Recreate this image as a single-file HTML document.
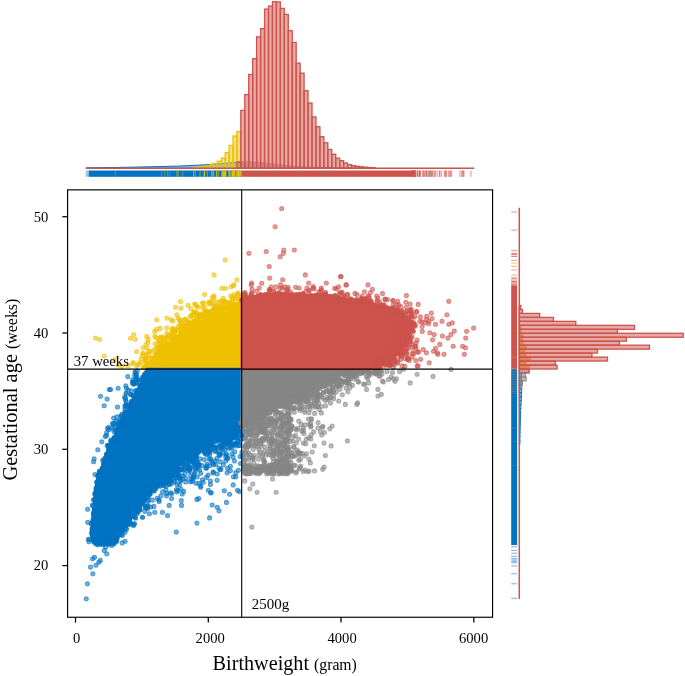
<!DOCTYPE html>
<html lang="en">
<head>
<meta charset="utf-8">
<title>Birthweight vs gestational age</title>
<style>
html,body{margin:0;padding:0;background:#fff;}
body{width:685px;height:676px;overflow:hidden;font-family:"Liberation Serif",serif;}
svg{display:block;}
.t text{font-family:"Liberation Serif",serif;fill:#000;}
svg{will-change:transform;}
.pts circle{r:2.05px;fill-opacity:.55;stroke-opacity:.6;stroke-width:1.05px;}
.pts .n circle{fill-opacity:.8;stroke-opacity:.8;}
</style>
</head>
<body>
<svg width="685" height="676" viewBox="0 0 685 676"><rect width="685" height="676" fill="#fff"/><g class="pts"><path d="M241.7 369.1 L241.7 304.8 L239.9 305.3 L230.5 306.6 L221.0 308.5 L213.0 311.2 L205.5 314.6 L197.5 318.9 L189.9 324.0 L186.0 327.6 L182.2 331.7 L178.2 336.3 L174.2 341.3 L170.0 345.5 L166.1 349.4 L162.0 353.5 L158.0 357.5 L153.8 361.0 L149.9 364.0 L147.9 366.4 L145.7 369.1Z" fill="#EFC000" stroke="#EFC000" stroke-width="2.5" stroke-linejoin="round"/><g fill="#EFC000" stroke="#EFC000"><g class="n"><circle cx="178.3" cy="339.0" r="2.05"/><circle cx="210.2" cy="314.0" r="2.05"/><circle cx="199.8" cy="321.4" r="2.05"/><circle cx="156.2" cy="357.7" r="2.05"/><circle cx="223.9" cy="310.1" r="2.05"/><circle cx="168.0" cy="350.2" r="2.05"/><circle cx="160.1" cy="358.3" r="2.05"/><circle cx="233.8" cy="306.2" r="2.05"/><circle cx="227.5" cy="308.8" r="2.05"/><circle cx="212.9" cy="310.6" r="2.05"/><circle cx="179.3" cy="330.1" r="2.05"/><circle cx="189.8" cy="323.1" r="2.05"/><circle cx="230.1" cy="309.4" r="2.05"/><circle cx="150.4" cy="366.7" r="2.05"/><circle cx="190.8" cy="323.7" r="2.05"/><circle cx="152.0" cy="363.5" r="2.05"/><circle cx="182.2" cy="336.1" r="2.05"/><circle cx="215.6" cy="314.0" r="2.05"/><circle cx="240.9" cy="306.2" r="2.05"/><circle cx="179.4" cy="335.7" r="2.05"/><circle cx="200.4" cy="321.8" r="2.05"/><circle cx="151.4" cy="357.7" r="2.05"/><circle cx="221.1" cy="311.6" r="2.05"/><circle cx="217.5" cy="309.7" r="2.05"/><circle cx="154.5" cy="357.9" r="2.05"/><circle cx="150.1" cy="366.7" r="2.05"/><circle cx="167.3" cy="349.4" r="2.05"/><circle cx="194.3" cy="321.4" r="2.05"/><circle cx="195.8" cy="316.5" r="2.05"/><circle cx="229.2" cy="305.5" r="2.05"/><circle cx="204.8" cy="316.5" r="2.05"/><circle cx="160.1" cy="359.4" r="2.05"/><circle cx="179.9" cy="338.9" r="2.05"/><circle cx="155.8" cy="362.0" r="2.05"/><circle cx="183.6" cy="333.6" r="2.05"/><circle cx="199.4" cy="315.8" r="2.05"/><circle cx="176.5" cy="341.6" r="2.05"/><circle cx="225.1" cy="309.1" r="2.05"/><circle cx="210.8" cy="315.3" r="2.05"/><circle cx="203.4" cy="314.8" r="2.05"/><circle cx="151.1" cy="364.2" r="2.05"/><circle cx="168.2" cy="347.5" r="2.05"/><circle cx="231.0" cy="309.6" r="2.05"/><circle cx="211.5" cy="311.2" r="2.05"/><circle cx="171.5" cy="347.7" r="2.05"/><circle cx="154.2" cy="362.6" r="2.05"/><circle cx="191.4" cy="324.9" r="2.05"/><circle cx="202.8" cy="315.5" r="2.05"/><circle cx="189.8" cy="324.0" r="2.05"/><circle cx="160.5" cy="353.9" r="2.05"/><circle cx="172.4" cy="347.5" r="2.05"/><circle cx="197.4" cy="320.3" r="2.05"/><circle cx="193.3" cy="324.9" r="2.05"/><circle cx="231.9" cy="307.0" r="2.05"/><circle cx="214.2" cy="309.1" r="2.05"/><circle cx="231.3" cy="305.4" r="2.05"/><circle cx="155.4" cy="363.3" r="2.05"/><circle cx="168.9" cy="345.5" r="2.05"/><circle cx="237.4" cy="306.3" r="2.05"/><circle cx="219.9" cy="309.2" r="2.05"/><circle cx="229.2" cy="307.7" r="2.05"/><circle cx="167.1" cy="349.5" r="2.05"/><circle cx="170.0" cy="345.9" r="2.05"/><circle cx="155.4" cy="360.9" r="2.05"/><circle cx="161.5" cy="356.7" r="2.05"/><circle cx="177.9" cy="338.3" r="2.05"/><circle cx="226.6" cy="308.4" r="2.05"/><circle cx="210.7" cy="315.1" r="2.05"/><circle cx="143.0" cy="353.2" r="2.05"/><circle cx="193.3" cy="324.2" r="2.05"/><circle cx="164.3" cy="354.2" r="2.05"/><circle cx="201.8" cy="320.0" r="2.05"/><circle cx="220.5" cy="307.8" r="2.05"/><circle cx="207.6" cy="312.9" r="2.05"/><circle cx="180.2" cy="335.7" r="2.05"/><circle cx="192.3" cy="325.0" r="2.05"/><circle cx="181.2" cy="331.9" r="2.05"/><circle cx="160.4" cy="356.6" r="2.05"/><circle cx="227.8" cy="309.0" r="2.05"/><circle cx="225.0" cy="307.9" r="2.05"/><circle cx="215.3" cy="313.9" r="2.05"/><circle cx="155.1" cy="362.2" r="2.05"/><circle cx="184.0" cy="331.5" r="2.05"/><circle cx="234.7" cy="308.8" r="2.05"/><circle cx="186.2" cy="328.0" r="2.05"/><circle cx="169.6" cy="348.8" r="2.05"/><circle cx="235.8" cy="304.4" r="2.05"/><circle cx="186.0" cy="331.9" r="2.05"/><circle cx="191.7" cy="323.7" r="2.05"/><circle cx="171.5" cy="345.4" r="2.05"/><circle cx="240.7" cy="305.4" r="2.05"/><circle cx="213.7" cy="313.0" r="2.05"/><circle cx="161.7" cy="354.1" r="2.05"/><circle cx="167.4" cy="348.8" r="2.05"/><circle cx="237.4" cy="305.9" r="2.05"/><circle cx="146.4" cy="363.4" r="2.05"/><circle cx="209.2" cy="312.0" r="2.05"/><circle cx="231.8" cy="306.1" r="2.05"/><circle cx="160.8" cy="355.7" r="2.05"/><circle cx="149.9" cy="364.6" r="2.05"/><circle cx="205.8" cy="311.7" r="2.05"/><circle cx="149.6" cy="367.3" r="2.05"/><circle cx="226.9" cy="311.0" r="2.05"/><circle cx="172.9" cy="346.4" r="2.05"/><circle cx="227.2" cy="310.3" r="2.05"/><circle cx="200.8" cy="316.8" r="2.05"/><circle cx="154.8" cy="360.3" r="2.05"/><circle cx="187.6" cy="329.6" r="2.05"/><circle cx="167.8" cy="350.9" r="2.05"/><circle cx="187.8" cy="329.3" r="2.05"/><circle cx="200.7" cy="318.8" r="2.05"/><circle cx="200.5" cy="318.2" r="2.05"/><circle cx="236.4" cy="304.3" r="2.05"/><circle cx="237.6" cy="306.8" r="2.05"/><circle cx="229.7" cy="302.8" r="2.05"/><circle cx="182.7" cy="332.4" r="2.05"/><circle cx="151.9" cy="360.0" r="2.05"/><circle cx="174.9" cy="342.2" r="2.05"/><circle cx="182.3" cy="330.0" r="2.05"/><circle cx="229.7" cy="306.7" r="2.05"/><circle cx="221.6" cy="311.0" r="2.05"/><circle cx="156.8" cy="361.0" r="2.05"/><circle cx="202.6" cy="318.5" r="2.05"/><circle cx="239.6" cy="304.8" r="2.05"/><circle cx="190.3" cy="326.4" r="2.05"/><circle cx="231.8" cy="307.6" r="2.05"/><circle cx="182.7" cy="328.0" r="2.05"/><circle cx="152.9" cy="363.3" r="2.05"/><circle cx="235.2" cy="307.9" r="2.05"/><circle cx="211.8" cy="312.6" r="2.05"/><circle cx="182.7" cy="332.5" r="2.05"/><circle cx="181.6" cy="330.4" r="2.05"/><circle cx="209.3" cy="313.4" r="2.05"/><circle cx="238.2" cy="305.7" r="2.05"/><circle cx="173.9" cy="342.0" r="2.05"/><circle cx="212.7" cy="313.6" r="2.05"/><circle cx="236.2" cy="307.9" r="2.05"/><circle cx="212.5" cy="314.5" r="2.05"/><circle cx="160.4" cy="356.1" r="2.05"/><circle cx="160.0" cy="355.0" r="2.05"/><circle cx="179.6" cy="337.7" r="2.05"/><circle cx="158.7" cy="352.3" r="2.05"/><circle cx="207.3" cy="316.6" r="2.05"/><circle cx="163.5" cy="347.3" r="2.05"/><circle cx="153.5" cy="365.7" r="2.05"/><circle cx="186.1" cy="324.7" r="2.05"/><circle cx="217.3" cy="311.9" r="2.05"/><circle cx="200.2" cy="317.7" r="2.05"/><circle cx="241.2" cy="305.8" r="2.05"/><circle cx="188.6" cy="326.9" r="2.05"/><circle cx="159.3" cy="349.8" r="2.05"/><circle cx="188.9" cy="326.5" r="2.05"/><circle cx="241.0" cy="307.1" r="2.05"/><circle cx="159.9" cy="354.9" r="2.05"/><circle cx="176.1" cy="342.0" r="2.05"/><circle cx="223.1" cy="308.4" r="2.05"/><circle cx="237.3" cy="306.7" r="2.05"/><circle cx="210.7" cy="315.8" r="2.05"/><circle cx="158.4" cy="357.7" r="2.05"/><circle cx="162.9" cy="346.0" r="2.05"/><circle cx="191.1" cy="323.6" r="2.05"/><circle cx="162.3" cy="349.9" r="2.05"/><circle cx="159.6" cy="359.2" r="2.05"/><circle cx="157.6" cy="355.4" r="2.05"/><circle cx="152.4" cy="363.4" r="2.05"/><circle cx="201.9" cy="318.4" r="2.05"/><circle cx="181.4" cy="332.4" r="2.05"/><circle cx="187.7" cy="322.9" r="2.05"/><circle cx="217.3" cy="310.7" r="2.05"/><circle cx="175.2" cy="331.1" r="2.05"/><circle cx="214.5" cy="311.6" r="2.05"/><circle cx="222.5" cy="310.5" r="2.05"/><circle cx="158.1" cy="357.6" r="2.05"/><circle cx="179.8" cy="338.1" r="2.05"/><circle cx="162.0" cy="358.3" r="2.05"/><circle cx="149.4" cy="364.2" r="2.05"/><circle cx="239.5" cy="307.8" r="2.05"/><circle cx="148.0" cy="364.7" r="2.05"/><circle cx="224.6" cy="306.1" r="2.05"/><circle cx="199.3" cy="318.7" r="2.05"/><circle cx="242.1" cy="307.2" r="2.05"/><circle cx="179.1" cy="337.2" r="2.05"/><circle cx="161.9" cy="355.5" r="2.05"/><circle cx="145.5" cy="359.1" r="2.05"/><circle cx="196.5" cy="322.7" r="2.05"/><circle cx="202.2" cy="318.1" r="2.05"/><circle cx="190.9" cy="323.1" r="2.05"/><circle cx="163.1" cy="349.1" r="2.05"/><circle cx="170.0" cy="347.9" r="2.05"/><circle cx="182.5" cy="326.7" r="2.05"/><circle cx="151.2" cy="362.8" r="2.05"/><circle cx="149.4" cy="366.4" r="2.05"/><circle cx="173.9" cy="341.6" r="2.05"/><circle cx="155.1" cy="361.7" r="2.05"/><circle cx="153.5" cy="363.3" r="2.05"/><circle cx="185.8" cy="325.1" r="2.05"/><circle cx="240.0" cy="302.7" r="2.05"/><circle cx="182.7" cy="334.7" r="2.05"/><circle cx="222.5" cy="311.4" r="2.05"/><circle cx="232.2" cy="307.8" r="2.05"/><circle cx="212.8" cy="314.7" r="2.05"/><circle cx="207.5" cy="314.4" r="2.05"/><circle cx="213.8" cy="309.4" r="2.05"/><circle cx="217.9" cy="310.6" r="2.05"/><circle cx="233.1" cy="308.3" r="2.05"/><circle cx="201.1" cy="319.4" r="2.05"/><circle cx="177.1" cy="341.7" r="2.05"/><circle cx="201.7" cy="316.2" r="2.05"/><circle cx="147.5" cy="366.0" r="2.05"/><circle cx="216.0" cy="311.7" r="2.05"/><circle cx="163.1" cy="354.7" r="2.05"/><circle cx="207.4" cy="315.9" r="2.05"/><circle cx="215.5" cy="310.9" r="2.05"/><circle cx="160.6" cy="352.2" r="2.05"/><circle cx="188.6" cy="326.2" r="2.05"/><circle cx="185.2" cy="328.1" r="2.05"/><circle cx="242.3" cy="303.1" r="2.05"/><circle cx="224.9" cy="308.7" r="2.05"/><circle cx="152.6" cy="365.0" r="2.05"/><circle cx="204.2" cy="318.0" r="2.05"/><circle cx="184.0" cy="331.4" r="2.05"/><circle cx="216.4" cy="310.5" r="2.05"/><circle cx="183.0" cy="328.4" r="2.05"/><circle cx="215.4" cy="308.1" r="2.05"/><circle cx="235.6" cy="307.4" r="2.05"/><circle cx="162.2" cy="353.9" r="2.05"/><circle cx="215.6" cy="312.0" r="2.05"/><circle cx="207.8" cy="315.9" r="2.05"/><circle cx="151.6" cy="365.7" r="2.05"/><circle cx="169.5" cy="351.5" r="2.05"/><circle cx="184.1" cy="326.2" r="2.05"/><circle cx="209.9" cy="315.5" r="2.05"/><circle cx="208.1" cy="314.0" r="2.05"/><circle cx="228.4" cy="308.4" r="2.05"/><circle cx="161.9" cy="350.0" r="2.05"/><circle cx="155.9" cy="358.3" r="2.05"/><circle cx="198.3" cy="319.7" r="2.05"/><circle cx="206.2" cy="315.2" r="2.05"/><circle cx="234.5" cy="305.6" r="2.05"/><circle cx="166.3" cy="350.4" r="2.05"/><circle cx="174.2" cy="342.1" r="2.05"/><circle cx="184.0" cy="328.4" r="2.05"/><circle cx="180.8" cy="334.4" r="2.05"/><circle cx="178.7" cy="336.3" r="2.05"/><circle cx="174.1" cy="341.5" r="2.05"/><circle cx="166.4" cy="350.3" r="2.05"/><circle cx="177.1" cy="338.0" r="2.05"/><circle cx="216.6" cy="311.0" r="2.05"/><circle cx="175.3" cy="339.2" r="2.05"/><circle cx="213.2" cy="313.1" r="2.05"/><circle cx="173.5" cy="335.9" r="2.05"/><circle cx="143.4" cy="367.4" r="2.05"/><circle cx="176.2" cy="341.8" r="2.05"/><circle cx="186.7" cy="329.5" r="2.05"/><circle cx="185.9" cy="329.1" r="2.05"/><circle cx="217.4" cy="310.8" r="2.05"/><circle cx="177.2" cy="340.8" r="2.05"/><circle cx="182.4" cy="331.8" r="2.05"/><circle cx="174.8" cy="331.8" r="2.05"/><circle cx="205.3" cy="317.7" r="2.05"/><circle cx="215.9" cy="306.7" r="2.05"/><circle cx="187.1" cy="330.5" r="2.05"/><circle cx="207.4" cy="315.9" r="2.05"/><circle cx="165.0" cy="352.4" r="2.05"/><circle cx="192.1" cy="324.0" r="2.05"/><circle cx="214.0" cy="311.9" r="2.05"/><circle cx="167.3" cy="342.7" r="2.05"/><circle cx="166.0" cy="343.6" r="2.05"/><circle cx="191.7" cy="322.9" r="2.05"/><circle cx="174.4" cy="339.9" r="2.05"/><circle cx="232.8" cy="309.2" r="2.05"/><circle cx="229.1" cy="309.1" r="2.05"/><circle cx="170.4" cy="348.6" r="2.05"/><circle cx="231.4" cy="308.7" r="2.05"/><circle cx="157.5" cy="354.2" r="2.05"/><circle cx="159.7" cy="358.9" r="2.05"/><circle cx="150.3" cy="362.6" r="2.05"/><circle cx="155.8" cy="354.5" r="2.05"/><circle cx="201.1" cy="318.8" r="2.05"/><circle cx="214.4" cy="309.8" r="2.05"/><circle cx="165.3" cy="353.9" r="2.05"/><circle cx="199.9" cy="314.3" r="2.05"/><circle cx="169.9" cy="347.6" r="2.05"/><circle cx="219.0" cy="310.6" r="2.05"/><circle cx="174.7" cy="343.3" r="2.05"/><circle cx="172.1" cy="344.3" r="2.05"/><circle cx="234.5" cy="306.2" r="2.05"/><circle cx="182.6" cy="334.0" r="2.05"/><circle cx="171.6" cy="346.7" r="2.05"/><circle cx="185.5" cy="327.6" r="2.05"/><circle cx="210.1" cy="312.6" r="2.05"/><circle cx="163.6" cy="354.1" r="2.05"/><circle cx="161.3" cy="355.0" r="2.05"/><circle cx="176.1" cy="341.3" r="2.05"/><circle cx="238.3" cy="307.0" r="2.05"/><circle cx="164.7" cy="353.7" r="2.05"/><circle cx="183.4" cy="331.2" r="2.05"/><circle cx="215.6" cy="311.6" r="2.05"/><circle cx="158.4" cy="354.7" r="2.05"/><circle cx="148.5" cy="365.1" r="2.05"/><circle cx="220.1" cy="308.4" r="2.05"/><circle cx="160.3" cy="354.3" r="2.05"/><circle cx="182.3" cy="334.2" r="2.05"/><circle cx="156.4" cy="355.6" r="2.05"/><circle cx="174.4" cy="338.1" r="2.05"/><circle cx="155.5" cy="355.8" r="2.05"/><circle cx="221.1" cy="308.4" r="2.05"/><circle cx="165.6" cy="349.0" r="2.05"/><circle cx="171.8" cy="345.6" r="2.05"/><circle cx="178.8" cy="336.6" r="2.05"/><circle cx="179.9" cy="338.0" r="2.05"/><circle cx="159.8" cy="357.8" r="2.05"/><circle cx="167.5" cy="348.1" r="2.05"/><circle cx="170.6" cy="348.0" r="2.05"/><circle cx="196.2" cy="321.9" r="2.05"/><circle cx="230.2" cy="303.6" r="2.05"/><circle cx="220.1" cy="311.2" r="2.05"/><circle cx="160.2" cy="347.1" r="2.05"/><circle cx="189.6" cy="327.4" r="2.05"/><circle cx="192.7" cy="324.7" r="2.05"/><circle cx="171.0" cy="340.7" r="2.05"/><circle cx="179.1" cy="339.2" r="2.05"/><circle cx="221.8" cy="310.6" r="2.05"/><circle cx="230.3" cy="309.1" r="2.05"/><circle cx="217.9" cy="312.4" r="2.05"/><circle cx="194.1" cy="320.7" r="2.05"/><circle cx="212.8" cy="312.2" r="2.05"/><circle cx="217.5" cy="311.4" r="2.05"/><circle cx="216.5" cy="313.0" r="2.05"/><circle cx="170.5" cy="347.3" r="2.05"/><circle cx="209.0" cy="313.6" r="2.05"/><circle cx="193.1" cy="325.2" r="2.05"/><circle cx="188.8" cy="326.9" r="2.05"/><circle cx="149.5" cy="367.6" r="2.05"/><circle cx="204.0" cy="316.8" r="2.05"/><circle cx="196.8" cy="320.4" r="2.05"/><circle cx="205.3" cy="313.1" r="2.05"/><circle cx="154.4" cy="359.0" r="2.05"/><circle cx="204.8" cy="317.7" r="2.05"/><circle cx="202.1" cy="315.3" r="2.05"/><circle cx="181.5" cy="335.0" r="2.05"/><circle cx="208.8" cy="316.1" r="2.05"/><circle cx="176.7" cy="336.8" r="2.05"/><circle cx="207.3" cy="314.1" r="2.05"/><circle cx="219.3" cy="310.1" r="2.05"/><circle cx="235.0" cy="308.0" r="2.05"/><circle cx="219.2" cy="311.5" r="2.05"/><circle cx="196.4" cy="321.0" r="2.05"/><circle cx="179.8" cy="335.3" r="2.05"/><circle cx="157.6" cy="358.6" r="2.05"/><circle cx="214.2" cy="313.4" r="2.05"/><circle cx="184.3" cy="331.1" r="2.05"/><circle cx="189.5" cy="326.2" r="2.05"/><circle cx="183.3" cy="332.1" r="2.05"/><circle cx="165.1" cy="352.0" r="2.05"/><circle cx="168.6" cy="345.9" r="2.05"/><circle cx="223.2" cy="310.6" r="2.05"/><circle cx="152.8" cy="365.9" r="2.05"/><circle cx="207.2" cy="311.4" r="2.05"/><circle cx="231.9" cy="302.1" r="2.05"/><circle cx="211.2" cy="312.9" r="2.05"/><circle cx="183.5" cy="328.5" r="2.05"/><circle cx="187.5" cy="326.8" r="2.05"/><circle cx="233.4" cy="306.4" r="2.05"/><circle cx="179.3" cy="337.6" r="2.05"/><circle cx="228.2" cy="309.3" r="2.05"/><circle cx="172.8" cy="337.9" r="2.05"/><circle cx="231.3" cy="308.0" r="2.05"/><circle cx="162.4" cy="349.8" r="2.05"/><circle cx="229.1" cy="309.4" r="2.05"/><circle cx="181.2" cy="336.7" r="2.05"/><circle cx="157.5" cy="358.9" r="2.05"/><circle cx="226.4" cy="309.8" r="2.05"/><circle cx="200.4" cy="318.2" r="2.05"/><circle cx="203.2" cy="315.8" r="2.05"/><circle cx="160.5" cy="349.3" r="2.05"/><circle cx="166.6" cy="349.0" r="2.05"/><circle cx="185.1" cy="327.5" r="2.05"/><circle cx="193.9" cy="323.5" r="2.05"/><circle cx="184.7" cy="331.6" r="2.05"/><circle cx="147.1" cy="367.9" r="2.05"/><circle cx="174.5" cy="340.4" r="2.05"/><circle cx="178.2" cy="339.2" r="2.05"/><circle cx="221.4" cy="310.2" r="2.05"/><circle cx="144.6" cy="367.7" r="2.05"/><circle cx="170.2" cy="350.0" r="2.05"/><circle cx="160.2" cy="358.5" r="2.05"/><circle cx="212.6" cy="314.2" r="2.05"/><circle cx="150.4" cy="364.6" r="2.05"/><circle cx="163.0" cy="354.3" r="2.05"/><circle cx="172.2" cy="345.4" r="2.05"/></g><circle cx="175.6" cy="307.2" r="2.05"/><circle cx="190.9" cy="315.7" r="2.05"/><circle cx="203.7" cy="312.0" r="2.05"/><circle cx="188.2" cy="305.4" r="2.05"/><circle cx="172.5" cy="330.8" r="2.05"/><circle cx="160.6" cy="340.4" r="2.05"/><circle cx="181.5" cy="322.8" r="2.05"/><circle cx="152.5" cy="351.3" r="2.05"/><circle cx="178.5" cy="326.2" r="2.05"/><circle cx="190.6" cy="317.1" r="2.05"/><circle cx="224.2" cy="300.7" r="2.05"/><circle cx="162.7" cy="338.6" r="2.05"/><circle cx="178.0" cy="318.0" r="2.05"/><circle cx="223.1" cy="298.4" r="2.05"/><circle cx="239.6" cy="298.9" r="2.05"/><circle cx="148.6" cy="352.0" r="2.05"/><circle cx="202.6" cy="307.5" r="2.05"/><circle cx="212.3" cy="297.5" r="2.05"/><circle cx="133.4" cy="362.5" r="2.05"/><circle cx="168.0" cy="336.9" r="2.05"/><circle cx="145.7" cy="360.0" r="2.05"/><circle cx="209.0" cy="303.8" r="2.05"/><circle cx="233.0" cy="298.9" r="2.05"/><circle cx="225.5" cy="301.8" r="2.05"/><circle cx="213.9" cy="295.7" r="2.05"/><circle cx="145.9" cy="354.9" r="2.05"/><circle cx="233.9" cy="294.9" r="2.05"/><circle cx="166.8" cy="333.3" r="2.05"/><circle cx="231.2" cy="286.7" r="2.05"/><circle cx="170.7" cy="338.1" r="2.05"/><circle cx="166.5" cy="337.6" r="2.05"/><circle cx="227.3" cy="302.4" r="2.05"/><circle cx="172.4" cy="329.5" r="2.05"/><circle cx="161.0" cy="343.6" r="2.05"/><circle cx="185.3" cy="319.1" r="2.05"/><circle cx="231.7" cy="297.8" r="2.05"/><circle cx="147.3" cy="348.0" r="2.05"/><circle cx="198.2" cy="307.0" r="2.05"/><circle cx="180.1" cy="325.2" r="2.05"/><circle cx="158.6" cy="347.7" r="2.05"/><circle cx="164.7" cy="349.0" r="2.05"/><circle cx="213.9" cy="297.5" r="2.05"/><circle cx="163.9" cy="342.3" r="2.05"/><circle cx="148.4" cy="355.2" r="2.05"/><circle cx="235.4" cy="304.2" r="2.05"/><circle cx="196.6" cy="312.2" r="2.05"/><circle cx="162.3" cy="336.7" r="2.05"/><circle cx="148.0" cy="342.4" r="2.05"/><circle cx="203.4" cy="303.1" r="2.05"/><circle cx="171.2" cy="319.7" r="2.05"/><circle cx="210.7" cy="301.7" r="2.05"/><circle cx="159.8" cy="349.4" r="2.05"/><circle cx="216.0" cy="305.8" r="2.05"/><circle cx="158.1" cy="343.9" r="2.05"/><circle cx="156.8" cy="351.7" r="2.05"/><circle cx="208.7" cy="302.2" r="2.05"/><circle cx="235.5" cy="299.1" r="2.05"/><circle cx="212.8" cy="303.3" r="2.05"/><circle cx="223.2" cy="302.0" r="2.05"/><circle cx="193.6" cy="312.9" r="2.05"/><circle cx="206.4" cy="312.6" r="2.05"/><circle cx="237.6" cy="294.1" r="2.05"/><circle cx="233.3" cy="285.7" r="2.05"/><circle cx="235.5" cy="296.7" r="2.05"/><circle cx="160.6" cy="346.8" r="2.05"/><circle cx="173.0" cy="320.9" r="2.05"/><circle cx="146.0" cy="344.5" r="2.05"/><circle cx="176.8" cy="314.7" r="2.05"/><circle cx="185.8" cy="319.9" r="2.05"/><circle cx="175.2" cy="328.8" r="2.05"/><circle cx="219.8" cy="306.2" r="2.05"/><circle cx="141.7" cy="362.5" r="2.05"/><circle cx="219.1" cy="302.5" r="2.05"/><circle cx="162.5" cy="345.6" r="2.05"/><circle cx="187.6" cy="321.6" r="2.05"/><circle cx="154.9" cy="343.7" r="2.05"/><circle cx="175.2" cy="329.9" r="2.05"/><circle cx="191.4" cy="315.4" r="2.05"/><circle cx="182.5" cy="320.4" r="2.05"/><circle cx="222.9" cy="301.4" r="2.05"/><circle cx="158.6" cy="340.7" r="2.05"/><circle cx="239.2" cy="299.8" r="2.05"/><circle cx="220.5" cy="300.8" r="2.05"/><circle cx="172.0" cy="333.2" r="2.05"/><circle cx="215.7" cy="301.9" r="2.05"/><circle cx="136.7" cy="351.6" r="2.05"/><circle cx="156.8" cy="319.7" r="2.05"/><circle cx="233.9" cy="284.7" r="2.05"/><circle cx="156.7" cy="329.4" r="2.05"/><circle cx="163.3" cy="339.6" r="2.05"/><circle cx="168.5" cy="334.6" r="2.05"/><circle cx="230.7" cy="296.0" r="2.05"/><circle cx="222.3" cy="304.2" r="2.05"/><circle cx="149.5" cy="351.4" r="2.05"/><circle cx="196.5" cy="314.0" r="2.05"/><circle cx="194.8" cy="312.1" r="2.05"/><circle cx="173.2" cy="338.5" r="2.05"/><circle cx="148.1" cy="339.4" r="2.05"/><circle cx="194.2" cy="312.0" r="2.05"/><circle cx="172.2" cy="328.2" r="2.05"/><circle cx="210.1" cy="302.9" r="2.05"/><circle cx="179.5" cy="320.1" r="2.05"/><circle cx="171.7" cy="334.9" r="2.05"/><circle cx="142.5" cy="355.7" r="2.05"/><circle cx="160.3" cy="328.4" r="2.05"/><circle cx="160.3" cy="337.3" r="2.05"/><circle cx="204.6" cy="307.4" r="2.05"/><circle cx="138.3" cy="364.7" r="2.05"/><circle cx="165.9" cy="338.4" r="2.05"/><circle cx="213.2" cy="306.8" r="2.05"/><circle cx="240.1" cy="297.3" r="2.05"/><circle cx="179.6" cy="321.1" r="2.05"/><circle cx="141.1" cy="358.7" r="2.05"/><circle cx="157.2" cy="347.3" r="2.05"/><circle cx="156.5" cy="337.9" r="2.05"/><circle cx="195.8" cy="304.5" r="2.05"/><circle cx="174.9" cy="331.5" r="2.05"/><circle cx="196.6" cy="306.3" r="2.05"/><circle cx="238.2" cy="292.7" r="2.05"/><circle cx="136.9" cy="365.9" r="2.05"/><circle cx="225.1" cy="260.0" r="2.05"/><circle cx="214.1" cy="274.9" r="2.05"/><circle cx="236.9" cy="279.9" r="2.05"/><circle cx="222.0" cy="288.3" r="2.05"/><circle cx="225.6" cy="288.3" r="2.05"/><circle cx="204.6" cy="294.6" r="2.05"/><circle cx="238.3" cy="295.2" r="2.05"/><circle cx="180.5" cy="301.5" r="2.05"/><circle cx="194.6" cy="304.1" r="2.05"/><circle cx="202.5" cy="303.0" r="2.05"/><circle cx="181.0" cy="308.3" r="2.05"/><circle cx="191.0" cy="308.8" r="2.05"/><circle cx="167.0" cy="318.0" r="2.05"/><circle cx="166.8" cy="328.0" r="2.05"/><circle cx="154.7" cy="331.4" r="2.05"/><circle cx="133.7" cy="334.6" r="2.05"/><circle cx="130.5" cy="338.3" r="2.05"/><circle cx="135.3" cy="339.3" r="2.05"/><circle cx="146.8" cy="336.4" r="2.05"/><circle cx="95.6" cy="338.0" r="2.05"/><circle cx="99.8" cy="339.6" r="2.05"/><circle cx="143.1" cy="347.7" r="2.05"/><circle cx="104.3" cy="356.1" r="2.05"/><circle cx="114.8" cy="359.5" r="2.05"/><circle cx="146.8" cy="358.2" r="2.05"/><circle cx="138.9" cy="363.0" r="2.05"/><circle cx="132.4" cy="363.5" r="2.05"/><circle cx="154.7" cy="349.0" r="2.05"/><circle cx="161.3" cy="345.1" r="2.05"/><circle cx="154.7" cy="336.4" r="2.05"/><circle cx="160.0" cy="337.7" r="2.05"/><circle cx="128.0" cy="366.0" r="2.05"/><circle cx="122.0" cy="366.5" r="2.05"/><circle cx="118.0" cy="365.0" r="2.05"/></g><path d="M146.8 369.1 L241.7 369.1 L241.7 427.8 L227.7 432.9 L219.9 439.2 L212.4 442.2 L204.3 447.0 L196.7 453.1 L189.3 457.5 L181.1 461.7 L173.2 470.4 L165.7 477.2 L158.0 484.1 L150.1 491.3 L144.1 499.4 L137.4 508.0 L133.3 514.8 L129.6 521.0 L122.3 527.6 L117.8 535.2 L116.1 541.1 L112.0 543.6 L100.0 543.8 L94.5 543.0 L92.4 541.8 L91.5 534.0 L93.3 523.5 L93.5 510.1 L94.9 496.8 L96.2 483.6 L99.4 471.7 L103.8 463.3 L106.2 455.0 L109.4 447.1 L113.4 439.1 L118.3 430.9 L122.4 422.8 L126.4 414.7 L130.6 406.5 L133.8 398.3 L137.8 390.3 L142.0 382.1Z" fill="#0073C2" stroke="#0073C2" stroke-width="2.5" stroke-linejoin="round"/><g fill="#0073C2" stroke="#0073C2"><g class="n"><circle cx="166.1" cy="474.7" r="2.05"/><circle cx="156.7" cy="482.2" r="2.05"/><circle cx="231.2" cy="434.8" r="2.05"/><circle cx="209.2" cy="442.1" r="2.05"/><circle cx="151.9" cy="487.5" r="2.05"/><circle cx="195.1" cy="453.7" r="2.05"/><circle cx="161.9" cy="479.4" r="2.05"/><circle cx="228.4" cy="430.4" r="2.05"/><circle cx="209.2" cy="447.6" r="2.05"/><circle cx="221.5" cy="438.2" r="2.05"/><circle cx="148.7" cy="492.0" r="2.05"/><circle cx="167.0" cy="471.6" r="2.05"/><circle cx="209.9" cy="443.8" r="2.05"/><circle cx="240.3" cy="429.4" r="2.05"/><circle cx="207.0" cy="445.9" r="2.05"/><circle cx="122.4" cy="529.8" r="2.05"/><circle cx="138.8" cy="503.7" r="2.05"/><circle cx="237.1" cy="427.4" r="2.05"/><circle cx="133.2" cy="515.3" r="2.05"/><circle cx="219.8" cy="437.0" r="2.05"/><circle cx="162.5" cy="483.9" r="2.05"/><circle cx="115.7" cy="535.5" r="2.05"/><circle cx="121.0" cy="527.8" r="2.05"/><circle cx="173.8" cy="466.5" r="2.05"/><circle cx="164.1" cy="480.5" r="2.05"/><circle cx="190.5" cy="457.2" r="2.05"/><circle cx="136.9" cy="504.3" r="2.05"/><circle cx="158.2" cy="481.0" r="2.05"/><circle cx="129.1" cy="519.5" r="2.05"/><circle cx="120.6" cy="529.2" r="2.05"/><circle cx="154.3" cy="482.8" r="2.05"/><circle cx="222.7" cy="435.9" r="2.05"/><circle cx="136.8" cy="507.6" r="2.05"/><circle cx="181.7" cy="463.8" r="2.05"/><circle cx="157.6" cy="482.2" r="2.05"/><circle cx="208.4" cy="446.7" r="2.05"/><circle cx="137.0" cy="506.0" r="2.05"/><circle cx="160.5" cy="482.7" r="2.05"/><circle cx="198.8" cy="450.1" r="2.05"/><circle cx="140.0" cy="505.0" r="2.05"/><circle cx="207.5" cy="442.3" r="2.05"/><circle cx="135.5" cy="517.9" r="2.05"/><circle cx="235.7" cy="428.4" r="2.05"/><circle cx="143.5" cy="495.9" r="2.05"/><circle cx="128.1" cy="521.4" r="2.05"/><circle cx="118.6" cy="531.4" r="2.05"/><circle cx="179.2" cy="470.7" r="2.05"/><circle cx="198.4" cy="449.4" r="2.05"/><circle cx="138.7" cy="501.8" r="2.05"/><circle cx="147.7" cy="492.1" r="2.05"/><circle cx="175.0" cy="467.1" r="2.05"/><circle cx="210.3" cy="442.9" r="2.05"/><circle cx="148.2" cy="491.3" r="2.05"/><circle cx="232.5" cy="433.9" r="2.05"/><circle cx="238.1" cy="426.1" r="2.05"/><circle cx="133.1" cy="514.8" r="2.05"/><circle cx="225.9" cy="435.7" r="2.05"/><circle cx="185.5" cy="456.6" r="2.05"/><circle cx="129.0" cy="518.5" r="2.05"/><circle cx="161.6" cy="478.6" r="2.05"/><circle cx="146.3" cy="494.4" r="2.05"/><circle cx="115.5" cy="537.6" r="2.05"/><circle cx="183.2" cy="460.1" r="2.05"/><circle cx="201.9" cy="446.2" r="2.05"/><circle cx="229.4" cy="429.2" r="2.05"/><circle cx="191.2" cy="461.2" r="2.05"/><circle cx="208.6" cy="441.6" r="2.05"/><circle cx="153.6" cy="484.7" r="2.05"/><circle cx="220.6" cy="439.3" r="2.05"/><circle cx="133.1" cy="512.8" r="2.05"/><circle cx="236.0" cy="432.0" r="2.05"/><circle cx="198.0" cy="464.1" r="2.05"/><circle cx="145.3" cy="497.1" r="2.05"/><circle cx="115.3" cy="538.3" r="2.05"/><circle cx="116.4" cy="534.4" r="2.05"/><circle cx="190.3" cy="454.8" r="2.05"/><circle cx="178.0" cy="464.1" r="2.05"/><circle cx="184.8" cy="457.4" r="2.05"/><circle cx="130.3" cy="514.8" r="2.05"/><circle cx="120.3" cy="527.6" r="2.05"/><circle cx="120.3" cy="530.6" r="2.05"/><circle cx="224.6" cy="434.5" r="2.05"/><circle cx="123.2" cy="525.9" r="2.05"/><circle cx="135.0" cy="508.0" r="2.05"/><circle cx="125.8" cy="525.9" r="2.05"/><circle cx="139.9" cy="505.1" r="2.05"/><circle cx="215.5" cy="438.7" r="2.05"/><circle cx="220.8" cy="437.5" r="2.05"/><circle cx="151.2" cy="489.6" r="2.05"/><circle cx="220.9" cy="436.1" r="2.05"/><circle cx="182.4" cy="462.5" r="2.05"/><circle cx="116.5" cy="541.3" r="2.05"/><circle cx="127.9" cy="519.5" r="2.05"/><circle cx="178.1" cy="461.5" r="2.05"/><circle cx="216.0" cy="439.5" r="2.05"/><circle cx="171.5" cy="476.1" r="2.05"/><circle cx="157.0" cy="482.3" r="2.05"/><circle cx="175.6" cy="466.6" r="2.05"/><circle cx="219.8" cy="437.2" r="2.05"/><circle cx="179.3" cy="460.3" r="2.05"/><circle cx="155.5" cy="488.7" r="2.05"/><circle cx="157.7" cy="483.2" r="2.05"/><circle cx="196.0" cy="453.4" r="2.05"/><circle cx="166.1" cy="480.4" r="2.05"/><circle cx="166.6" cy="472.3" r="2.05"/><circle cx="225.2" cy="433.5" r="2.05"/><circle cx="129.5" cy="518.5" r="2.05"/><circle cx="116.1" cy="532.3" r="2.05"/><circle cx="138.6" cy="504.1" r="2.05"/><circle cx="163.8" cy="485.5" r="2.05"/><circle cx="149.4" cy="488.7" r="2.05"/><circle cx="146.8" cy="493.9" r="2.05"/><circle cx="235.1" cy="428.1" r="2.05"/><circle cx="180.6" cy="462.1" r="2.05"/><circle cx="196.0" cy="455.7" r="2.05"/><circle cx="194.9" cy="458.7" r="2.05"/><circle cx="142.2" cy="496.3" r="2.05"/><circle cx="231.9" cy="429.4" r="2.05"/><circle cx="238.1" cy="428.1" r="2.05"/><circle cx="115.4" cy="541.1" r="2.05"/><circle cx="218.5" cy="439.4" r="2.05"/><circle cx="114.0" cy="538.9" r="2.05"/><circle cx="195.6" cy="454.2" r="2.05"/><circle cx="163.2" cy="478.4" r="2.05"/><circle cx="170.4" cy="480.3" r="2.05"/><circle cx="201.5" cy="447.8" r="2.05"/><circle cx="174.3" cy="467.4" r="2.05"/><circle cx="139.7" cy="510.0" r="2.05"/><circle cx="208.8" cy="449.8" r="2.05"/><circle cx="145.4" cy="496.5" r="2.05"/><circle cx="116.9" cy="537.5" r="2.05"/><circle cx="136.0" cy="508.7" r="2.05"/><circle cx="148.1" cy="492.3" r="2.05"/><circle cx="202.7" cy="448.2" r="2.05"/><circle cx="170.7" cy="470.6" r="2.05"/><circle cx="122.9" cy="531.0" r="2.05"/><circle cx="124.2" cy="527.3" r="2.05"/><circle cx="140.5" cy="502.7" r="2.05"/><circle cx="164.6" cy="478.1" r="2.05"/><circle cx="187.0" cy="456.0" r="2.05"/><circle cx="207.9" cy="448.2" r="2.05"/><circle cx="157.6" cy="485.3" r="2.05"/><circle cx="200.3" cy="448.5" r="2.05"/><circle cx="165.1" cy="483.1" r="2.05"/><circle cx="126.4" cy="524.0" r="2.05"/><circle cx="144.0" cy="495.2" r="2.05"/><circle cx="125.1" cy="523.2" r="2.05"/><circle cx="120.1" cy="532.6" r="2.05"/><circle cx="211.4" cy="441.4" r="2.05"/><circle cx="230.6" cy="443.2" r="2.05"/><circle cx="203.9" cy="443.5" r="2.05"/><circle cx="129.1" cy="523.2" r="2.05"/><circle cx="187.7" cy="456.2" r="2.05"/><circle cx="149.5" cy="488.7" r="2.05"/><circle cx="174.9" cy="474.8" r="2.05"/><circle cx="220.5" cy="438.8" r="2.05"/><circle cx="189.6" cy="456.0" r="2.05"/><circle cx="218.1" cy="439.3" r="2.05"/><circle cx="222.3" cy="438.8" r="2.05"/><circle cx="127.6" cy="520.4" r="2.05"/><circle cx="197.8" cy="452.5" r="2.05"/><circle cx="165.8" cy="482.3" r="2.05"/><circle cx="144.5" cy="495.2" r="2.05"/><circle cx="134.5" cy="509.6" r="2.05"/><circle cx="132.6" cy="511.3" r="2.05"/><circle cx="238.9" cy="426.4" r="2.05"/><circle cx="134.4" cy="523.8" r="2.05"/><circle cx="152.8" cy="487.5" r="2.05"/><circle cx="218.0" cy="438.1" r="2.05"/><circle cx="175.6" cy="470.1" r="2.05"/><circle cx="170.4" cy="471.4" r="2.05"/><circle cx="136.2" cy="505.1" r="2.05"/><circle cx="211.3" cy="441.2" r="2.05"/><circle cx="118.9" cy="530.2" r="2.05"/><circle cx="137.3" cy="513.3" r="2.05"/><circle cx="228.6" cy="432.3" r="2.05"/><circle cx="176.6" cy="472.7" r="2.05"/><circle cx="237.1" cy="427.8" r="2.05"/><circle cx="140.0" cy="500.6" r="2.05"/><circle cx="196.1" cy="452.9" r="2.05"/><circle cx="137.0" cy="505.5" r="2.05"/><circle cx="120.1" cy="527.5" r="2.05"/><circle cx="125.1" cy="523.2" r="2.05"/><circle cx="237.9" cy="428.3" r="2.05"/><circle cx="143.2" cy="500.7" r="2.05"/><circle cx="184.3" cy="469.6" r="2.05"/><circle cx="183.5" cy="458.7" r="2.05"/><circle cx="150.8" cy="485.7" r="2.05"/><circle cx="148.3" cy="497.2" r="2.05"/><circle cx="168.3" cy="478.5" r="2.05"/><circle cx="223.5" cy="441.8" r="2.05"/><circle cx="236.6" cy="429.2" r="2.05"/><circle cx="123.5" cy="524.1" r="2.05"/><circle cx="166.3" cy="477.8" r="2.05"/><circle cx="182.9" cy="457.3" r="2.05"/><circle cx="236.4" cy="428.6" r="2.05"/><circle cx="182.0" cy="469.3" r="2.05"/><circle cx="237.3" cy="431.8" r="2.05"/><circle cx="170.8" cy="469.3" r="2.05"/><circle cx="125.3" cy="522.6" r="2.05"/><circle cx="225.2" cy="436.4" r="2.05"/><circle cx="210.7" cy="448.2" r="2.05"/><circle cx="196.9" cy="448.8" r="2.05"/><circle cx="217.5" cy="438.4" r="2.05"/><circle cx="118.0" cy="530.0" r="2.05"/><circle cx="148.3" cy="494.0" r="2.05"/><circle cx="180.3" cy="461.7" r="2.05"/><circle cx="198.8" cy="449.6" r="2.05"/><circle cx="119.4" cy="530.0" r="2.05"/><circle cx="167.8" cy="479.9" r="2.05"/><circle cx="170.0" cy="481.0" r="2.05"/><circle cx="116.4" cy="538.6" r="2.05"/><circle cx="221.7" cy="447.1" r="2.05"/><circle cx="183.9" cy="457.7" r="2.05"/><circle cx="151.8" cy="487.6" r="2.05"/><circle cx="192.1" cy="453.1" r="2.05"/><circle cx="205.1" cy="444.6" r="2.05"/><circle cx="230.6" cy="434.1" r="2.05"/><circle cx="210.2" cy="445.0" r="2.05"/><circle cx="217.4" cy="436.7" r="2.05"/><circle cx="223.5" cy="432.6" r="2.05"/><circle cx="115.9" cy="537.8" r="2.05"/><circle cx="208.2" cy="442.0" r="2.05"/><circle cx="145.0" cy="494.9" r="2.05"/><circle cx="196.0" cy="450.9" r="2.05"/><circle cx="183.1" cy="458.7" r="2.05"/><circle cx="138.1" cy="504.9" r="2.05"/><circle cx="214.3" cy="446.7" r="2.05"/><circle cx="204.7" cy="445.3" r="2.05"/><circle cx="207.5" cy="447.7" r="2.05"/><circle cx="185.7" cy="456.9" r="2.05"/><circle cx="237.5" cy="432.3" r="2.05"/><circle cx="165.5" cy="479.4" r="2.05"/><circle cx="198.9" cy="451.6" r="2.05"/><circle cx="152.8" cy="485.7" r="2.05"/><circle cx="163.4" cy="478.8" r="2.05"/><circle cx="162.2" cy="475.5" r="2.05"/><circle cx="228.9" cy="439.3" r="2.05"/><circle cx="133.8" cy="509.8" r="2.05"/><circle cx="135.8" cy="509.3" r="2.05"/><circle cx="221.0" cy="439.0" r="2.05"/><circle cx="120.3" cy="528.2" r="2.05"/><circle cx="134.3" cy="516.5" r="2.05"/><circle cx="125.4" cy="524.4" r="2.05"/><circle cx="133.4" cy="515.4" r="2.05"/><circle cx="162.4" cy="479.8" r="2.05"/><circle cx="175.3" cy="467.8" r="2.05"/><circle cx="185.4" cy="457.5" r="2.05"/><circle cx="232.4" cy="433.4" r="2.05"/><circle cx="140.1" cy="503.2" r="2.05"/><circle cx="237.9" cy="430.5" r="2.05"/><circle cx="182.6" cy="459.5" r="2.05"/><circle cx="115.3" cy="535.1" r="2.05"/><circle cx="178.0" cy="475.8" r="2.05"/><circle cx="143.4" cy="504.0" r="2.05"/><circle cx="211.8" cy="445.8" r="2.05"/><circle cx="144.8" cy="499.1" r="2.05"/><circle cx="194.6" cy="453.6" r="2.05"/><circle cx="153.8" cy="485.0" r="2.05"/><circle cx="119.9" cy="527.6" r="2.05"/><circle cx="200.7" cy="449.2" r="2.05"/><circle cx="199.4" cy="449.2" r="2.05"/><circle cx="233.2" cy="433.2" r="2.05"/><circle cx="181.6" cy="462.0" r="2.05"/><circle cx="196.3" cy="458.2" r="2.05"/><circle cx="198.4" cy="451.6" r="2.05"/><circle cx="206.5" cy="442.6" r="2.05"/><circle cx="163.5" cy="477.5" r="2.05"/><circle cx="128.6" cy="523.5" r="2.05"/><circle cx="154.8" cy="486.9" r="2.05"/><circle cx="158.7" cy="480.8" r="2.05"/><circle cx="225.9" cy="438.9" r="2.05"/><circle cx="147.9" cy="506.0" r="2.05"/><circle cx="122.9" cy="525.4" r="2.05"/><circle cx="137.9" cy="511.4" r="2.05"/><circle cx="169.9" cy="471.6" r="2.05"/><circle cx="234.8" cy="432.5" r="2.05"/><circle cx="170.0" cy="469.1" r="2.05"/><circle cx="155.3" cy="483.3" r="2.05"/><circle cx="151.2" cy="489.0" r="2.05"/><circle cx="226.2" cy="438.0" r="2.05"/><circle cx="231.3" cy="433.6" r="2.05"/><circle cx="119.8" cy="534.8" r="2.05"/><circle cx="134.6" cy="511.5" r="2.05"/><circle cx="126.4" cy="529.0" r="2.05"/><circle cx="179.4" cy="462.7" r="2.05"/><circle cx="223.6" cy="436.0" r="2.05"/><circle cx="142.8" cy="497.4" r="2.05"/><circle cx="166.6" cy="474.8" r="2.05"/><circle cx="138.3" cy="504.9" r="2.05"/><circle cx="155.3" cy="484.5" r="2.05"/><circle cx="120.2" cy="528.6" r="2.05"/><circle cx="134.9" cy="509.6" r="2.05"/><circle cx="185.0" cy="459.7" r="2.05"/><circle cx="131.9" cy="514.2" r="2.05"/><circle cx="123.2" cy="524.6" r="2.05"/><circle cx="146.5" cy="493.6" r="2.05"/><circle cx="229.7" cy="440.2" r="2.05"/><circle cx="135.9" cy="510.9" r="2.05"/><circle cx="154.5" cy="486.7" r="2.05"/><circle cx="131.9" cy="513.8" r="2.05"/><circle cx="205.1" cy="448.7" r="2.05"/><circle cx="196.4" cy="455.4" r="2.05"/><circle cx="208.3" cy="446.2" r="2.05"/><circle cx="173.7" cy="466.5" r="2.05"/><circle cx="142.5" cy="517.2" r="2.05"/><circle cx="166.1" cy="476.6" r="2.05"/><circle cx="147.5" cy="495.1" r="2.05"/><circle cx="157.7" cy="481.9" r="2.05"/><circle cx="186.6" cy="462.8" r="2.05"/><circle cx="197.7" cy="451.4" r="2.05"/><circle cx="147.1" cy="491.7" r="2.05"/><circle cx="155.3" cy="485.7" r="2.05"/><circle cx="182.0" cy="457.0" r="2.05"/><circle cx="126.7" cy="521.1" r="2.05"/><circle cx="125.4" cy="521.4" r="2.05"/><circle cx="152.0" cy="488.5" r="2.05"/><circle cx="219.8" cy="437.8" r="2.05"/><circle cx="169.3" cy="484.3" r="2.05"/><circle cx="158.4" cy="481.3" r="2.05"/><circle cx="192.2" cy="457.3" r="2.05"/><circle cx="182.8" cy="465.3" r="2.05"/><circle cx="139.0" cy="504.2" r="2.05"/><circle cx="210.4" cy="439.3" r="2.05"/><circle cx="202.2" cy="446.5" r="2.05"/><circle cx="119.1" cy="529.9" r="2.05"/><circle cx="172.3" cy="473.1" r="2.05"/><circle cx="137.4" cy="505.9" r="2.05"/><circle cx="143.9" cy="499.6" r="2.05"/><circle cx="116.6" cy="532.8" r="2.05"/><circle cx="158.4" cy="482.5" r="2.05"/><circle cx="227.9" cy="433.9" r="2.05"/><circle cx="162.5" cy="479.6" r="2.05"/><circle cx="205.5" cy="447.5" r="2.05"/><circle cx="194.1" cy="451.9" r="2.05"/><circle cx="116.3" cy="536.1" r="2.05"/><circle cx="222.4" cy="437.9" r="2.05"/><circle cx="126.4" cy="521.0" r="2.05"/><circle cx="133.8" cy="511.8" r="2.05"/><circle cx="170.6" cy="472.9" r="2.05"/><circle cx="158.6" cy="484.5" r="2.05"/><circle cx="215.1" cy="448.0" r="2.05"/><circle cx="116.3" cy="539.8" r="2.05"/><circle cx="180.0" cy="458.7" r="2.05"/><circle cx="168.3" cy="472.4" r="2.05"/><circle cx="204.6" cy="452.2" r="2.05"/><circle cx="166.6" cy="475.7" r="2.05"/><circle cx="236.0" cy="433.8" r="2.05"/><circle cx="176.1" cy="465.9" r="2.05"/><circle cx="166.8" cy="480.4" r="2.05"/><circle cx="128.2" cy="524.5" r="2.05"/><circle cx="120.8" cy="529.9" r="2.05"/><circle cx="208.8" cy="445.0" r="2.05"/><circle cx="150.4" cy="490.9" r="2.05"/><circle cx="134.7" cy="511.9" r="2.05"/><circle cx="227.1" cy="429.4" r="2.05"/><circle cx="127.6" cy="520.9" r="2.05"/><circle cx="203.8" cy="447.9" r="2.05"/><circle cx="125.5" cy="523.2" r="2.05"/><circle cx="130.3" cy="522.4" r="2.05"/><circle cx="114.6" cy="537.1" r="2.05"/><circle cx="117.4" cy="535.7" r="2.05"/><circle cx="160.3" cy="486.1" r="2.05"/><circle cx="238.3" cy="426.8" r="2.05"/><circle cx="193.2" cy="454.2" r="2.05"/><circle cx="178.6" cy="460.4" r="2.05"/><circle cx="148.1" cy="501.2" r="2.05"/><circle cx="118.9" cy="530.4" r="2.05"/><circle cx="193.4" cy="459.2" r="2.05"/><circle cx="137.4" cy="506.1" r="2.05"/><circle cx="124.6" cy="522.5" r="2.05"/><circle cx="117.0" cy="538.6" r="2.05"/><circle cx="205.5" cy="443.6" r="2.05"/><circle cx="237.7" cy="428.5" r="2.05"/><circle cx="239.5" cy="431.7" r="2.05"/><circle cx="162.7" cy="477.0" r="2.05"/><circle cx="194.7" cy="462.8" r="2.05"/><circle cx="229.1" cy="429.7" r="2.05"/><circle cx="188.0" cy="466.5" r="2.05"/><circle cx="224.8" cy="433.2" r="2.05"/><circle cx="220.9" cy="446.3" r="2.05"/><circle cx="144.6" cy="496.2" r="2.05"/><circle cx="179.9" cy="469.7" r="2.05"/><circle cx="172.6" cy="470.8" r="2.05"/><circle cx="190.9" cy="456.6" r="2.05"/><circle cx="117.1" cy="532.6" r="2.05"/><circle cx="169.8" cy="471.0" r="2.05"/><circle cx="201.8" cy="446.0" r="2.05"/><circle cx="205.8" cy="447.5" r="2.05"/><circle cx="239.9" cy="430.8" r="2.05"/><circle cx="149.2" cy="494.0" r="2.05"/><circle cx="170.1" cy="471.5" r="2.05"/><circle cx="186.2" cy="456.9" r="2.05"/><circle cx="189.4" cy="459.4" r="2.05"/><circle cx="176.1" cy="471.2" r="2.05"/><circle cx="128.6" cy="522.0" r="2.05"/><circle cx="166.6" cy="475.6" r="2.05"/><circle cx="154.1" cy="491.0" r="2.05"/><circle cx="200.3" cy="447.1" r="2.05"/><circle cx="142.6" cy="500.2" r="2.05"/><circle cx="235.2" cy="429.2" r="2.05"/><circle cx="118.4" cy="533.6" r="2.05"/><circle cx="198.3" cy="449.9" r="2.05"/><circle cx="119.2" cy="528.9" r="2.05"/><circle cx="169.4" cy="476.4" r="2.05"/><circle cx="139.2" cy="504.8" r="2.05"/><circle cx="168.2" cy="472.2" r="2.05"/><circle cx="199.5" cy="449.7" r="2.05"/><circle cx="177.3" cy="466.4" r="2.05"/><circle cx="178.3" cy="463.4" r="2.05"/><circle cx="207.0" cy="442.1" r="2.05"/><circle cx="190.1" cy="461.0" r="2.05"/><circle cx="215.0" cy="439.8" r="2.05"/><circle cx="142.2" cy="502.4" r="2.05"/><circle cx="140.0" cy="508.9" r="2.05"/><circle cx="136.7" cy="505.2" r="2.05"/><circle cx="167.0" cy="475.4" r="2.05"/><circle cx="210.5" cy="442.8" r="2.05"/><circle cx="143.4" cy="500.4" r="2.05"/><circle cx="148.8" cy="488.9" r="2.05"/><circle cx="128.5" cy="517.6" r="2.05"/><circle cx="168.5" cy="477.4" r="2.05"/><circle cx="127.5" cy="522.4" r="2.05"/><circle cx="223.6" cy="433.9" r="2.05"/><circle cx="122.5" cy="525.6" r="2.05"/><circle cx="222.0" cy="437.2" r="2.05"/><circle cx="186.3" cy="458.1" r="2.05"/><circle cx="161.8" cy="480.9" r="2.05"/><circle cx="137.9" cy="505.3" r="2.05"/><circle cx="118.1" cy="533.3" r="2.05"/><circle cx="226.3" cy="432.0" r="2.05"/><circle cx="238.1" cy="428.7" r="2.05"/><circle cx="224.7" cy="442.6" r="2.05"/><circle cx="181.3" cy="460.8" r="2.05"/><circle cx="114.6" cy="538.0" r="2.05"/><circle cx="117.9" cy="532.7" r="2.05"/><circle cx="152.9" cy="490.1" r="2.05"/><circle cx="199.1" cy="448.2" r="2.05"/><circle cx="163.3" cy="477.2" r="2.05"/><circle cx="198.6" cy="446.9" r="2.05"/><circle cx="230.3" cy="431.3" r="2.05"/><circle cx="194.7" cy="455.4" r="2.05"/><circle cx="193.4" cy="453.8" r="2.05"/><circle cx="169.9" cy="472.0" r="2.05"/><circle cx="130.2" cy="516.6" r="2.05"/><circle cx="210.9" cy="443.9" r="2.05"/><circle cx="179.3" cy="469.4" r="2.05"/><circle cx="228.9" cy="438.8" r="2.05"/><circle cx="122.2" cy="535.2" r="2.05"/><circle cx="144.3" cy="493.0" r="2.05"/><circle cx="235.0" cy="427.5" r="2.05"/><circle cx="115.6" cy="539.1" r="2.05"/><circle cx="171.6" cy="472.1" r="2.05"/><circle cx="225.0" cy="439.9" r="2.05"/><circle cx="191.7" cy="457.5" r="2.05"/><circle cx="240.5" cy="427.5" r="2.05"/><circle cx="202.2" cy="447.1" r="2.05"/><circle cx="135.1" cy="507.7" r="2.05"/><circle cx="136.6" cy="507.1" r="2.05"/><circle cx="233.6" cy="428.6" r="2.05"/><circle cx="165.9" cy="474.6" r="2.05"/><circle cx="115.6" cy="533.5" r="2.05"/><circle cx="127.9" cy="518.8" r="2.05"/><circle cx="205.8" cy="445.2" r="2.05"/><circle cx="169.0" cy="472.5" r="2.05"/><circle cx="172.7" cy="467.9" r="2.05"/><circle cx="194.1" cy="452.2" r="2.05"/><circle cx="133.2" cy="514.8" r="2.05"/><circle cx="229.8" cy="430.6" r="2.05"/><circle cx="165.5" cy="483.1" r="2.05"/><circle cx="152.3" cy="486.6" r="2.05"/><circle cx="123.5" cy="523.2" r="2.05"/><circle cx="139.0" cy="509.1" r="2.05"/><circle cx="130.5" cy="514.6" r="2.05"/><circle cx="194.0" cy="453.9" r="2.05"/><circle cx="120.2" cy="530.2" r="2.05"/><circle cx="126.7" cy="521.5" r="2.05"/><circle cx="225.1" cy="439.8" r="2.05"/><circle cx="222.3" cy="445.0" r="2.05"/><circle cx="204.2" cy="450.6" r="2.05"/><circle cx="156.7" cy="486.7" r="2.05"/><circle cx="169.5" cy="478.1" r="2.05"/><circle cx="121.0" cy="526.7" r="2.05"/><circle cx="228.6" cy="434.7" r="2.05"/><circle cx="127.3" cy="521.2" r="2.05"/><circle cx="152.8" cy="487.6" r="2.05"/><circle cx="178.4" cy="469.4" r="2.05"/><circle cx="189.3" cy="456.9" r="2.05"/><circle cx="199.4" cy="451.1" r="2.05"/><circle cx="189.6" cy="458.3" r="2.05"/><circle cx="162.5" cy="482.6" r="2.05"/><circle cx="130.2" cy="517.4" r="2.05"/><circle cx="225.0" cy="432.9" r="2.05"/><circle cx="191.5" cy="453.0" r="2.05"/><circle cx="204.1" cy="443.6" r="2.05"/><circle cx="140.1" cy="502.7" r="2.05"/><circle cx="145.5" cy="507.7" r="2.05"/><circle cx="200.8" cy="449.0" r="2.05"/><circle cx="173.8" cy="470.6" r="2.05"/><circle cx="121.4" cy="525.0" r="2.05"/><circle cx="234.7" cy="437.6" r="2.05"/><circle cx="216.7" cy="439.0" r="2.05"/><circle cx="238.0" cy="427.0" r="2.05"/><circle cx="200.1" cy="449.7" r="2.05"/><circle cx="146.8" cy="491.2" r="2.05"/><circle cx="114.2" cy="539.2" r="2.05"/><circle cx="194.9" cy="452.1" r="2.05"/><circle cx="137.5" cy="503.4" r="2.05"/><circle cx="150.2" cy="494.0" r="2.05"/><circle cx="214.2" cy="439.6" r="2.05"/><circle cx="241.8" cy="434.7" r="2.05"/><circle cx="141.1" cy="503.5" r="2.05"/><circle cx="144.4" cy="495.9" r="2.05"/><circle cx="211.0" cy="440.7" r="2.05"/><circle cx="240.1" cy="426.2" r="2.05"/><circle cx="187.4" cy="458.6" r="2.05"/><circle cx="204.0" cy="446.0" r="2.05"/><circle cx="140.0" cy="501.1" r="2.05"/><circle cx="195.5" cy="451.9" r="2.05"/><circle cx="217.9" cy="436.5" r="2.05"/><circle cx="178.2" cy="464.1" r="2.05"/><circle cx="198.1" cy="452.1" r="2.05"/><circle cx="188.2" cy="456.3" r="2.05"/><circle cx="214.5" cy="438.0" r="2.05"/><circle cx="166.8" cy="481.2" r="2.05"/><circle cx="115.8" cy="538.6" r="2.05"/><circle cx="145.0" cy="497.2" r="2.05"/><circle cx="160.8" cy="483.4" r="2.05"/><circle cx="145.1" cy="495.8" r="2.05"/><circle cx="122.0" cy="526.7" r="2.05"/><circle cx="215.1" cy="441.5" r="2.05"/><circle cx="147.0" cy="489.6" r="2.05"/><circle cx="193.2" cy="452.3" r="2.05"/><circle cx="128.6" cy="519.8" r="2.05"/><circle cx="129.5" cy="517.3" r="2.05"/><circle cx="122.4" cy="525.0" r="2.05"/><circle cx="214.9" cy="440.0" r="2.05"/><circle cx="228.3" cy="444.0" r="2.05"/><circle cx="121.0" cy="528.8" r="2.05"/><circle cx="130.6" cy="517.1" r="2.05"/><circle cx="199.1" cy="450.0" r="2.05"/><circle cx="149.8" cy="489.7" r="2.05"/><circle cx="175.4" cy="467.0" r="2.05"/><circle cx="144.7" cy="498.9" r="2.05"/><circle cx="154.3" cy="484.1" r="2.05"/><circle cx="224.8" cy="438.2" r="2.05"/><circle cx="123.7" cy="524.6" r="2.05"/><circle cx="164.5" cy="476.5" r="2.05"/><circle cx="154.4" cy="488.1" r="2.05"/><circle cx="123.3" cy="525.5" r="2.05"/><circle cx="121.2" cy="528.1" r="2.05"/><circle cx="133.5" cy="513.6" r="2.05"/><circle cx="147.8" cy="494.8" r="2.05"/><circle cx="206.0" cy="445.6" r="2.05"/><circle cx="215.7" cy="447.5" r="2.05"/><circle cx="218.9" cy="440.2" r="2.05"/><circle cx="209.4" cy="445.4" r="2.05"/><circle cx="224.4" cy="440.0" r="2.05"/><circle cx="121.1" cy="527.5" r="2.05"/><circle cx="212.1" cy="444.3" r="2.05"/><circle cx="97.0" cy="500.7" r="2.05"/><circle cx="102.0" cy="470.9" r="2.05"/><circle cx="95.2" cy="514.9" r="2.05"/><circle cx="95.5" cy="518.2" r="2.05"/><circle cx="131.1" cy="413.7" r="2.05"/><circle cx="118.0" cy="429.2" r="2.05"/><circle cx="106.4" cy="463.0" r="2.05"/><circle cx="137.5" cy="391.3" r="2.05"/><circle cx="94.8" cy="493.9" r="2.05"/><circle cx="131.0" cy="405.1" r="2.05"/><circle cx="137.5" cy="380.0" r="2.05"/><circle cx="96.0" cy="488.7" r="2.05"/><circle cx="130.6" cy="394.5" r="2.05"/><circle cx="109.2" cy="455.2" r="2.05"/><circle cx="120.2" cy="420.6" r="2.05"/><circle cx="99.1" cy="491.0" r="2.05"/><circle cx="95.6" cy="497.7" r="2.05"/><circle cx="95.8" cy="524.4" r="2.05"/><circle cx="133.7" cy="383.6" r="2.05"/><circle cx="101.0" cy="473.2" r="2.05"/><circle cx="97.7" cy="475.7" r="2.05"/><circle cx="126.7" cy="405.1" r="2.05"/><circle cx="95.6" cy="500.2" r="2.05"/><circle cx="135.8" cy="379.6" r="2.05"/><circle cx="92.2" cy="522.3" r="2.05"/><circle cx="95.6" cy="522.2" r="2.05"/><circle cx="136.0" cy="395.0" r="2.05"/><circle cx="131.8" cy="401.1" r="2.05"/><circle cx="137.2" cy="394.8" r="2.05"/><circle cx="97.1" cy="500.5" r="2.05"/><circle cx="99.6" cy="477.8" r="2.05"/><circle cx="94.4" cy="534.3" r="2.05"/><circle cx="109.1" cy="455.8" r="2.05"/><circle cx="126.1" cy="393.3" r="2.05"/><circle cx="120.4" cy="431.4" r="2.05"/><circle cx="97.6" cy="482.5" r="2.05"/><circle cx="146.4" cy="374.5" r="2.05"/><circle cx="106.9" cy="460.2" r="2.05"/><circle cx="95.0" cy="516.8" r="2.05"/><circle cx="125.8" cy="421.5" r="2.05"/><circle cx="93.4" cy="534.3" r="2.05"/><circle cx="96.7" cy="500.9" r="2.05"/><circle cx="125.1" cy="412.5" r="2.05"/><circle cx="134.7" cy="397.2" r="2.05"/><circle cx="136.1" cy="383.2" r="2.05"/><circle cx="96.4" cy="504.4" r="2.05"/><circle cx="127.5" cy="414.4" r="2.05"/><circle cx="135.1" cy="372.4" r="2.05"/><circle cx="126.2" cy="421.8" r="2.05"/><circle cx="126.9" cy="412.0" r="2.05"/><circle cx="101.4" cy="475.5" r="2.05"/><circle cx="95.3" cy="516.1" r="2.05"/><circle cx="96.9" cy="499.8" r="2.05"/><circle cx="96.8" cy="482.1" r="2.05"/><circle cx="96.4" cy="494.8" r="2.05"/><circle cx="102.9" cy="460.3" r="2.05"/><circle cx="132.6" cy="404.3" r="2.05"/><circle cx="118.1" cy="434.6" r="2.05"/><circle cx="143.1" cy="377.7" r="2.05"/><circle cx="125.7" cy="424.8" r="2.05"/><circle cx="96.8" cy="491.8" r="2.05"/><circle cx="144.0" cy="383.4" r="2.05"/><circle cx="94.6" cy="518.9" r="2.05"/><circle cx="131.7" cy="402.7" r="2.05"/><circle cx="147.9" cy="372.0" r="2.05"/><circle cx="114.6" cy="441.7" r="2.05"/><circle cx="93.0" cy="535.9" r="2.05"/><circle cx="136.7" cy="396.8" r="2.05"/><circle cx="140.0" cy="390.2" r="2.05"/><circle cx="118.1" cy="432.9" r="2.05"/><circle cx="97.0" cy="497.1" r="2.05"/><circle cx="95.2" cy="513.0" r="2.05"/><circle cx="93.9" cy="512.8" r="2.05"/><circle cx="100.3" cy="474.7" r="2.05"/><circle cx="122.1" cy="420.9" r="2.05"/><circle cx="132.8" cy="395.6" r="2.05"/><circle cx="106.0" cy="462.4" r="2.05"/><circle cx="109.3" cy="450.2" r="2.05"/><circle cx="120.0" cy="428.2" r="2.05"/><circle cx="95.8" cy="527.4" r="2.05"/><circle cx="94.5" cy="529.3" r="2.05"/><circle cx="94.0" cy="528.9" r="2.05"/><circle cx="108.8" cy="451.8" r="2.05"/><circle cx="123.7" cy="426.6" r="2.05"/><circle cx="107.0" cy="458.0" r="2.05"/><circle cx="105.0" cy="458.0" r="2.05"/><circle cx="127.6" cy="413.9" r="2.05"/><circle cx="92.5" cy="505.4" r="2.05"/><circle cx="125.2" cy="415.9" r="2.05"/><circle cx="107.6" cy="456.7" r="2.05"/><circle cx="96.7" cy="487.4" r="2.05"/><circle cx="98.5" cy="484.5" r="2.05"/><circle cx="97.5" cy="487.6" r="2.05"/><circle cx="116.6" cy="434.1" r="2.05"/><circle cx="124.8" cy="413.5" r="2.05"/><circle cx="133.1" cy="406.8" r="2.05"/><circle cx="132.8" cy="404.4" r="2.05"/><circle cx="96.8" cy="490.9" r="2.05"/><circle cx="93.9" cy="530.4" r="2.05"/><circle cx="141.1" cy="389.5" r="2.05"/><circle cx="95.5" cy="523.2" r="2.05"/><circle cx="93.1" cy="519.3" r="2.05"/><circle cx="135.7" cy="399.3" r="2.05"/><circle cx="139.0" cy="390.0" r="2.05"/><circle cx="97.1" cy="506.0" r="2.05"/><circle cx="94.4" cy="538.5" r="2.05"/><circle cx="139.2" cy="389.5" r="2.05"/><circle cx="96.4" cy="506.0" r="2.05"/><circle cx="126.6" cy="416.1" r="2.05"/><circle cx="119.0" cy="429.4" r="2.05"/><circle cx="123.1" cy="428.1" r="2.05"/><circle cx="136.5" cy="376.8" r="2.05"/><circle cx="92.3" cy="528.4" r="2.05"/><circle cx="120.8" cy="416.0" r="2.05"/><circle cx="138.6" cy="394.7" r="2.05"/><circle cx="141.8" cy="382.1" r="2.05"/><circle cx="93.6" cy="499.8" r="2.05"/><circle cx="135.9" cy="390.6" r="2.05"/><circle cx="128.4" cy="413.6" r="2.05"/><circle cx="94.0" cy="526.0" r="2.05"/><circle cx="114.5" cy="440.7" r="2.05"/><circle cx="95.8" cy="527.5" r="2.05"/><circle cx="143.2" cy="378.4" r="2.05"/><circle cx="91.7" cy="532.2" r="2.05"/><circle cx="133.5" cy="402.7" r="2.05"/><circle cx="139.7" cy="385.3" r="2.05"/><circle cx="100.0" cy="478.5" r="2.05"/><circle cx="95.2" cy="531.1" r="2.05"/><circle cx="93.7" cy="534.6" r="2.05"/><circle cx="120.6" cy="431.2" r="2.05"/><circle cx="121.4" cy="430.7" r="2.05"/><circle cx="97.3" cy="500.7" r="2.05"/><circle cx="88.6" cy="539.4" r="2.05"/><circle cx="143.9" cy="382.4" r="2.05"/><circle cx="127.3" cy="419.2" r="2.05"/><circle cx="98.7" cy="487.3" r="2.05"/><circle cx="143.5" cy="378.7" r="2.05"/><circle cx="105.4" cy="462.0" r="2.05"/><circle cx="94.7" cy="522.1" r="2.05"/><circle cx="94.3" cy="524.5" r="2.05"/><circle cx="105.5" cy="459.2" r="2.05"/><circle cx="112.4" cy="441.5" r="2.05"/><circle cx="101.8" cy="471.5" r="2.05"/><circle cx="141.2" cy="388.5" r="2.05"/><circle cx="106.4" cy="454.2" r="2.05"/><circle cx="98.7" cy="485.3" r="2.05"/><circle cx="122.7" cy="417.9" r="2.05"/><circle cx="106.5" cy="459.0" r="2.05"/><circle cx="121.5" cy="426.8" r="2.05"/><circle cx="94.2" cy="512.5" r="2.05"/><circle cx="96.1" cy="506.2" r="2.05"/><circle cx="135.2" cy="394.8" r="2.05"/><circle cx="95.0" cy="510.9" r="2.05"/><circle cx="109.8" cy="450.3" r="2.05"/><circle cx="94.8" cy="527.8" r="2.05"/><circle cx="108.7" cy="448.9" r="2.05"/><circle cx="97.2" cy="482.3" r="2.05"/><circle cx="94.4" cy="516.6" r="2.05"/><circle cx="95.3" cy="517.6" r="2.05"/><circle cx="136.7" cy="400.2" r="2.05"/><circle cx="94.0" cy="536.2" r="2.05"/><circle cx="142.0" cy="385.4" r="2.05"/><circle cx="133.2" cy="404.1" r="2.05"/><circle cx="108.3" cy="445.4" r="2.05"/><circle cx="95.5" cy="511.5" r="2.05"/><circle cx="133.2" cy="381.8" r="2.05"/><circle cx="139.3" cy="390.7" r="2.05"/><circle cx="145.3" cy="377.6" r="2.05"/><circle cx="93.2" cy="531.9" r="2.05"/><circle cx="93.3" cy="529.9" r="2.05"/><circle cx="103.4" cy="466.9" r="2.05"/><circle cx="145.8" cy="373.4" r="2.05"/><circle cx="95.8" cy="513.8" r="2.05"/><circle cx="142.6" cy="385.6" r="2.05"/><circle cx="137.0" cy="394.1" r="2.05"/><circle cx="125.0" cy="408.7" r="2.05"/><circle cx="117.1" cy="433.9" r="2.05"/><circle cx="113.4" cy="441.9" r="2.05"/><circle cx="147.7" cy="376.0" r="2.05"/><circle cx="93.4" cy="533.3" r="2.05"/><circle cx="110.5" cy="449.5" r="2.05"/><circle cx="138.3" cy="391.7" r="2.05"/><circle cx="123.7" cy="426.0" r="2.05"/><circle cx="97.4" cy="504.2" r="2.05"/><circle cx="135.6" cy="397.5" r="2.05"/><circle cx="94.6" cy="533.3" r="2.05"/><circle cx="92.6" cy="534.4" r="2.05"/><circle cx="93.9" cy="526.6" r="2.05"/><circle cx="99.8" cy="471.5" r="2.05"/><circle cx="127.2" cy="416.8" r="2.05"/><circle cx="128.9" cy="412.1" r="2.05"/><circle cx="119.0" cy="425.7" r="2.05"/><circle cx="98.9" cy="474.1" r="2.05"/><circle cx="94.8" cy="508.4" r="2.05"/><circle cx="132.1" cy="405.7" r="2.05"/><circle cx="94.2" cy="523.4" r="2.05"/><circle cx="112.3" cy="446.5" r="2.05"/><circle cx="100.5" cy="477.3" r="2.05"/><circle cx="112.5" cy="443.6" r="2.05"/><circle cx="100.9" cy="473.4" r="2.05"/><circle cx="116.5" cy="439.7" r="2.05"/><circle cx="94.2" cy="534.2" r="2.05"/><circle cx="95.4" cy="493.5" r="2.05"/><circle cx="140.9" cy="379.5" r="2.05"/><circle cx="134.7" cy="400.6" r="2.05"/><circle cx="106.0" cy="461.1" r="2.05"/><circle cx="107.3" cy="445.6" r="2.05"/><circle cx="98.7" cy="486.6" r="2.05"/><circle cx="103.8" cy="463.8" r="2.05"/><circle cx="95.3" cy="508.4" r="2.05"/><circle cx="95.2" cy="519.7" r="2.05"/><circle cx="97.9" cy="491.1" r="2.05"/><circle cx="97.8" cy="492.1" r="2.05"/><circle cx="118.7" cy="434.6" r="2.05"/><circle cx="94.6" cy="521.7" r="2.05"/><circle cx="112.4" cy="446.9" r="2.05"/><circle cx="115.2" cy="438.5" r="2.05"/><circle cx="98.1" cy="486.3" r="2.05"/><circle cx="141.6" cy="385.5" r="2.05"/><circle cx="95.1" cy="517.0" r="2.05"/><circle cx="95.1" cy="520.7" r="2.05"/><circle cx="95.3" cy="542.0" r="2.05"/><circle cx="121.3" cy="423.6" r="2.05"/><circle cx="136.8" cy="394.3" r="2.05"/><circle cx="100.5" cy="475.8" r="2.05"/><circle cx="127.0" cy="422.0" r="2.05"/><circle cx="141.6" cy="387.0" r="2.05"/><circle cx="95.6" cy="525.8" r="2.05"/><circle cx="93.9" cy="539.7" r="2.05"/><circle cx="93.4" cy="513.9" r="2.05"/><circle cx="91.3" cy="524.1" r="2.05"/><circle cx="107.6" cy="457.0" r="2.05"/><circle cx="94.4" cy="521.3" r="2.05"/><circle cx="95.3" cy="513.8" r="2.05"/><circle cx="129.7" cy="411.6" r="2.05"/><circle cx="113.6" cy="441.5" r="2.05"/><circle cx="95.8" cy="492.0" r="2.05"/><circle cx="102.3" cy="468.2" r="2.05"/><circle cx="98.3" cy="492.7" r="2.05"/><circle cx="133.6" cy="404.3" r="2.05"/><circle cx="123.5" cy="422.3" r="2.05"/><circle cx="94.7" cy="516.2" r="2.05"/><circle cx="127.4" cy="415.4" r="2.05"/><circle cx="129.6" cy="409.8" r="2.05"/><circle cx="109.4" cy="455.9" r="2.05"/><circle cx="109.3" cy="454.8" r="2.05"/><circle cx="98.9" cy="483.5" r="2.05"/><circle cx="109.5" cy="454.0" r="2.05"/><circle cx="93.0" cy="538.1" r="2.05"/><circle cx="97.9" cy="489.9" r="2.05"/><circle cx="135.4" cy="402.0" r="2.05"/><circle cx="99.3" cy="478.2" r="2.05"/><circle cx="107.7" cy="458.8" r="2.05"/><circle cx="95.9" cy="517.7" r="2.05"/><circle cx="95.6" cy="507.2" r="2.05"/><circle cx="95.0" cy="504.8" r="2.05"/><circle cx="104.5" cy="462.6" r="2.05"/><circle cx="112.5" cy="444.1" r="2.05"/><circle cx="109.1" cy="448.2" r="2.05"/><circle cx="108.0" cy="456.5" r="2.05"/><circle cx="148.8" cy="374.2" r="2.05"/><circle cx="128.6" cy="413.5" r="2.05"/><circle cx="103.9" cy="465.3" r="2.05"/><circle cx="123.8" cy="424.5" r="2.05"/><circle cx="92.8" cy="529.4" r="2.05"/><circle cx="95.4" cy="500.2" r="2.05"/><circle cx="137.3" cy="392.8" r="2.05"/><circle cx="97.0" cy="505.9" r="2.05"/><circle cx="138.5" cy="390.9" r="2.05"/><circle cx="92.2" cy="534.6" r="2.05"/><circle cx="132.6" cy="403.5" r="2.05"/><circle cx="130.5" cy="407.7" r="2.05"/><circle cx="95.3" cy="529.8" r="2.05"/><circle cx="105.9" cy="465.2" r="2.05"/><circle cx="129.6" cy="408.8" r="2.05"/><circle cx="95.5" cy="517.5" r="2.05"/><circle cx="92.2" cy="529.1" r="2.05"/><circle cx="124.6" cy="417.4" r="2.05"/><circle cx="135.2" cy="399.4" r="2.05"/><circle cx="97.3" cy="492.1" r="2.05"/><circle cx="115.3" cy="440.6" r="2.05"/><circle cx="118.6" cy="432.2" r="2.05"/><circle cx="142.8" cy="377.0" r="2.05"/><circle cx="96.2" cy="507.3" r="2.05"/><circle cx="93.6" cy="520.7" r="2.05"/><circle cx="128.4" cy="412.0" r="2.05"/><circle cx="113.9" cy="438.7" r="2.05"/><circle cx="109.6" cy="445.9" r="2.05"/><circle cx="93.5" cy="528.8" r="2.05"/><circle cx="98.2" cy="482.5" r="2.05"/><circle cx="106.1" cy="465.3" r="2.05"/><circle cx="126.5" cy="415.0" r="2.05"/><circle cx="106.6" cy="460.4" r="2.05"/><circle cx="100.0" cy="479.1" r="2.05"/><circle cx="119.4" cy="430.3" r="2.05"/><circle cx="136.1" cy="394.2" r="2.05"/><circle cx="131.9" cy="411.1" r="2.05"/><circle cx="98.0" cy="491.6" r="2.05"/><circle cx="94.9" cy="508.9" r="2.05"/><circle cx="116.8" cy="430.7" r="2.05"/><circle cx="92.9" cy="535.0" r="2.05"/><circle cx="126.8" cy="420.7" r="2.05"/><circle cx="141.0" cy="386.1" r="2.05"/><circle cx="103.8" cy="464.1" r="2.05"/><circle cx="100.8" cy="471.5" r="2.05"/><circle cx="130.9" cy="403.8" r="2.05"/><circle cx="99.4" cy="471.6" r="2.05"/><circle cx="110.0" cy="452.6" r="2.05"/><circle cx="138.7" cy="389.6" r="2.05"/><circle cx="118.3" cy="424.2" r="2.05"/><circle cx="143.5" cy="382.0" r="2.05"/><circle cx="136.3" cy="374.6" r="2.05"/><circle cx="96.5" cy="501.7" r="2.05"/><circle cx="96.3" cy="501.0" r="2.05"/><circle cx="97.4" cy="496.7" r="2.05"/><circle cx="95.0" cy="518.0" r="2.05"/><circle cx="92.1" cy="534.3" r="2.05"/><circle cx="95.1" cy="520.7" r="2.05"/><circle cx="117.8" cy="435.7" r="2.05"/><circle cx="96.3" cy="514.9" r="2.05"/><circle cx="133.0" cy="404.9" r="2.05"/><circle cx="108.3" cy="458.9" r="2.05"/><circle cx="92.6" cy="535.5" r="2.05"/><circle cx="111.1" cy="442.2" r="2.05"/><circle cx="92.9" cy="535.0" r="2.05"/><circle cx="97.5" cy="486.2" r="2.05"/><circle cx="95.1" cy="501.7" r="2.05"/><circle cx="132.0" cy="404.6" r="2.05"/><circle cx="98.3" cy="478.1" r="2.05"/><circle cx="98.5" cy="496.3" r="2.05"/><circle cx="95.0" cy="525.3" r="2.05"/><circle cx="129.9" cy="411.3" r="2.05"/><circle cx="101.1" cy="476.3" r="2.05"/><circle cx="144.0" cy="381.6" r="2.05"/><circle cx="94.4" cy="533.9" r="2.05"/><circle cx="94.9" cy="529.1" r="2.05"/><circle cx="129.3" cy="412.0" r="2.05"/><circle cx="126.8" cy="418.0" r="2.05"/><circle cx="94.2" cy="511.0" r="2.05"/><circle cx="123.9" cy="421.8" r="2.05"/><circle cx="100.0" cy="476.5" r="2.05"/><circle cx="107.3" cy="453.9" r="2.05"/><circle cx="138.7" cy="395.4" r="2.05"/><circle cx="137.5" cy="396.1" r="2.05"/><circle cx="112.5" cy="445.9" r="2.05"/><circle cx="95.9" cy="519.7" r="2.05"/><circle cx="144.6" cy="374.4" r="2.05"/><circle cx="117.3" cy="438.1" r="2.05"/><circle cx="114.1" cy="437.6" r="2.05"/><circle cx="138.5" cy="394.5" r="2.05"/><circle cx="110.8" cy="440.4" r="2.05"/><circle cx="109.3" cy="453.1" r="2.05"/><circle cx="93.7" cy="539.8" r="2.05"/><circle cx="109.6" cy="448.9" r="2.05"/><circle cx="93.8" cy="516.4" r="2.05"/><circle cx="95.9" cy="506.7" r="2.05"/><circle cx="134.3" cy="402.0" r="2.05"/><circle cx="95.3" cy="511.4" r="2.05"/><circle cx="104.1" cy="464.6" r="2.05"/></g><circle cx="218.9" cy="454.7" r="2.05"/><circle cx="206.4" cy="467.9" r="2.05"/><circle cx="227.9" cy="443.5" r="2.05"/><circle cx="225.8" cy="439.5" r="2.05"/><circle cx="233.4" cy="476.8" r="2.05"/><circle cx="211.6" cy="450.1" r="2.05"/><circle cx="243.0" cy="438.9" r="2.05"/><circle cx="200.8" cy="473.3" r="2.05"/><circle cx="232.9" cy="437.9" r="2.05"/><circle cx="132.1" cy="524.7" r="2.05"/><circle cx="191.5" cy="467.2" r="2.05"/><circle cx="208.1" cy="475.1" r="2.05"/><circle cx="221.2" cy="448.7" r="2.05"/><circle cx="198.1" cy="462.3" r="2.05"/><circle cx="196.6" cy="463.5" r="2.05"/><circle cx="232.0" cy="453.8" r="2.05"/><circle cx="241.8" cy="436.1" r="2.05"/><circle cx="234.8" cy="451.8" r="2.05"/><circle cx="226.2" cy="453.5" r="2.05"/><circle cx="209.6" cy="517.9" r="2.05"/><circle cx="171.0" cy="484.0" r="2.05"/><circle cx="232.1" cy="437.1" r="2.05"/><circle cx="180.6" cy="480.9" r="2.05"/><circle cx="209.1" cy="450.8" r="2.05"/><circle cx="237.7" cy="441.5" r="2.05"/><circle cx="194.3" cy="473.6" r="2.05"/><circle cx="152.4" cy="500.1" r="2.05"/><circle cx="232.2" cy="444.3" r="2.05"/><circle cx="196.1" cy="466.8" r="2.05"/><circle cx="231.3" cy="438.3" r="2.05"/><circle cx="200.7" cy="485.8" r="2.05"/><circle cx="220.7" cy="445.2" r="2.05"/><circle cx="185.7" cy="481.9" r="2.05"/><circle cx="223.5" cy="445.2" r="2.05"/><circle cx="234.9" cy="435.3" r="2.05"/><circle cx="242.3" cy="435.4" r="2.05"/><circle cx="219.9" cy="455.6" r="2.05"/><circle cx="240.1" cy="456.6" r="2.05"/><circle cx="211.5" cy="449.5" r="2.05"/><circle cx="219.0" cy="468.1" r="2.05"/><circle cx="220.4" cy="453.9" r="2.05"/><circle cx="183.6" cy="491.4" r="2.05"/><circle cx="185.8" cy="464.2" r="2.05"/><circle cx="179.4" cy="477.7" r="2.05"/><circle cx="199.3" cy="464.6" r="2.05"/><circle cx="242.5" cy="456.5" r="2.05"/><circle cx="192.3" cy="481.5" r="2.05"/><circle cx="211.3" cy="492.7" r="2.05"/><circle cx="194.0" cy="465.2" r="2.05"/><circle cx="188.5" cy="469.2" r="2.05"/><circle cx="171.7" cy="493.6" r="2.05"/><circle cx="236.2" cy="445.9" r="2.05"/><circle cx="235.8" cy="476.8" r="2.05"/><circle cx="231.3" cy="446.5" r="2.05"/><circle cx="204.2" cy="459.5" r="2.05"/><circle cx="205.9" cy="468.2" r="2.05"/><circle cx="182.4" cy="478.7" r="2.05"/><circle cx="180.7" cy="480.3" r="2.05"/><circle cx="228.8" cy="441.5" r="2.05"/><circle cx="147.2" cy="507.3" r="2.05"/><circle cx="197.3" cy="476.8" r="2.05"/><circle cx="219.6" cy="447.0" r="2.05"/><circle cx="224.9" cy="449.5" r="2.05"/><circle cx="229.8" cy="438.9" r="2.05"/><circle cx="180.8" cy="489.0" r="2.05"/><circle cx="180.0" cy="477.5" r="2.05"/><circle cx="196.0" cy="483.3" r="2.05"/><circle cx="216.8" cy="458.6" r="2.05"/><circle cx="195.1" cy="471.4" r="2.05"/><circle cx="179.7" cy="484.7" r="2.05"/><circle cx="220.3" cy="461.7" r="2.05"/><circle cx="215.7" cy="451.7" r="2.05"/><circle cx="190.4" cy="481.7" r="2.05"/><circle cx="215.2" cy="461.1" r="2.05"/><circle cx="237.0" cy="436.9" r="2.05"/><circle cx="217.3" cy="507.4" r="2.05"/><circle cx="176.4" cy="489.5" r="2.05"/><circle cx="182.5" cy="475.9" r="2.05"/><circle cx="235.5" cy="444.1" r="2.05"/><circle cx="150.8" cy="507.0" r="2.05"/><circle cx="196.9" cy="499.4" r="2.05"/><circle cx="133.6" cy="525.5" r="2.05"/><circle cx="122.1" cy="542.9" r="2.05"/><circle cx="212.6" cy="462.8" r="2.05"/><circle cx="200.7" cy="487.2" r="2.05"/><circle cx="225.6" cy="443.9" r="2.05"/><circle cx="174.9" cy="481.3" r="2.05"/><circle cx="225.7" cy="456.9" r="2.05"/><circle cx="239.8" cy="445.5" r="2.05"/><circle cx="223.3" cy="448.2" r="2.05"/><circle cx="188.0" cy="465.1" r="2.05"/><circle cx="166.8" cy="493.4" r="2.05"/><circle cx="149.4" cy="513.7" r="2.05"/><circle cx="234.2" cy="444.5" r="2.05"/><circle cx="231.6" cy="448.3" r="2.05"/><circle cx="209.5" cy="452.4" r="2.05"/><circle cx="209.7" cy="465.8" r="2.05"/><circle cx="234.4" cy="444.2" r="2.05"/><circle cx="229.5" cy="439.6" r="2.05"/><circle cx="193.3" cy="478.6" r="2.05"/><circle cx="229.1" cy="448.3" r="2.05"/><circle cx="240.5" cy="463.5" r="2.05"/><circle cx="177.1" cy="478.0" r="2.05"/><circle cx="202.4" cy="479.7" r="2.05"/><circle cx="157.2" cy="498.3" r="2.05"/><circle cx="239.4" cy="491.5" r="2.05"/><circle cx="210.5" cy="458.6" r="2.05"/><circle cx="210.4" cy="481.0" r="2.05"/><circle cx="199.2" cy="483.4" r="2.05"/><circle cx="206.6" cy="454.4" r="2.05"/><circle cx="215.0" cy="450.6" r="2.05"/><circle cx="240.6" cy="439.2" r="2.05"/><circle cx="220.9" cy="469.2" r="2.05"/><circle cx="178.5" cy="476.0" r="2.05"/><circle cx="147.4" cy="508.7" r="2.05"/><circle cx="177.2" cy="484.7" r="2.05"/><circle cx="195.5" cy="468.8" r="2.05"/><circle cx="162.6" cy="491.7" r="2.05"/><circle cx="166.2" cy="486.2" r="2.05"/><circle cx="193.7" cy="475.5" r="2.05"/><circle cx="198.8" cy="465.2" r="2.05"/><circle cx="193.4" cy="462.4" r="2.05"/><circle cx="193.5" cy="477.5" r="2.05"/><circle cx="144.8" cy="511.3" r="2.05"/><circle cx="236.9" cy="435.8" r="2.05"/><circle cx="189.8" cy="470.4" r="2.05"/><circle cx="175.8" cy="477.8" r="2.05"/><circle cx="222.9" cy="453.0" r="2.05"/><circle cx="233.1" cy="457.0" r="2.05"/><circle cx="238.7" cy="445.4" r="2.05"/><circle cx="172.9" cy="476.8" r="2.05"/><circle cx="217.2" cy="474.0" r="2.05"/><circle cx="171.3" cy="478.4" r="2.05"/><circle cx="219.1" cy="444.3" r="2.05"/><circle cx="206.9" cy="466.1" r="2.05"/><circle cx="188.9" cy="471.2" r="2.05"/><circle cx="204.9" cy="453.4" r="2.05"/><circle cx="190.2" cy="459.6" r="2.05"/><circle cx="238.0" cy="440.6" r="2.05"/><circle cx="125.1" cy="541.3" r="2.05"/><circle cx="196.3" cy="461.6" r="2.05"/><circle cx="191.3" cy="479.3" r="2.05"/><circle cx="196.6" cy="465.2" r="2.05"/><circle cx="226.8" cy="455.5" r="2.05"/><circle cx="198.8" cy="498.6" r="2.05"/><circle cx="237.5" cy="490.3" r="2.05"/><circle cx="237.9" cy="437.4" r="2.05"/><circle cx="125.0" cy="532.3" r="2.05"/><circle cx="228.0" cy="458.0" r="2.05"/><circle cx="178.7" cy="474.5" r="2.05"/><circle cx="145.8" cy="506.3" r="2.05"/><circle cx="153.9" cy="506.4" r="2.05"/><circle cx="207.4" cy="454.0" r="2.05"/><circle cx="227.6" cy="468.2" r="2.05"/><circle cx="165.9" cy="489.8" r="2.05"/><circle cx="227.1" cy="472.8" r="2.05"/><circle cx="239.0" cy="442.8" r="2.05"/><circle cx="198.2" cy="465.0" r="2.05"/><circle cx="210.4" cy="484.5" r="2.05"/><circle cx="184.9" cy="468.1" r="2.05"/><circle cx="213.6" cy="464.8" r="2.05"/><circle cx="230.8" cy="440.0" r="2.05"/><circle cx="189.6" cy="469.1" r="2.05"/><circle cx="190.2" cy="468.1" r="2.05"/><circle cx="225.7" cy="460.9" r="2.05"/><circle cx="211.5" cy="461.0" r="2.05"/><circle cx="227.4" cy="447.0" r="2.05"/><circle cx="233.2" cy="484.9" r="2.05"/><circle cx="213.3" cy="471.8" r="2.05"/><circle cx="188.5" cy="465.6" r="2.05"/><circle cx="227.2" cy="458.8" r="2.05"/><circle cx="234.0" cy="444.8" r="2.05"/><circle cx="200.0" cy="458.7" r="2.05"/><circle cx="241.9" cy="452.3" r="2.05"/><circle cx="159.0" cy="499.9" r="2.05"/><circle cx="184.7" cy="473.8" r="2.05"/><circle cx="220.2" cy="469.7" r="2.05"/><circle cx="199.6" cy="470.0" r="2.05"/><circle cx="159.1" cy="501.4" r="2.05"/><circle cx="196.9" cy="523.1" r="2.05"/><circle cx="186.1" cy="478.2" r="2.05"/><circle cx="190.7" cy="475.6" r="2.05"/><circle cx="209.9" cy="453.9" r="2.05"/><circle cx="171.6" cy="498.5" r="2.05"/><circle cx="174.2" cy="482.1" r="2.05"/><circle cx="209.2" cy="458.9" r="2.05"/><circle cx="198.0" cy="468.3" r="2.05"/><circle cx="234.9" cy="443.1" r="2.05"/><circle cx="202.1" cy="465.5" r="2.05"/><circle cx="212.2" cy="505.0" r="2.05"/><circle cx="218.6" cy="451.4" r="2.05"/><circle cx="125.5" cy="397.9" r="2.05"/><circle cx="131.3" cy="390.8" r="2.05"/><circle cx="93.6" cy="461.7" r="2.05"/><circle cx="115.4" cy="430.4" r="2.05"/><circle cx="126.3" cy="401.8" r="2.05"/><circle cx="125.9" cy="405.8" r="2.05"/><circle cx="116.0" cy="420.9" r="2.05"/><circle cx="133.8" cy="384.2" r="2.05"/><circle cx="124.9" cy="405.7" r="2.05"/><circle cx="134.7" cy="375.6" r="2.05"/><circle cx="108.5" cy="427.3" r="2.05"/><circle cx="116.9" cy="416.8" r="2.05"/><circle cx="132.3" cy="382.9" r="2.05"/><circle cx="87.7" cy="522.3" r="2.05"/><circle cx="128.3" cy="390.1" r="2.05"/><circle cx="117.7" cy="425.6" r="2.05"/><circle cx="106.7" cy="432.6" r="2.05"/><circle cx="126.4" cy="388.2" r="2.05"/><circle cx="124.6" cy="397.3" r="2.05"/><circle cx="127.8" cy="376.6" r="2.05"/><circle cx="109.3" cy="429.4" r="2.05"/><circle cx="118.2" cy="422.2" r="2.05"/><circle cx="95.0" cy="474.5" r="2.05"/><circle cx="120.8" cy="425.2" r="2.05"/><circle cx="114.0" cy="431.8" r="2.05"/><circle cx="114.1" cy="423.3" r="2.05"/><circle cx="126.0" cy="404.7" r="2.05"/><circle cx="122.1" cy="414.1" r="2.05"/><circle cx="136.6" cy="382.0" r="2.05"/><circle cx="125.8" cy="385.7" r="2.05"/><circle cx="112.5" cy="423.5" r="2.05"/><circle cx="125.6" cy="400.0" r="2.05"/><circle cx="106.6" cy="435.4" r="2.05"/><circle cx="114.1" cy="427.1" r="2.05"/><circle cx="137.3" cy="370.9" r="2.05"/><circle cx="112.3" cy="428.1" r="2.05"/><circle cx="101.8" cy="441.7" r="2.05"/><circle cx="89.0" cy="541.7" r="2.05"/><circle cx="117.5" cy="407.0" r="2.05"/><circle cx="107.6" cy="428.6" r="2.05"/><circle cx="113.6" cy="418.1" r="2.05"/><circle cx="132.6" cy="379.8" r="2.05"/><circle cx="87.6" cy="509.2" r="2.05"/><circle cx="107.1" cy="543.2" r="2.05"/><circle cx="97.7" cy="544.8" r="2.05"/><circle cx="94.5" cy="542.4" r="2.05"/><circle cx="95.8" cy="542.6" r="2.05"/><circle cx="104.1" cy="543.0" r="2.05"/><circle cx="114.7" cy="540.3" r="2.05"/><circle cx="107.4" cy="543.1" r="2.05"/><circle cx="114.3" cy="543.8" r="2.05"/><circle cx="113.3" cy="543.5" r="2.05"/><circle cx="100.1" cy="541.2" r="2.05"/><circle cx="109.8" cy="543.3" r="2.05"/><circle cx="115.6" cy="541.1" r="2.05"/><circle cx="110.8" cy="542.8" r="2.05"/><circle cx="102.3" cy="543.3" r="2.05"/><circle cx="111.2" cy="543.2" r="2.05"/><circle cx="102.0" cy="542.5" r="2.05"/><circle cx="97.1" cy="541.7" r="2.05"/><circle cx="100.1" cy="543.9" r="2.05"/><circle cx="101.9" cy="544.2" r="2.05"/><circle cx="113.0" cy="541.6" r="2.05"/><circle cx="98.3" cy="543.2" r="2.05"/><circle cx="93.8" cy="540.9" r="2.05"/><circle cx="101.0" cy="542.8" r="2.05"/><circle cx="110.0" cy="543.6" r="2.05"/><circle cx="108.2" cy="543.8" r="2.05"/><circle cx="108.4" cy="544.2" r="2.05"/><circle cx="115.2" cy="540.9" r="2.05"/><circle cx="115.1" cy="540.1" r="2.05"/><circle cx="100.5" cy="542.4" r="2.05"/><circle cx="111.7" cy="545.5" r="2.05"/><circle cx="102.0" cy="543.1" r="2.05"/><circle cx="96.2" cy="543.9" r="2.05"/><circle cx="105.4" cy="543.3" r="2.05"/><circle cx="106.0" cy="542.5" r="2.05"/><circle cx="99.8" cy="543.7" r="2.05"/><circle cx="103.8" cy="544.6" r="2.05"/><circle cx="113.8" cy="541.8" r="2.05"/><circle cx="97.5" cy="542.4" r="2.05"/><circle cx="110.1" cy="542.8" r="2.05"/><circle cx="106.2" cy="542.1" r="2.05"/><circle cx="109.4" cy="542.6" r="2.05"/><circle cx="108.3" cy="541.7" r="2.05"/><circle cx="97.9" cy="542.8" r="2.05"/><circle cx="107.0" cy="542.3" r="2.05"/><circle cx="106.7" cy="541.5" r="2.05"/><circle cx="86.3" cy="598.7" r="2.05"/><circle cx="87.4" cy="583.8" r="2.05"/><circle cx="92.8" cy="573.7" r="2.05"/><circle cx="90.5" cy="567.1" r="2.05"/><circle cx="95.9" cy="565.2" r="2.05"/><circle cx="98.8" cy="562.3" r="2.05"/><circle cx="100.3" cy="560.4" r="2.05"/><circle cx="92.6" cy="558.8" r="2.05"/><circle cx="94.5" cy="557.3" r="2.05"/><circle cx="106.8" cy="553.8" r="2.05"/><circle cx="104.2" cy="550.6" r="2.05"/><circle cx="105.7" cy="547.3" r="2.05"/><circle cx="176.3" cy="532.1" r="2.05"/><circle cx="154.7" cy="512.3" r="2.05"/><circle cx="162.4" cy="512.3" r="2.05"/><circle cx="167.6" cy="515.6" r="2.05"/><circle cx="169.2" cy="505.4" r="2.05"/><circle cx="181.5" cy="505.4" r="2.05"/><circle cx="181.3" cy="500.6" r="2.05"/><circle cx="182.2" cy="494.0" r="2.05"/><circle cx="160.9" cy="495.8" r="2.05"/><circle cx="166.5" cy="495.8" r="2.05"/><circle cx="170.5" cy="492.7" r="2.05"/><circle cx="176.8" cy="491.9" r="2.05"/><circle cx="178.0" cy="490.4" r="2.05"/><circle cx="100.5" cy="396.2" r="2.05"/><circle cx="107.1" cy="399.1" r="2.05"/><circle cx="104.2" cy="405.7" r="2.05"/><circle cx="109.3" cy="389.5" r="2.05"/><circle cx="110.6" cy="389.5" r="2.05"/><circle cx="118.1" cy="388.2" r="2.05"/><circle cx="113.3" cy="424.1" r="2.05"/><circle cx="105.3" cy="436.4" r="2.05"/><circle cx="97.8" cy="449.7" r="2.05"/><circle cx="94.1" cy="458.7" r="2.05"/><circle cx="219.0" cy="510.7" r="2.05"/><circle cx="226.5" cy="502.4" r="2.05"/><circle cx="229.6" cy="494.2" r="2.05"/><circle cx="224.3" cy="490.7" r="2.05"/><circle cx="208.3" cy="490.2" r="2.05"/><circle cx="210.5" cy="492.8" r="2.05"/><circle cx="217.1" cy="480.3" r="2.05"/><circle cx="203.3" cy="482.2" r="2.05"/><circle cx="206.5" cy="477.4" r="2.05"/><circle cx="213.1" cy="472.9" r="2.05"/><circle cx="230.4" cy="470.7" r="2.05"/><circle cx="235.8" cy="472.9" r="2.05"/><circle cx="238.4" cy="470.2" r="2.05"/><circle cx="223.3" cy="464.9" r="2.05"/><circle cx="230.4" cy="466.2" r="2.05"/><circle cx="215.8" cy="464.3" r="2.05"/><circle cx="207.0" cy="464.0" r="2.05"/><circle cx="234.4" cy="460.9" r="2.05"/></g><path d="M241.7 369.1 L349.1 369.1 L340.5 373.9 L332.2 378.9 L323.4 384.2 L314.5 389.5 L306.1 395.5 L297.9 398.7 L289.2 401.3 L279.9 405.0 L271.1 410.2 L262.7 413.7 L253.8 417.1 L244.9 421.6 L241.7 424.2Z" fill="#868686" stroke="#868686" stroke-width="2.5" stroke-linejoin="round"/><g fill="#868686" stroke="#868686"><g class="n"><circle cx="249.6" cy="417.3" r="2.05"/><circle cx="252.5" cy="421.6" r="2.05"/><circle cx="325.9" cy="382.5" r="2.05"/><circle cx="246.5" cy="423.1" r="2.05"/><circle cx="284.6" cy="406.1" r="2.05"/><circle cx="292.5" cy="401.6" r="2.05"/><circle cx="295.4" cy="399.0" r="2.05"/><circle cx="258.8" cy="424.9" r="2.05"/><circle cx="296.6" cy="399.6" r="2.05"/><circle cx="290.6" cy="408.0" r="2.05"/><circle cx="330.3" cy="377.8" r="2.05"/><circle cx="321.7" cy="386.2" r="2.05"/><circle cx="287.5" cy="407.4" r="2.05"/><circle cx="330.0" cy="379.3" r="2.05"/><circle cx="254.0" cy="416.3" r="2.05"/><circle cx="253.6" cy="418.2" r="2.05"/><circle cx="261.0" cy="416.2" r="2.05"/><circle cx="336.1" cy="379.8" r="2.05"/><circle cx="309.4" cy="390.0" r="2.05"/><circle cx="252.6" cy="421.2" r="2.05"/><circle cx="336.3" cy="372.6" r="2.05"/><circle cx="296.9" cy="398.8" r="2.05"/><circle cx="258.3" cy="426.7" r="2.05"/><circle cx="271.9" cy="408.0" r="2.05"/><circle cx="299.1" cy="396.7" r="2.05"/><circle cx="314.2" cy="387.0" r="2.05"/><circle cx="269.7" cy="411.3" r="2.05"/><circle cx="275.2" cy="404.5" r="2.05"/><circle cx="315.8" cy="388.1" r="2.05"/><circle cx="260.1" cy="426.4" r="2.05"/><circle cx="295.5" cy="397.7" r="2.05"/><circle cx="302.7" cy="397.1" r="2.05"/><circle cx="273.4" cy="410.0" r="2.05"/><circle cx="312.9" cy="385.3" r="2.05"/><circle cx="333.5" cy="376.9" r="2.05"/><circle cx="270.0" cy="410.3" r="2.05"/><circle cx="242.7" cy="427.3" r="2.05"/><circle cx="321.7" cy="382.4" r="2.05"/><circle cx="347.5" cy="371.0" r="2.05"/><circle cx="253.4" cy="416.1" r="2.05"/><circle cx="264.6" cy="414.3" r="2.05"/><circle cx="244.7" cy="425.3" r="2.05"/><circle cx="318.1" cy="386.9" r="2.05"/><circle cx="298.4" cy="401.0" r="2.05"/><circle cx="259.2" cy="413.4" r="2.05"/><circle cx="342.1" cy="370.3" r="2.05"/><circle cx="338.2" cy="374.1" r="2.05"/><circle cx="336.2" cy="374.8" r="2.05"/><circle cx="250.9" cy="420.8" r="2.05"/><circle cx="259.8" cy="412.1" r="2.05"/><circle cx="272.6" cy="408.2" r="2.05"/><circle cx="308.5" cy="392.4" r="2.05"/><circle cx="257.3" cy="434.3" r="2.05"/><circle cx="262.5" cy="412.1" r="2.05"/><circle cx="245.6" cy="420.0" r="2.05"/><circle cx="306.7" cy="393.4" r="2.05"/><circle cx="327.1" cy="379.4" r="2.05"/><circle cx="286.2" cy="402.1" r="2.05"/><circle cx="326.4" cy="379.9" r="2.05"/><circle cx="267.3" cy="411.3" r="2.05"/><circle cx="291.6" cy="398.6" r="2.05"/><circle cx="304.0" cy="394.5" r="2.05"/><circle cx="285.3" cy="400.4" r="2.05"/><circle cx="314.5" cy="388.5" r="2.05"/><circle cx="240.8" cy="422.8" r="2.05"/><circle cx="335.3" cy="376.7" r="2.05"/><circle cx="340.2" cy="372.7" r="2.05"/><circle cx="261.7" cy="415.4" r="2.05"/><circle cx="288.7" cy="401.1" r="2.05"/><circle cx="334.6" cy="378.1" r="2.05"/><circle cx="272.0" cy="407.3" r="2.05"/><circle cx="261.4" cy="413.5" r="2.05"/><circle cx="295.9" cy="399.2" r="2.05"/><circle cx="255.2" cy="419.7" r="2.05"/><circle cx="256.5" cy="419.5" r="2.05"/><circle cx="336.2" cy="381.5" r="2.05"/><circle cx="310.0" cy="391.4" r="2.05"/><circle cx="269.4" cy="408.3" r="2.05"/><circle cx="276.1" cy="409.2" r="2.05"/><circle cx="269.9" cy="413.0" r="2.05"/><circle cx="313.1" cy="387.6" r="2.05"/><circle cx="267.8" cy="411.4" r="2.05"/><circle cx="324.4" cy="386.0" r="2.05"/><circle cx="246.4" cy="418.7" r="2.05"/><circle cx="306.3" cy="392.8" r="2.05"/><circle cx="281.4" cy="401.4" r="2.05"/><circle cx="340.8" cy="370.3" r="2.05"/><circle cx="249.8" cy="417.2" r="2.05"/><circle cx="301.1" cy="397.1" r="2.05"/><circle cx="257.2" cy="413.4" r="2.05"/><circle cx="285.1" cy="406.6" r="2.05"/><circle cx="313.1" cy="388.7" r="2.05"/><circle cx="323.5" cy="392.2" r="2.05"/><circle cx="248.4" cy="421.6" r="2.05"/><circle cx="344.7" cy="374.0" r="2.05"/><circle cx="309.9" cy="393.0" r="2.05"/><circle cx="338.7" cy="373.0" r="2.05"/><circle cx="330.9" cy="379.9" r="2.05"/><circle cx="302.8" cy="394.4" r="2.05"/><circle cx="283.6" cy="401.4" r="2.05"/><circle cx="317.4" cy="385.3" r="2.05"/><circle cx="324.7" cy="384.9" r="2.05"/><circle cx="309.2" cy="393.0" r="2.05"/><circle cx="291.0" cy="403.5" r="2.05"/><circle cx="327.5" cy="378.7" r="2.05"/><circle cx="332.6" cy="378.1" r="2.05"/><circle cx="323.6" cy="382.7" r="2.05"/><circle cx="313.1" cy="391.5" r="2.05"/><circle cx="311.1" cy="391.1" r="2.05"/><circle cx="274.1" cy="406.0" r="2.05"/><circle cx="333.8" cy="378.5" r="2.05"/><circle cx="322.0" cy="382.6" r="2.05"/><circle cx="308.6" cy="393.6" r="2.05"/><circle cx="318.8" cy="383.1" r="2.05"/><circle cx="317.1" cy="391.6" r="2.05"/><circle cx="333.6" cy="375.2" r="2.05"/><circle cx="306.7" cy="397.2" r="2.05"/><circle cx="263.9" cy="415.6" r="2.05"/><circle cx="249.0" cy="421.9" r="2.05"/><circle cx="304.1" cy="395.0" r="2.05"/><circle cx="245.1" cy="421.2" r="2.05"/><circle cx="262.3" cy="410.7" r="2.05"/><circle cx="274.2" cy="407.0" r="2.05"/><circle cx="256.5" cy="421.5" r="2.05"/><circle cx="307.7" cy="392.2" r="2.05"/><circle cx="272.8" cy="408.6" r="2.05"/><circle cx="341.5" cy="373.0" r="2.05"/><circle cx="280.2" cy="405.2" r="2.05"/><circle cx="331.4" cy="378.5" r="2.05"/><circle cx="275.5" cy="406.0" r="2.05"/><circle cx="252.7" cy="416.7" r="2.05"/><circle cx="339.5" cy="374.0" r="2.05"/><circle cx="296.6" cy="395.9" r="2.05"/><circle cx="303.4" cy="399.2" r="2.05"/><circle cx="274.5" cy="404.1" r="2.05"/><circle cx="284.3" cy="405.6" r="2.05"/><circle cx="315.3" cy="386.4" r="2.05"/><circle cx="297.3" cy="398.6" r="2.05"/><circle cx="344.2" cy="375.2" r="2.05"/><circle cx="301.1" cy="402.5" r="2.05"/><circle cx="332.9" cy="379.8" r="2.05"/><circle cx="306.0" cy="400.4" r="2.05"/><circle cx="325.6" cy="382.2" r="2.05"/><circle cx="322.8" cy="382.2" r="2.05"/><circle cx="261.9" cy="416.2" r="2.05"/><circle cx="310.3" cy="390.4" r="2.05"/><circle cx="267.2" cy="413.9" r="2.05"/><circle cx="323.2" cy="386.3" r="2.05"/><circle cx="297.4" cy="399.3" r="2.05"/><circle cx="272.7" cy="407.5" r="2.05"/><circle cx="344.7" cy="375.1" r="2.05"/><circle cx="264.5" cy="412.9" r="2.05"/><circle cx="272.8" cy="408.1" r="2.05"/><circle cx="294.8" cy="399.6" r="2.05"/><circle cx="261.7" cy="412.7" r="2.05"/><circle cx="307.0" cy="399.8" r="2.05"/><circle cx="312.7" cy="391.1" r="2.05"/><circle cx="332.2" cy="377.6" r="2.05"/><circle cx="276.7" cy="412.0" r="2.05"/><circle cx="318.5" cy="384.5" r="2.05"/><circle cx="287.5" cy="399.0" r="2.05"/><circle cx="322.6" cy="382.6" r="2.05"/><circle cx="247.2" cy="423.4" r="2.05"/><circle cx="246.6" cy="419.2" r="2.05"/><circle cx="347.2" cy="370.9" r="2.05"/><circle cx="310.6" cy="397.0" r="2.05"/><circle cx="268.6" cy="409.5" r="2.05"/><circle cx="262.8" cy="411.9" r="2.05"/><circle cx="266.9" cy="412.4" r="2.05"/><circle cx="312.5" cy="388.0" r="2.05"/><circle cx="287.8" cy="400.0" r="2.05"/><circle cx="242.6" cy="421.8" r="2.05"/><circle cx="258.3" cy="412.2" r="2.05"/><circle cx="317.1" cy="385.3" r="2.05"/><circle cx="326.3" cy="385.9" r="2.05"/><circle cx="246.2" cy="419.9" r="2.05"/><circle cx="310.3" cy="388.8" r="2.05"/><circle cx="318.6" cy="384.6" r="2.05"/><circle cx="272.1" cy="408.1" r="2.05"/><circle cx="245.1" cy="425.4" r="2.05"/><circle cx="254.5" cy="416.4" r="2.05"/><circle cx="292.7" cy="398.0" r="2.05"/><circle cx="304.2" cy="394.8" r="2.05"/><circle cx="296.8" cy="396.6" r="2.05"/><circle cx="255.6" cy="416.1" r="2.05"/><circle cx="316.6" cy="387.0" r="2.05"/><circle cx="320.0" cy="384.9" r="2.05"/><circle cx="341.0" cy="371.9" r="2.05"/><circle cx="311.9" cy="389.5" r="2.05"/><circle cx="320.1" cy="388.3" r="2.05"/><circle cx="335.8" cy="374.9" r="2.05"/><circle cx="326.2" cy="379.1" r="2.05"/><circle cx="292.1" cy="399.3" r="2.05"/><circle cx="257.1" cy="412.7" r="2.05"/><circle cx="318.6" cy="387.1" r="2.05"/><circle cx="306.2" cy="392.7" r="2.05"/><circle cx="315.7" cy="387.4" r="2.05"/><circle cx="279.3" cy="405.0" r="2.05"/><circle cx="316.5" cy="391.7" r="2.05"/><circle cx="321.6" cy="385.0" r="2.05"/><circle cx="300.1" cy="397.6" r="2.05"/><circle cx="325.9" cy="379.9" r="2.05"/><circle cx="293.3" cy="400.9" r="2.05"/><circle cx="245.9" cy="420.8" r="2.05"/><circle cx="331.2" cy="382.5" r="2.05"/><circle cx="320.0" cy="386.6" r="2.05"/><circle cx="312.9" cy="389.2" r="2.05"/><circle cx="339.6" cy="373.6" r="2.05"/><circle cx="261.3" cy="414.8" r="2.05"/><circle cx="255.6" cy="415.3" r="2.05"/><circle cx="323.4" cy="385.3" r="2.05"/><circle cx="288.7" cy="399.2" r="2.05"/><circle cx="287.0" cy="403.3" r="2.05"/><circle cx="256.8" cy="418.3" r="2.05"/><circle cx="268.8" cy="408.8" r="2.05"/><circle cx="268.8" cy="412.2" r="2.05"/><circle cx="279.2" cy="402.9" r="2.05"/><circle cx="262.4" cy="412.0" r="2.05"/><circle cx="300.6" cy="400.2" r="2.05"/><circle cx="245.2" cy="423.6" r="2.05"/><circle cx="311.8" cy="389.9" r="2.05"/><circle cx="338.5" cy="373.7" r="2.05"/><circle cx="343.8" cy="370.8" r="2.05"/><circle cx="311.9" cy="391.7" r="2.05"/><circle cx="336.5" cy="374.1" r="2.05"/><circle cx="259.8" cy="412.3" r="2.05"/><circle cx="285.8" cy="401.8" r="2.05"/><circle cx="256.1" cy="413.3" r="2.05"/><circle cx="322.7" cy="383.7" r="2.05"/><circle cx="288.2" cy="401.9" r="2.05"/><circle cx="265.3" cy="412.6" r="2.05"/><circle cx="253.9" cy="424.2" r="2.05"/><circle cx="287.3" cy="405.8" r="2.05"/><circle cx="272.4" cy="407.0" r="2.05"/><circle cx="337.6" cy="374.4" r="2.05"/><circle cx="313.1" cy="393.1" r="2.05"/><circle cx="246.9" cy="418.6" r="2.05"/><circle cx="314.4" cy="387.7" r="2.05"/><circle cx="255.0" cy="417.1" r="2.05"/><circle cx="243.6" cy="421.1" r="2.05"/><circle cx="295.6" cy="398.3" r="2.05"/><circle cx="336.1" cy="374.5" r="2.05"/><circle cx="246.8" cy="421.2" r="2.05"/><circle cx="242.4" cy="420.3" r="2.05"/><circle cx="297.6" cy="398.4" r="2.05"/><circle cx="306.1" cy="393.0" r="2.05"/><circle cx="315.7" cy="388.9" r="2.05"/><circle cx="323.3" cy="384.1" r="2.05"/><circle cx="294.8" cy="400.5" r="2.05"/><circle cx="252.1" cy="414.1" r="2.05"/><circle cx="284.3" cy="404.3" r="2.05"/><circle cx="286.4" cy="400.5" r="2.05"/><circle cx="335.4" cy="376.0" r="2.05"/><circle cx="312.5" cy="386.4" r="2.05"/><circle cx="333.9" cy="374.8" r="2.05"/><circle cx="317.1" cy="387.1" r="2.05"/><circle cx="325.0" cy="380.7" r="2.05"/><circle cx="288.9" cy="400.7" r="2.05"/><circle cx="272.6" cy="406.4" r="2.05"/><circle cx="305.9" cy="395.0" r="2.05"/><circle cx="299.1" cy="399.4" r="2.05"/><circle cx="334.5" cy="380.0" r="2.05"/><circle cx="307.3" cy="392.1" r="2.05"/><circle cx="330.5" cy="384.7" r="2.05"/><circle cx="348.1" cy="372.3" r="2.05"/><circle cx="259.1" cy="413.2" r="2.05"/><circle cx="270.4" cy="408.7" r="2.05"/><circle cx="298.1" cy="396.9" r="2.05"/><circle cx="251.7" cy="423.2" r="2.05"/><circle cx="242.7" cy="420.0" r="2.05"/><circle cx="274.1" cy="408.4" r="2.05"/><circle cx="341.1" cy="380.9" r="2.05"/><circle cx="306.5" cy="395.1" r="2.05"/><circle cx="290.3" cy="398.1" r="2.05"/><circle cx="274.1" cy="408.0" r="2.05"/><circle cx="306.6" cy="394.4" r="2.05"/><circle cx="331.0" cy="391.0" r="2.05"/><circle cx="279.3" cy="402.8" r="2.05"/><circle cx="332.8" cy="376.8" r="2.05"/><circle cx="262.4" cy="416.6" r="2.05"/><circle cx="280.7" cy="406.3" r="2.05"/><circle cx="336.0" cy="378.1" r="2.05"/><circle cx="323.0" cy="385.3" r="2.05"/><circle cx="307.7" cy="390.5" r="2.05"/><circle cx="311.8" cy="389.5" r="2.05"/><circle cx="296.6" cy="397.7" r="2.05"/><circle cx="266.9" cy="411.4" r="2.05"/><circle cx="249.2" cy="431.7" r="2.05"/><circle cx="303.4" cy="394.9" r="2.05"/><circle cx="315.8" cy="387.6" r="2.05"/><circle cx="255.0" cy="419.6" r="2.05"/><circle cx="330.5" cy="378.4" r="2.05"/><circle cx="257.6" cy="416.8" r="2.05"/><circle cx="349.2" cy="379.8" r="2.05"/><circle cx="308.7" cy="391.7" r="2.05"/><circle cx="281.6" cy="402.0" r="2.05"/><circle cx="336.9" cy="377.1" r="2.05"/><circle cx="337.8" cy="376.5" r="2.05"/><circle cx="335.7" cy="381.9" r="2.05"/><circle cx="270.8" cy="409.8" r="2.05"/><circle cx="275.6" cy="405.6" r="2.05"/><circle cx="269.1" cy="412.5" r="2.05"/><circle cx="309.4" cy="390.8" r="2.05"/><circle cx="249.9" cy="423.9" r="2.05"/><circle cx="259.3" cy="420.4" r="2.05"/><circle cx="316.2" cy="386.4" r="2.05"/><circle cx="296.4" cy="399.2" r="2.05"/><circle cx="274.2" cy="406.7" r="2.05"/><circle cx="245.3" cy="420.3" r="2.05"/><circle cx="315.0" cy="386.1" r="2.05"/><circle cx="306.5" cy="394.5" r="2.05"/><circle cx="338.6" cy="372.6" r="2.05"/><circle cx="290.6" cy="402.8" r="2.05"/><circle cx="319.5" cy="384.1" r="2.05"/><circle cx="328.7" cy="377.2" r="2.05"/><circle cx="327.3" cy="380.2" r="2.05"/><circle cx="322.0" cy="382.9" r="2.05"/><circle cx="295.9" cy="397.3" r="2.05"/><circle cx="274.8" cy="406.7" r="2.05"/><circle cx="326.8" cy="380.0" r="2.05"/><circle cx="296.7" cy="401.7" r="2.05"/><circle cx="295.5" cy="397.2" r="2.05"/><circle cx="319.3" cy="382.8" r="2.05"/><circle cx="331.0" cy="376.9" r="2.05"/><circle cx="269.8" cy="411.5" r="2.05"/><circle cx="255.3" cy="416.1" r="2.05"/><circle cx="270.3" cy="410.2" r="2.05"/><circle cx="245.0" cy="431.2" r="2.05"/><circle cx="280.9" cy="404.6" r="2.05"/><circle cx="301.8" cy="398.3" r="2.05"/><circle cx="299.1" cy="397.5" r="2.05"/><circle cx="289.9" cy="400.5" r="2.05"/><circle cx="267.2" cy="408.2" r="2.05"/><circle cx="322.4" cy="384.3" r="2.05"/><circle cx="307.2" cy="393.9" r="2.05"/><circle cx="280.6" cy="402.2" r="2.05"/><circle cx="340.0" cy="372.9" r="2.05"/><circle cx="313.2" cy="393.5" r="2.05"/><circle cx="319.1" cy="386.5" r="2.05"/><circle cx="264.4" cy="411.0" r="2.05"/><circle cx="316.4" cy="385.9" r="2.05"/><circle cx="316.8" cy="386.1" r="2.05"/><circle cx="295.9" cy="399.9" r="2.05"/><circle cx="298.3" cy="396.7" r="2.05"/><circle cx="307.5" cy="399.9" r="2.05"/><circle cx="264.9" cy="416.3" r="2.05"/><circle cx="279.6" cy="404.8" r="2.05"/><circle cx="318.6" cy="383.1" r="2.05"/><circle cx="305.2" cy="395.0" r="2.05"/><circle cx="289.7" cy="401.4" r="2.05"/><circle cx="249.3" cy="419.1" r="2.05"/><circle cx="274.5" cy="407.1" r="2.05"/><circle cx="244.8" cy="421.1" r="2.05"/><circle cx="315.6" cy="385.3" r="2.05"/><circle cx="299.2" cy="399.7" r="2.05"/><circle cx="281.6" cy="414.8" r="2.05"/><circle cx="265.1" cy="410.7" r="2.05"/><circle cx="245.4" cy="421.8" r="2.05"/><circle cx="328.2" cy="380.2" r="2.05"/><circle cx="329.4" cy="381.0" r="2.05"/><circle cx="304.1" cy="395.1" r="2.05"/><circle cx="255.3" cy="419.0" r="2.05"/><circle cx="343.9" cy="371.0" r="2.05"/><circle cx="332.1" cy="379.5" r="2.05"/><circle cx="286.1" cy="402.4" r="2.05"/><circle cx="332.1" cy="378.8" r="2.05"/><circle cx="276.1" cy="404.1" r="2.05"/><circle cx="307.1" cy="393.5" r="2.05"/><circle cx="316.8" cy="386.5" r="2.05"/><circle cx="319.0" cy="394.6" r="2.05"/><circle cx="317.5" cy="396.4" r="2.05"/><circle cx="336.5" cy="376.3" r="2.05"/><circle cx="271.9" cy="410.1" r="2.05"/><circle cx="322.1" cy="383.7" r="2.05"/><circle cx="266.7" cy="410.0" r="2.05"/><circle cx="313.5" cy="387.9" r="2.05"/><circle cx="317.8" cy="387.8" r="2.05"/><circle cx="252.7" cy="419.5" r="2.05"/><circle cx="315.3" cy="396.0" r="2.05"/><circle cx="315.5" cy="389.2" r="2.05"/><circle cx="337.3" cy="374.0" r="2.05"/><circle cx="304.3" cy="396.7" r="2.05"/><circle cx="309.2" cy="395.8" r="2.05"/><circle cx="301.8" cy="394.5" r="2.05"/><circle cx="262.1" cy="414.1" r="2.05"/><circle cx="276.5" cy="405.4" r="2.05"/><circle cx="255.7" cy="416.9" r="2.05"/><circle cx="311.3" cy="388.9" r="2.05"/><circle cx="242.7" cy="422.7" r="2.05"/><circle cx="319.6" cy="383.3" r="2.05"/><circle cx="265.5" cy="409.6" r="2.05"/><circle cx="246.7" cy="418.0" r="2.05"/><circle cx="259.8" cy="422.3" r="2.05"/><circle cx="250.4" cy="434.5" r="2.05"/><circle cx="330.3" cy="377.0" r="2.05"/><circle cx="340.0" cy="374.3" r="2.05"/><circle cx="268.6" cy="410.9" r="2.05"/><circle cx="297.9" cy="400.3" r="2.05"/><circle cx="262.0" cy="417.3" r="2.05"/><circle cx="270.9" cy="409.5" r="2.05"/><circle cx="311.9" cy="389.6" r="2.05"/><circle cx="290.1" cy="407.5" r="2.05"/><circle cx="246.8" cy="417.9" r="2.05"/><circle cx="279.4" cy="412.7" r="2.05"/><circle cx="290.2" cy="401.6" r="2.05"/><circle cx="300.0" cy="396.1" r="2.05"/><circle cx="255.1" cy="418.0" r="2.05"/><circle cx="324.2" cy="381.3" r="2.05"/><circle cx="279.2" cy="406.1" r="2.05"/><circle cx="294.5" cy="408.4" r="2.05"/><circle cx="332.4" cy="387.3" r="2.05"/><circle cx="292.2" cy="399.9" r="2.05"/><circle cx="335.6" cy="375.2" r="2.05"/><circle cx="328.1" cy="378.0" r="2.05"/><circle cx="316.7" cy="386.2" r="2.05"/><circle cx="290.8" cy="398.1" r="2.05"/><circle cx="299.4" cy="397.9" r="2.05"/><circle cx="297.3" cy="396.6" r="2.05"/><circle cx="295.3" cy="401.9" r="2.05"/><circle cx="270.7" cy="410.2" r="2.05"/><circle cx="289.2" cy="401.2" r="2.05"/><circle cx="311.1" cy="390.0" r="2.05"/><circle cx="326.9" cy="379.3" r="2.05"/><circle cx="317.5" cy="397.2" r="2.05"/><circle cx="341.4" cy="371.1" r="2.05"/><circle cx="295.2" cy="399.6" r="2.05"/><circle cx="330.8" cy="377.2" r="2.05"/><circle cx="301.4" cy="396.4" r="2.05"/><circle cx="298.5" cy="396.9" r="2.05"/><circle cx="317.1" cy="394.2" r="2.05"/><circle cx="257.2" cy="419.3" r="2.05"/><circle cx="341.0" cy="370.3" r="2.05"/><circle cx="273.2" cy="406.2" r="2.05"/><circle cx="262.7" cy="417.5" r="2.05"/><circle cx="332.0" cy="377.7" r="2.05"/><circle cx="270.2" cy="409.7" r="2.05"/><circle cx="275.3" cy="413.0" r="2.05"/><circle cx="250.8" cy="417.3" r="2.05"/><circle cx="300.0" cy="394.0" r="2.05"/><circle cx="310.6" cy="392.3" r="2.05"/><circle cx="283.7" cy="403.7" r="2.05"/><circle cx="270.3" cy="408.6" r="2.05"/><circle cx="322.6" cy="380.9" r="2.05"/><circle cx="317.4" cy="386.4" r="2.05"/><circle cx="332.0" cy="378.3" r="2.05"/><circle cx="256.0" cy="417.4" r="2.05"/><circle cx="336.7" cy="381.9" r="2.05"/><circle cx="335.7" cy="373.9" r="2.05"/><circle cx="296.6" cy="399.6" r="2.05"/><circle cx="337.4" cy="375.3" r="2.05"/></g><circle cx="337.9" cy="386.2" r="2.05"/><circle cx="340.3" cy="379.5" r="2.05"/><circle cx="262.6" cy="423.2" r="2.05"/><circle cx="276.1" cy="421.9" r="2.05"/><circle cx="243.8" cy="431.1" r="2.05"/><circle cx="321.1" cy="406.5" r="2.05"/><circle cx="261.1" cy="420.5" r="2.05"/><circle cx="330.9" cy="397.7" r="2.05"/><circle cx="282.3" cy="422.8" r="2.05"/><circle cx="341.1" cy="383.6" r="2.05"/><circle cx="287.8" cy="413.7" r="2.05"/><circle cx="323.4" cy="393.0" r="2.05"/><circle cx="329.2" cy="391.6" r="2.05"/><circle cx="274.7" cy="421.3" r="2.05"/><circle cx="299.2" cy="408.6" r="2.05"/><circle cx="284.4" cy="409.1" r="2.05"/><circle cx="348.4" cy="381.1" r="2.05"/><circle cx="346.1" cy="388.0" r="2.05"/><circle cx="260.2" cy="441.4" r="2.05"/><circle cx="278.0" cy="416.5" r="2.05"/><circle cx="283.6" cy="417.5" r="2.05"/><circle cx="304.4" cy="409.9" r="2.05"/><circle cx="277.3" cy="420.2" r="2.05"/><circle cx="263.8" cy="422.4" r="2.05"/><circle cx="284.2" cy="414.9" r="2.05"/><circle cx="252.2" cy="427.3" r="2.05"/><circle cx="333.4" cy="390.3" r="2.05"/><circle cx="302.1" cy="407.5" r="2.05"/><circle cx="271.3" cy="454.9" r="2.05"/><circle cx="253.6" cy="423.7" r="2.05"/><circle cx="333.3" cy="385.5" r="2.05"/><circle cx="315.0" cy="407.1" r="2.05"/><circle cx="327.6" cy="399.4" r="2.05"/><circle cx="290.6" cy="419.2" r="2.05"/><circle cx="310.1" cy="409.2" r="2.05"/><circle cx="314.2" cy="400.6" r="2.05"/><circle cx="265.3" cy="428.3" r="2.05"/><circle cx="318.9" cy="395.1" r="2.05"/><circle cx="305.8" cy="401.8" r="2.05"/><circle cx="347.9" cy="379.5" r="2.05"/><circle cx="339.5" cy="385.7" r="2.05"/><circle cx="289.0" cy="414.0" r="2.05"/><circle cx="251.3" cy="429.0" r="2.05"/><circle cx="333.5" cy="392.0" r="2.05"/><circle cx="329.7" cy="393.2" r="2.05"/><circle cx="327.1" cy="397.1" r="2.05"/><circle cx="308.9" cy="412.7" r="2.05"/><circle cx="347.9" cy="391.7" r="2.05"/><circle cx="322.8" cy="398.2" r="2.05"/><circle cx="286.3" cy="416.1" r="2.05"/><circle cx="300.1" cy="410.4" r="2.05"/><circle cx="307.7" cy="407.0" r="2.05"/><circle cx="348.3" cy="379.5" r="2.05"/><circle cx="336.2" cy="387.3" r="2.05"/><circle cx="279.8" cy="418.3" r="2.05"/><circle cx="256.0" cy="427.3" r="2.05"/><circle cx="255.4" cy="430.8" r="2.05"/><circle cx="333.6" cy="398.7" r="2.05"/><circle cx="287.6" cy="411.1" r="2.05"/><circle cx="350.4" cy="376.4" r="2.05"/><circle cx="315.0" cy="397.6" r="2.05"/><circle cx="329.3" cy="398.0" r="2.05"/><circle cx="333.5" cy="395.6" r="2.05"/><circle cx="318.7" cy="403.0" r="2.05"/><circle cx="271.8" cy="447.1" r="2.05"/><circle cx="255.9" cy="441.2" r="2.05"/><circle cx="355.5" cy="375.1" r="2.05"/><circle cx="338.7" cy="401.1" r="2.05"/><circle cx="321.3" cy="396.6" r="2.05"/><circle cx="326.1" cy="391.1" r="2.05"/><circle cx="277.6" cy="434.9" r="2.05"/><circle cx="299.5" cy="408.2" r="2.05"/><circle cx="289.3" cy="411.9" r="2.05"/><circle cx="313.2" cy="405.7" r="2.05"/><circle cx="327.3" cy="390.8" r="2.05"/><circle cx="306.0" cy="401.4" r="2.05"/><circle cx="347.5" cy="382.8" r="2.05"/><circle cx="251.3" cy="431.3" r="2.05"/><circle cx="330.7" cy="393.1" r="2.05"/><circle cx="347.8" cy="383.2" r="2.05"/><circle cx="261.8" cy="432.0" r="2.05"/><circle cx="248.4" cy="429.8" r="2.05"/><circle cx="340.8" cy="380.7" r="2.05"/><circle cx="311.1" cy="418.7" r="2.05"/><circle cx="269.4" cy="419.8" r="2.05"/><circle cx="277.8" cy="424.4" r="2.05"/><circle cx="261.8" cy="422.1" r="2.05"/><circle cx="338.4" cy="384.2" r="2.05"/><circle cx="288.9" cy="424.0" r="2.05"/><circle cx="254.1" cy="422.0" r="2.05"/><circle cx="348.3" cy="379.3" r="2.05"/><circle cx="261.4" cy="432.0" r="2.05"/><circle cx="317.8" cy="406.3" r="2.05"/><circle cx="266.7" cy="423.4" r="2.05"/><circle cx="263.6" cy="432.6" r="2.05"/><circle cx="300.1" cy="405.6" r="2.05"/><circle cx="296.7" cy="430.1" r="2.05"/><circle cx="325.3" cy="400.4" r="2.05"/><circle cx="310.3" cy="404.1" r="2.05"/><circle cx="344.5" cy="381.2" r="2.05"/><circle cx="300.7" cy="408.0" r="2.05"/><circle cx="294.3" cy="412.2" r="2.05"/><circle cx="309.7" cy="406.2" r="2.05"/><circle cx="284.7" cy="416.5" r="2.05"/><circle cx="267.2" cy="423.2" r="2.05"/><circle cx="248.7" cy="424.1" r="2.05"/><circle cx="304.4" cy="456.0" r="2.05"/><circle cx="308.3" cy="400.9" r="2.05"/><circle cx="290.2" cy="429.4" r="2.05"/><circle cx="314.6" cy="413.4" r="2.05"/><circle cx="260.3" cy="427.8" r="2.05"/><circle cx="349.8" cy="378.8" r="2.05"/><circle cx="292.9" cy="408.9" r="2.05"/><circle cx="350.0" cy="387.4" r="2.05"/><circle cx="270.0" cy="431.0" r="2.05"/><circle cx="358.6" cy="382.1" r="2.05"/><circle cx="246.8" cy="435.1" r="2.05"/><circle cx="314.4" cy="401.5" r="2.05"/><circle cx="353.8" cy="376.2" r="2.05"/><circle cx="244.8" cy="431.8" r="2.05"/><circle cx="358.1" cy="381.5" r="2.05"/><circle cx="339.9" cy="380.6" r="2.05"/><circle cx="314.8" cy="403.8" r="2.05"/><circle cx="262.0" cy="426.9" r="2.05"/><circle cx="341.6" cy="384.9" r="2.05"/><circle cx="351.3" cy="374.3" r="2.05"/><circle cx="344.6" cy="381.8" r="2.05"/><circle cx="294.3" cy="407.4" r="2.05"/><circle cx="270.9" cy="441.7" r="2.05"/><circle cx="349.5" cy="372.9" r="2.05"/><circle cx="329.0" cy="390.0" r="2.05"/><circle cx="325.5" cy="405.9" r="2.05"/><circle cx="317.0" cy="401.2" r="2.05"/><circle cx="330.5" cy="403.1" r="2.05"/><circle cx="270.2" cy="425.2" r="2.05"/><circle cx="288.0" cy="414.0" r="2.05"/><circle cx="340.0" cy="389.3" r="2.05"/><circle cx="310.0" cy="404.2" r="2.05"/><circle cx="248.7" cy="427.4" r="2.05"/><circle cx="316.4" cy="406.3" r="2.05"/><circle cx="305.1" cy="405.1" r="2.05"/><circle cx="317.7" cy="400.1" r="2.05"/><circle cx="273.8" cy="429.1" r="2.05"/><circle cx="342.3" cy="394.7" r="2.05"/><circle cx="352.5" cy="385.3" r="2.05"/><circle cx="317.1" cy="398.1" r="2.05"/><circle cx="344.3" cy="380.8" r="2.05"/><circle cx="304.7" cy="412.3" r="2.05"/><circle cx="310.4" cy="398.6" r="2.05"/><circle cx="336.2" cy="392.1" r="2.05"/><circle cx="337.7" cy="385.9" r="2.05"/><circle cx="335.7" cy="381.5" r="2.05"/><circle cx="336.9" cy="384.5" r="2.05"/><circle cx="263.9" cy="427.9" r="2.05"/><circle cx="281.1" cy="412.7" r="2.05"/><circle cx="255.9" cy="435.8" r="2.05"/><circle cx="274.5" cy="417.2" r="2.05"/><circle cx="298.7" cy="403.7" r="2.05"/><circle cx="285.1" cy="426.5" r="2.05"/><circle cx="249.6" cy="427.8" r="2.05"/><circle cx="319.3" cy="409.4" r="2.05"/><circle cx="345.0" cy="381.8" r="2.05"/><circle cx="349.3" cy="383.2" r="2.05"/><circle cx="267.5" cy="419.0" r="2.05"/><circle cx="265.9" cy="435.4" r="2.05"/><circle cx="321.0" cy="396.4" r="2.05"/><circle cx="327.9" cy="383.4" r="2.05"/><circle cx="337.2" cy="384.1" r="2.05"/><circle cx="321.4" cy="412.9" r="2.05"/><circle cx="376.0" cy="372.4" r="2.05"/><circle cx="349.7" cy="373.3" r="2.05"/><circle cx="351.3" cy="372.2" r="2.05"/><circle cx="363.3" cy="372.6" r="2.05"/><circle cx="367.7" cy="378.7" r="2.05"/><circle cx="393.3" cy="378.8" r="2.05"/><circle cx="352.5" cy="376.0" r="2.05"/><circle cx="375.4" cy="373.3" r="2.05"/><circle cx="348.9" cy="372.5" r="2.05"/><circle cx="369.6" cy="370.9" r="2.05"/><circle cx="347.6" cy="371.2" r="2.05"/><circle cx="354.9" cy="372.1" r="2.05"/><circle cx="352.8" cy="370.6" r="2.05"/><circle cx="354.1" cy="379.0" r="2.05"/><circle cx="379.9" cy="375.8" r="2.05"/><circle cx="352.8" cy="370.7" r="2.05"/><circle cx="396.5" cy="378.7" r="2.05"/><circle cx="362.6" cy="373.0" r="2.05"/><circle cx="353.2" cy="375.1" r="2.05"/><circle cx="359.5" cy="371.3" r="2.05"/><circle cx="351.7" cy="370.7" r="2.05"/><circle cx="354.8" cy="373.0" r="2.05"/><circle cx="370.1" cy="374.9" r="2.05"/><circle cx="348.2" cy="373.3" r="2.05"/><circle cx="355.4" cy="376.0" r="2.05"/><circle cx="350.4" cy="375.3" r="2.05"/><circle cx="359.8" cy="372.9" r="2.05"/><circle cx="363.6" cy="384.1" r="2.05"/><circle cx="377.4" cy="373.0" r="2.05"/><circle cx="350.0" cy="374.5" r="2.05"/><circle cx="355.2" cy="372.2" r="2.05"/><circle cx="391.0" cy="377.1" r="2.05"/><circle cx="373.3" cy="372.4" r="2.05"/><circle cx="363.2" cy="372.3" r="2.05"/><circle cx="358.0" cy="372.6" r="2.05"/><circle cx="358.8" cy="371.9" r="2.05"/><circle cx="374.2" cy="373.1" r="2.05"/><circle cx="382.5" cy="381.0" r="2.05"/><circle cx="360.6" cy="373.7" r="2.05"/><circle cx="366.4" cy="376.7" r="2.05"/><circle cx="381.3" cy="370.8" r="2.05"/><circle cx="363.9" cy="370.9" r="2.05"/><circle cx="356.8" cy="373.0" r="2.05"/><circle cx="353.3" cy="376.8" r="2.05"/><circle cx="367.8" cy="376.0" r="2.05"/><circle cx="346.8" cy="375.7" r="2.05"/><circle cx="369.5" cy="373.4" r="2.05"/><circle cx="348.1" cy="375.1" r="2.05"/><circle cx="367.8" cy="371.4" r="2.05"/><circle cx="347.8" cy="376.3" r="2.05"/><circle cx="350.4" cy="371.4" r="2.05"/><circle cx="383.4" cy="382.0" r="2.05"/><circle cx="368.7" cy="372.4" r="2.05"/><circle cx="347.4" cy="374.0" r="2.05"/><circle cx="376.3" cy="372.2" r="2.05"/><circle cx="347.5" cy="372.3" r="2.05"/><circle cx="347.3" cy="371.1" r="2.05"/><circle cx="350.8" cy="373.9" r="2.05"/><circle cx="357.2" cy="374.6" r="2.05"/><circle cx="376.2" cy="374.2" r="2.05"/><circle cx="350.6" cy="372.4" r="2.05"/><circle cx="379.3" cy="370.7" r="2.05"/><circle cx="363.5" cy="370.9" r="2.05"/><circle cx="374.8" cy="370.7" r="2.05"/><circle cx="367.7" cy="371.2" r="2.05"/><circle cx="348.6" cy="373.4" r="2.05"/><circle cx="365.2" cy="372.0" r="2.05"/><circle cx="348.4" cy="371.9" r="2.05"/><circle cx="360.6" cy="371.5" r="2.05"/><circle cx="350.0" cy="372.0" r="2.05"/><circle cx="356.8" cy="377.5" r="2.05"/><circle cx="380.8" cy="371.0" r="2.05"/><circle cx="360.0" cy="371.9" r="2.05"/><circle cx="387.0" cy="371.4" r="2.05"/><circle cx="347.6" cy="371.8" r="2.05"/><circle cx="379.8" cy="371.1" r="2.05"/><circle cx="346.8" cy="383.1" r="2.05"/><circle cx="382.0" cy="374.1" r="2.05"/><circle cx="274.6" cy="467.5" r="2.05"/><circle cx="287.9" cy="438.7" r="2.05"/><circle cx="269.7" cy="448.8" r="2.05"/><circle cx="269.9" cy="464.8" r="2.05"/><circle cx="277.7" cy="433.0" r="2.05"/><circle cx="269.8" cy="420.2" r="2.05"/><circle cx="254.6" cy="469.5" r="2.05"/><circle cx="259.0" cy="449.6" r="2.05"/><circle cx="267.7" cy="469.5" r="2.05"/><circle cx="289.2" cy="434.3" r="2.05"/><circle cx="248.5" cy="459.9" r="2.05"/><circle cx="273.9" cy="429.0" r="2.05"/><circle cx="257.3" cy="469.9" r="2.05"/><circle cx="318.1" cy="422.6" r="2.05"/><circle cx="284.8" cy="467.6" r="2.05"/><circle cx="266.1" cy="427.3" r="2.05"/><circle cx="249.7" cy="422.4" r="2.05"/><circle cx="295.8" cy="472.9" r="2.05"/><circle cx="255.7" cy="443.2" r="2.05"/><circle cx="250.4" cy="440.9" r="2.05"/><circle cx="282.9" cy="445.3" r="2.05"/><circle cx="261.1" cy="471.3" r="2.05"/><circle cx="288.6" cy="449.9" r="2.05"/><circle cx="267.6" cy="420.9" r="2.05"/><circle cx="277.0" cy="461.9" r="2.05"/><circle cx="258.5" cy="439.8" r="2.05"/><circle cx="287.1" cy="441.6" r="2.05"/><circle cx="280.4" cy="419.0" r="2.05"/><circle cx="272.4" cy="438.3" r="2.05"/><circle cx="273.3" cy="422.5" r="2.05"/><circle cx="286.3" cy="448.3" r="2.05"/><circle cx="267.8" cy="467.2" r="2.05"/><circle cx="283.5" cy="459.6" r="2.05"/><circle cx="262.5" cy="438.6" r="2.05"/><circle cx="289.1" cy="462.5" r="2.05"/><circle cx="260.3" cy="467.4" r="2.05"/><circle cx="292.1" cy="426.2" r="2.05"/><circle cx="243.8" cy="458.4" r="2.05"/><circle cx="279.7" cy="452.2" r="2.05"/><circle cx="271.0" cy="418.6" r="2.05"/><circle cx="262.9" cy="419.7" r="2.05"/><circle cx="244.6" cy="460.6" r="2.05"/><circle cx="282.5" cy="424.8" r="2.05"/><circle cx="303.2" cy="427.8" r="2.05"/><circle cx="255.4" cy="445.8" r="2.05"/><circle cx="277.4" cy="449.2" r="2.05"/><circle cx="248.8" cy="442.2" r="2.05"/><circle cx="306.5" cy="453.7" r="2.05"/><circle cx="280.3" cy="467.2" r="2.05"/><circle cx="272.8" cy="469.8" r="2.05"/><circle cx="281.1" cy="419.0" r="2.05"/><circle cx="255.7" cy="424.8" r="2.05"/><circle cx="266.2" cy="469.4" r="2.05"/><circle cx="293.1" cy="456.0" r="2.05"/><circle cx="270.1" cy="436.1" r="2.05"/><circle cx="279.2" cy="464.1" r="2.05"/><circle cx="246.9" cy="473.3" r="2.05"/><circle cx="287.4" cy="463.3" r="2.05"/><circle cx="298.5" cy="453.0" r="2.05"/><circle cx="285.4" cy="466.6" r="2.05"/><circle cx="311.3" cy="434.8" r="2.05"/><circle cx="253.9" cy="457.8" r="2.05"/><circle cx="281.0" cy="453.1" r="2.05"/><circle cx="278.8" cy="442.0" r="2.05"/><circle cx="274.2" cy="450.3" r="2.05"/><circle cx="275.7" cy="465.5" r="2.05"/><circle cx="289.8" cy="419.0" r="2.05"/><circle cx="291.6" cy="425.8" r="2.05"/><circle cx="271.8" cy="438.9" r="2.05"/><circle cx="282.6" cy="459.5" r="2.05"/><circle cx="283.3" cy="430.4" r="2.05"/><circle cx="313.7" cy="431.9" r="2.05"/><circle cx="248.4" cy="433.4" r="2.05"/><circle cx="284.6" cy="460.4" r="2.05"/><circle cx="305.7" cy="443.7" r="2.05"/><circle cx="255.9" cy="426.9" r="2.05"/><circle cx="261.7" cy="429.0" r="2.05"/><circle cx="287.4" cy="433.5" r="2.05"/><circle cx="270.1" cy="446.5" r="2.05"/><circle cx="271.2" cy="439.6" r="2.05"/><circle cx="260.4" cy="421.3" r="2.05"/><circle cx="265.2" cy="469.3" r="2.05"/><circle cx="266.8" cy="436.9" r="2.05"/><circle cx="299.6" cy="453.3" r="2.05"/><circle cx="246.8" cy="454.5" r="2.05"/><circle cx="253.3" cy="429.8" r="2.05"/><circle cx="285.5" cy="456.6" r="2.05"/><circle cx="298.8" cy="460.2" r="2.05"/><circle cx="268.8" cy="455.0" r="2.05"/><circle cx="252.6" cy="459.1" r="2.05"/><circle cx="276.6" cy="446.4" r="2.05"/><circle cx="306.2" cy="439.3" r="2.05"/><circle cx="281.7" cy="472.0" r="2.05"/><circle cx="310.4" cy="462.9" r="2.05"/><circle cx="285.1" cy="440.0" r="2.05"/><circle cx="262.4" cy="438.2" r="2.05"/><circle cx="283.3" cy="443.9" r="2.05"/><circle cx="307.8" cy="471.6" r="2.05"/><circle cx="324.0" cy="443.1" r="2.05"/><circle cx="284.5" cy="437.2" r="2.05"/><circle cx="263.8" cy="470.5" r="2.05"/><circle cx="284.9" cy="461.8" r="2.05"/><circle cx="273.4" cy="450.2" r="2.05"/><circle cx="248.6" cy="452.7" r="2.05"/><circle cx="273.1" cy="441.1" r="2.05"/><circle cx="251.4" cy="473.3" r="2.05"/><circle cx="284.5" cy="442.5" r="2.05"/><circle cx="275.5" cy="453.1" r="2.05"/><circle cx="251.5" cy="438.8" r="2.05"/><circle cx="285.8" cy="458.4" r="2.05"/><circle cx="308.4" cy="419.1" r="2.05"/><circle cx="282.2" cy="422.7" r="2.05"/><circle cx="259.2" cy="473.7" r="2.05"/><circle cx="287.8" cy="456.0" r="2.05"/><circle cx="290.6" cy="441.4" r="2.05"/><circle cx="287.1" cy="426.7" r="2.05"/><circle cx="322.8" cy="426.4" r="2.05"/><circle cx="283.0" cy="420.1" r="2.05"/><circle cx="280.3" cy="455.1" r="2.05"/><circle cx="308.9" cy="459.1" r="2.05"/><circle cx="263.1" cy="453.7" r="2.05"/><circle cx="245.4" cy="452.6" r="2.05"/><circle cx="261.6" cy="443.0" r="2.05"/><circle cx="273.7" cy="464.5" r="2.05"/><circle cx="282.3" cy="445.3" r="2.05"/><circle cx="245.4" cy="465.6" r="2.05"/><circle cx="246.4" cy="450.2" r="2.05"/><circle cx="247.3" cy="446.0" r="2.05"/><circle cx="282.1" cy="451.9" r="2.05"/><circle cx="252.1" cy="457.5" r="2.05"/><circle cx="283.9" cy="460.0" r="2.05"/><circle cx="261.9" cy="469.2" r="2.05"/><circle cx="277.6" cy="445.8" r="2.05"/><circle cx="251.3" cy="466.4" r="2.05"/><circle cx="289.6" cy="418.2" r="2.05"/><circle cx="303.2" cy="443.0" r="2.05"/><circle cx="262.7" cy="469.8" r="2.05"/><circle cx="286.1" cy="422.0" r="2.05"/><circle cx="258.6" cy="455.0" r="2.05"/><circle cx="267.7" cy="432.7" r="2.05"/><circle cx="263.7" cy="458.6" r="2.05"/><circle cx="288.3" cy="421.4" r="2.05"/><circle cx="298.7" cy="421.1" r="2.05"/><circle cx="293.8" cy="446.4" r="2.05"/><circle cx="249.0" cy="466.7" r="2.05"/><circle cx="275.1" cy="421.1" r="2.05"/><circle cx="247.1" cy="444.7" r="2.05"/><circle cx="282.5" cy="455.6" r="2.05"/><circle cx="279.0" cy="451.3" r="2.05"/><circle cx="285.6" cy="423.5" r="2.05"/><circle cx="284.0" cy="465.3" r="2.05"/><circle cx="258.5" cy="459.1" r="2.05"/><circle cx="271.0" cy="473.8" r="2.05"/><circle cx="309.0" cy="471.0" r="2.05"/><circle cx="263.0" cy="440.5" r="2.05"/><circle cx="266.4" cy="454.3" r="2.05"/><circle cx="259.9" cy="420.0" r="2.05"/><circle cx="260.7" cy="446.2" r="2.05"/><circle cx="260.8" cy="440.8" r="2.05"/><circle cx="299.7" cy="468.6" r="2.05"/><circle cx="286.4" cy="446.7" r="2.05"/><circle cx="298.0" cy="428.3" r="2.05"/><circle cx="260.0" cy="452.4" r="2.05"/><circle cx="283.8" cy="439.8" r="2.05"/><circle cx="264.8" cy="438.5" r="2.05"/><circle cx="303.9" cy="433.4" r="2.05"/><circle cx="256.0" cy="439.1" r="2.05"/><circle cx="286.6" cy="431.2" r="2.05"/><circle cx="251.5" cy="418.8" r="2.05"/><circle cx="261.1" cy="467.1" r="2.05"/><circle cx="295.3" cy="456.0" r="2.05"/><circle cx="286.2" cy="468.9" r="2.05"/><circle cx="290.8" cy="430.3" r="2.05"/><circle cx="291.2" cy="419.6" r="2.05"/><circle cx="282.4" cy="450.8" r="2.05"/><circle cx="283.7" cy="464.8" r="2.05"/><circle cx="283.7" cy="445.0" r="2.05"/><circle cx="250.0" cy="444.8" r="2.05"/><circle cx="250.2" cy="454.8" r="2.05"/><circle cx="273.9" cy="468.7" r="2.05"/><circle cx="249.9" cy="471.3" r="2.05"/><circle cx="251.9" cy="443.7" r="2.05"/><circle cx="280.9" cy="461.0" r="2.05"/><circle cx="289.0" cy="447.2" r="2.05"/><circle cx="280.5" cy="460.2" r="2.05"/><circle cx="314.3" cy="445.7" r="2.05"/><circle cx="292.8" cy="452.5" r="2.05"/><circle cx="286.7" cy="440.6" r="2.05"/><circle cx="261.2" cy="422.6" r="2.05"/><circle cx="259.5" cy="469.4" r="2.05"/><circle cx="248.5" cy="446.8" r="2.05"/><circle cx="288.3" cy="437.7" r="2.05"/><circle cx="272.0" cy="432.5" r="2.05"/><circle cx="243.7" cy="420.6" r="2.05"/><circle cx="286.3" cy="440.1" r="2.05"/><circle cx="265.1" cy="425.7" r="2.05"/><circle cx="255.9" cy="421.6" r="2.05"/><circle cx="277.1" cy="440.5" r="2.05"/><circle cx="296.3" cy="442.7" r="2.05"/><circle cx="300.4" cy="459.6" r="2.05"/><circle cx="293.6" cy="436.5" r="2.05"/><circle cx="270.1" cy="440.6" r="2.05"/><circle cx="265.0" cy="431.1" r="2.05"/><circle cx="288.4" cy="454.0" r="2.05"/><circle cx="270.8" cy="451.9" r="2.05"/><circle cx="303.4" cy="471.5" r="2.05"/><circle cx="291.5" cy="470.4" r="2.05"/><circle cx="257.7" cy="446.7" r="2.05"/><circle cx="272.3" cy="443.7" r="2.05"/><circle cx="311.6" cy="419.2" r="2.05"/><circle cx="304.9" cy="424.9" r="2.05"/><circle cx="246.1" cy="437.8" r="2.05"/><circle cx="266.1" cy="419.8" r="2.05"/><circle cx="273.3" cy="453.8" r="2.05"/><circle cx="300.0" cy="467.8" r="2.05"/><circle cx="320.4" cy="431.8" r="2.05"/><circle cx="270.6" cy="465.5" r="2.05"/><circle cx="279.8" cy="456.9" r="2.05"/><circle cx="294.2" cy="455.8" r="2.05"/><circle cx="274.9" cy="466.4" r="2.05"/><circle cx="288.7" cy="469.0" r="2.05"/><circle cx="286.5" cy="457.8" r="2.05"/><circle cx="280.9" cy="433.8" r="2.05"/><circle cx="273.9" cy="424.3" r="2.05"/><circle cx="248.8" cy="419.5" r="2.05"/><circle cx="256.6" cy="426.9" r="2.05"/><circle cx="310.8" cy="427.0" r="2.05"/><circle cx="279.2" cy="429.1" r="2.05"/><circle cx="325.4" cy="455.5" r="2.05"/><circle cx="310.9" cy="426.1" r="2.05"/><circle cx="278.2" cy="448.0" r="2.05"/><circle cx="285.2" cy="452.9" r="2.05"/><circle cx="277.9" cy="445.2" r="2.05"/><circle cx="276.4" cy="469.5" r="2.05"/><circle cx="251.2" cy="445.7" r="2.05"/><circle cx="261.1" cy="420.2" r="2.05"/><circle cx="250.2" cy="464.6" r="2.05"/><circle cx="245.3" cy="438.0" r="2.05"/><circle cx="297.3" cy="450.1" r="2.05"/><circle cx="274.4" cy="464.2" r="2.05"/><circle cx="286.4" cy="439.3" r="2.05"/><circle cx="287.4" cy="422.9" r="2.05"/><circle cx="296.7" cy="471.5" r="2.05"/><circle cx="258.4" cy="430.8" r="2.05"/><circle cx="288.0" cy="427.3" r="2.05"/><circle cx="282.3" cy="428.1" r="2.05"/><circle cx="276.8" cy="454.1" r="2.05"/><circle cx="245.5" cy="431.5" r="2.05"/><circle cx="263.1" cy="429.1" r="2.05"/><circle cx="252.6" cy="435.0" r="2.05"/><circle cx="245.5" cy="471.7" r="2.05"/><circle cx="253.4" cy="427.4" r="2.05"/><circle cx="304.9" cy="470.1" r="2.05"/><circle cx="262.4" cy="456.1" r="2.05"/><circle cx="275.4" cy="427.8" r="2.05"/><circle cx="290.2" cy="421.5" r="2.05"/><circle cx="280.6" cy="436.0" r="2.05"/><circle cx="276.9" cy="461.4" r="2.05"/><circle cx="284.1" cy="471.6" r="2.05"/><circle cx="266.5" cy="440.2" r="2.05"/><circle cx="293.0" cy="440.8" r="2.05"/><circle cx="244.4" cy="424.6" r="2.05"/><circle cx="276.2" cy="457.5" r="2.05"/><circle cx="289.1" cy="432.6" r="2.05"/><circle cx="246.8" cy="465.5" r="2.05"/><circle cx="289.9" cy="418.7" r="2.05"/><circle cx="245.0" cy="453.9" r="2.05"/><circle cx="247.6" cy="441.2" r="2.05"/><circle cx="295.4" cy="435.5" r="2.05"/><circle cx="284.5" cy="465.0" r="2.05"/><circle cx="269.7" cy="470.9" r="2.05"/><circle cx="264.1" cy="464.7" r="2.05"/><circle cx="264.6" cy="432.3" r="2.05"/><circle cx="252.8" cy="433.7" r="2.05"/><circle cx="310.8" cy="423.2" r="2.05"/><circle cx="245.6" cy="466.3" r="2.05"/><circle cx="261.9" cy="421.0" r="2.05"/><circle cx="264.5" cy="461.3" r="2.05"/><circle cx="300.7" cy="466.1" r="2.05"/><circle cx="290.9" cy="428.2" r="2.05"/><circle cx="291.9" cy="453.4" r="2.05"/><circle cx="281.4" cy="461.8" r="2.05"/><circle cx="285.6" cy="432.2" r="2.05"/><circle cx="271.9" cy="419.6" r="2.05"/><circle cx="308.8" cy="437.6" r="2.05"/><circle cx="297.6" cy="451.5" r="2.05"/><circle cx="288.9" cy="429.3" r="2.05"/><circle cx="286.3" cy="451.1" r="2.05"/><circle cx="254.0" cy="445.7" r="2.05"/><circle cx="260.3" cy="431.1" r="2.05"/><circle cx="270.9" cy="423.4" r="2.05"/><circle cx="260.4" cy="443.9" r="2.05"/><circle cx="324.1" cy="467.1" r="2.05"/><circle cx="286.8" cy="447.1" r="2.05"/><circle cx="280.0" cy="470.5" r="2.05"/><circle cx="282.8" cy="435.6" r="2.05"/><circle cx="281.0" cy="443.2" r="2.05"/><circle cx="287.3" cy="443.7" r="2.05"/><circle cx="280.6" cy="436.1" r="2.05"/><circle cx="288.2" cy="457.7" r="2.05"/><circle cx="286.9" cy="423.0" r="2.05"/><circle cx="280.4" cy="428.1" r="2.05"/><circle cx="303.5" cy="430.4" r="2.05"/><circle cx="244.4" cy="468.7" r="2.05"/><circle cx="277.2" cy="436.6" r="2.05"/><circle cx="286.7" cy="461.6" r="2.05"/><circle cx="280.8" cy="471.0" r="2.05"/><circle cx="281.1" cy="432.0" r="2.05"/><circle cx="288.8" cy="450.4" r="2.05"/><circle cx="263.0" cy="428.9" r="2.05"/><circle cx="288.3" cy="422.7" r="2.05"/><circle cx="279.1" cy="462.3" r="2.05"/><circle cx="248.4" cy="424.0" r="2.05"/><circle cx="314.5" cy="470.9" r="2.05"/><circle cx="248.6" cy="421.2" r="2.05"/><circle cx="251.0" cy="433.9" r="2.05"/><circle cx="253.1" cy="470.3" r="2.05"/><circle cx="253.4" cy="449.5" r="2.05"/><circle cx="253.7" cy="455.4" r="2.05"/><circle cx="254.0" cy="462.5" r="2.05"/><circle cx="265.1" cy="462.9" r="2.05"/><circle cx="281.5" cy="462.7" r="2.05"/><circle cx="301.8" cy="431.3" r="2.05"/><circle cx="294.0" cy="447.6" r="2.05"/><circle cx="301.2" cy="424.4" r="2.05"/><circle cx="270.3" cy="418.1" r="2.05"/><circle cx="269.5" cy="443.2" r="2.05"/><circle cx="283.8" cy="461.4" r="2.05"/><circle cx="289.1" cy="435.1" r="2.05"/><circle cx="279.0" cy="434.6" r="2.05"/><circle cx="274.8" cy="441.0" r="2.05"/><circle cx="277.0" cy="465.9" r="2.05"/><circle cx="293.7" cy="465.3" r="2.05"/><circle cx="264.9" cy="446.9" r="2.05"/><circle cx="255.6" cy="466.2" r="2.05"/><circle cx="310.8" cy="438.9" r="2.05"/><circle cx="281.9" cy="439.5" r="2.05"/><circle cx="283.1" cy="449.4" r="2.05"/><circle cx="280.6" cy="449.0" r="2.05"/><circle cx="270.7" cy="425.9" r="2.05"/><circle cx="295.3" cy="465.5" r="2.05"/><circle cx="272.1" cy="434.4" r="2.05"/><circle cx="256.1" cy="473.3" r="2.05"/><circle cx="299.3" cy="455.1" r="2.05"/><circle cx="248.9" cy="457.4" r="2.05"/><circle cx="321.8" cy="435.0" r="2.05"/><circle cx="287.5" cy="419.8" r="2.05"/><circle cx="244.9" cy="446.3" r="2.05"/><circle cx="289.3" cy="454.0" r="2.05"/><circle cx="262.0" cy="429.2" r="2.05"/><circle cx="263.4" cy="460.5" r="2.05"/><circle cx="264.5" cy="450.8" r="2.05"/><circle cx="279.9" cy="472.3" r="2.05"/><circle cx="273.5" cy="451.8" r="2.05"/><circle cx="281.2" cy="469.5" r="2.05"/><circle cx="245.1" cy="446.1" r="2.05"/><circle cx="277.1" cy="461.9" r="2.05"/><circle cx="249.1" cy="465.9" r="2.05"/><circle cx="255.9" cy="443.0" r="2.05"/><circle cx="269.3" cy="422.7" r="2.05"/><circle cx="280.8" cy="444.4" r="2.05"/><circle cx="273.9" cy="453.7" r="2.05"/><circle cx="265.5" cy="432.8" r="2.05"/><circle cx="298.6" cy="439.0" r="2.05"/><circle cx="276.0" cy="426.2" r="2.05"/><circle cx="261.8" cy="430.5" r="2.05"/><circle cx="257.6" cy="469.8" r="2.05"/><circle cx="263.3" cy="469.6" r="2.05"/><circle cx="277.1" cy="451.9" r="2.05"/><circle cx="243.8" cy="466.8" r="2.05"/><circle cx="273.3" cy="461.9" r="2.05"/><circle cx="289.1" cy="418.1" r="2.05"/><circle cx="246.1" cy="443.7" r="2.05"/><circle cx="273.9" cy="443.7" r="2.05"/><circle cx="280.9" cy="429.7" r="2.05"/><circle cx="287.0" cy="454.1" r="2.05"/><circle cx="288.9" cy="457.1" r="2.05"/><circle cx="291.6" cy="457.2" r="2.05"/><circle cx="249.4" cy="434.4" r="2.05"/><circle cx="272.7" cy="456.2" r="2.05"/><circle cx="318.0" cy="427.8" r="2.05"/><circle cx="244.9" cy="448.0" r="2.05"/><circle cx="284.2" cy="443.4" r="2.05"/><circle cx="280.2" cy="418.8" r="2.05"/><circle cx="290.9" cy="462.4" r="2.05"/><circle cx="247.2" cy="429.1" r="2.05"/><circle cx="312.2" cy="452.0" r="2.05"/><circle cx="302.3" cy="453.4" r="2.05"/><circle cx="262.6" cy="431.3" r="2.05"/><circle cx="275.6" cy="470.2" r="2.05"/><circle cx="283.3" cy="423.1" r="2.05"/><circle cx="253.5" cy="439.2" r="2.05"/><circle cx="254.2" cy="432.6" r="2.05"/><circle cx="264.8" cy="432.6" r="2.05"/><circle cx="300.0" cy="452.9" r="2.05"/><circle cx="252.6" cy="468.3" r="2.05"/><circle cx="271.0" cy="441.7" r="2.05"/><circle cx="275.0" cy="466.3" r="2.05"/><circle cx="288.4" cy="469.5" r="2.05"/><circle cx="309.2" cy="424.4" r="2.05"/><circle cx="281.6" cy="426.1" r="2.05"/><circle cx="287.8" cy="448.8" r="2.05"/><circle cx="286.5" cy="432.4" r="2.05"/><circle cx="247.5" cy="446.7" r="2.05"/><circle cx="273.0" cy="458.6" r="2.05"/><circle cx="250.6" cy="425.9" r="2.05"/><circle cx="268.1" cy="451.5" r="2.05"/><circle cx="257.7" cy="432.7" r="2.05"/><circle cx="283.1" cy="425.2" r="2.05"/><circle cx="295.1" cy="428.8" r="2.05"/><circle cx="275.3" cy="422.1" r="2.05"/><circle cx="275.5" cy="433.2" r="2.05"/><circle cx="324.4" cy="432.5" r="2.05"/><circle cx="267.2" cy="438.9" r="2.05"/><circle cx="269.3" cy="469.9" r="2.05"/><circle cx="288.0" cy="431.9" r="2.05"/><circle cx="244.3" cy="460.8" r="2.05"/><circle cx="251.8" cy="430.1" r="2.05"/><circle cx="281.4" cy="456.5" r="2.05"/><circle cx="268.7" cy="425.6" r="2.05"/><circle cx="275.9" cy="441.3" r="2.05"/><circle cx="244.4" cy="424.0" r="2.05"/><circle cx="255.3" cy="470.7" r="2.05"/><circle cx="243.9" cy="465.3" r="2.05"/><circle cx="245.2" cy="466.5" r="2.05"/><circle cx="245.2" cy="468.7" r="2.05"/><circle cx="260.1" cy="466.2" r="2.05"/><circle cx="286.3" cy="467.3" r="2.05"/><circle cx="273.6" cy="465.8" r="2.05"/><circle cx="291.6" cy="470.1" r="2.05"/><circle cx="245.7" cy="470.8" r="2.05"/><circle cx="288.6" cy="471.6" r="2.05"/><circle cx="279.3" cy="470.0" r="2.05"/><circle cx="271.6" cy="470.3" r="2.05"/><circle cx="257.8" cy="465.7" r="2.05"/><circle cx="259.6" cy="472.5" r="2.05"/><circle cx="269.8" cy="465.7" r="2.05"/><circle cx="268.5" cy="466.3" r="2.05"/><circle cx="246.6" cy="467.3" r="2.05"/><circle cx="280.0" cy="469.9" r="2.05"/><circle cx="244.4" cy="471.2" r="2.05"/><circle cx="289.7" cy="469.1" r="2.05"/><circle cx="247.5" cy="469.2" r="2.05"/><circle cx="271.3" cy="469.4" r="2.05"/><circle cx="250.0" cy="473.1" r="2.05"/><circle cx="290.4" cy="467.7" r="2.05"/><circle cx="287.3" cy="473.8" r="2.05"/><circle cx="282.7" cy="471.7" r="2.05"/><circle cx="249.7" cy="468.2" r="2.05"/><circle cx="277.0" cy="467.3" r="2.05"/><circle cx="246.0" cy="472.3" r="2.05"/><circle cx="268.5" cy="469.0" r="2.05"/><circle cx="256.1" cy="472.9" r="2.05"/><circle cx="275.3" cy="470.2" r="2.05"/><circle cx="245.1" cy="467.1" r="2.05"/><circle cx="266.4" cy="469.6" r="2.05"/><circle cx="261.3" cy="466.4" r="2.05"/><circle cx="283.8" cy="473.7" r="2.05"/><circle cx="266.7" cy="473.9" r="2.05"/><circle cx="250.4" cy="467.2" r="2.05"/><circle cx="278.8" cy="473.7" r="2.05"/><circle cx="267.6" cy="471.3" r="2.05"/><circle cx="282.7" cy="468.2" r="2.05"/><circle cx="281.1" cy="473.3" r="2.05"/><circle cx="287.0" cy="472.7" r="2.05"/><circle cx="288.4" cy="466.4" r="2.05"/><circle cx="249.3" cy="473.0" r="2.05"/><circle cx="246.3" cy="474.0" r="2.05"/><circle cx="282.9" cy="467.8" r="2.05"/><circle cx="275.0" cy="465.4" r="2.05"/><circle cx="279.6" cy="467.9" r="2.05"/><circle cx="263.7" cy="469.2" r="2.05"/><circle cx="244.9" cy="469.8" r="2.05"/><circle cx="279.4" cy="473.7" r="2.05"/><circle cx="289.3" cy="466.2" r="2.05"/><circle cx="264.8" cy="467.4" r="2.05"/><circle cx="252.1" cy="471.3" r="2.05"/><circle cx="264.6" cy="465.7" r="2.05"/><circle cx="286.2" cy="471.6" r="2.05"/><circle cx="246.3" cy="472.1" r="2.05"/><circle cx="267.1" cy="472.5" r="2.05"/><circle cx="263.0" cy="468.8" r="2.05"/><circle cx="247.7" cy="472.2" r="2.05"/><circle cx="259.6" cy="472.0" r="2.05"/><circle cx="259.6" cy="470.8" r="2.05"/><circle cx="249.1" cy="471.9" r="2.05"/><circle cx="290.8" cy="469.2" r="2.05"/><circle cx="245.5" cy="466.1" r="2.05"/><circle cx="247.8" cy="473.0" r="2.05"/><circle cx="256.9" cy="469.6" r="2.05"/><circle cx="247.8" cy="473.0" r="2.05"/><circle cx="245.0" cy="468.9" r="2.05"/><circle cx="287.8" cy="473.0" r="2.05"/><circle cx="247.9" cy="471.5" r="2.05"/><circle cx="248.7" cy="467.2" r="2.05"/><circle cx="244.7" cy="473.3" r="2.05"/><circle cx="247.4" cy="473.4" r="2.05"/><circle cx="268.6" cy="468.7" r="2.05"/><circle cx="290.8" cy="466.7" r="2.05"/><circle cx="244.1" cy="467.1" r="2.05"/><circle cx="276.6" cy="470.5" r="2.05"/><circle cx="255.5" cy="470.2" r="2.05"/><circle cx="285.7" cy="473.1" r="2.05"/><circle cx="272.9" cy="472.9" r="2.05"/><circle cx="280.0" cy="468.9" r="2.05"/><circle cx="250.3" cy="467.7" r="2.05"/><circle cx="245.6" cy="472.6" r="2.05"/><circle cx="273.4" cy="473.8" r="2.05"/><circle cx="252.6" cy="470.4" r="2.05"/><circle cx="275.4" cy="468.1" r="2.05"/><circle cx="274.0" cy="474.0" r="2.05"/><circle cx="290.5" cy="470.8" r="2.05"/><circle cx="288.6" cy="471.7" r="2.05"/><circle cx="253.2" cy="467.9" r="2.05"/><circle cx="246.0" cy="468.0" r="2.05"/><circle cx="260.0" cy="471.9" r="2.05"/><circle cx="268.3" cy="466.9" r="2.05"/><circle cx="249.2" cy="473.7" r="2.05"/><circle cx="281.9" cy="469.1" r="2.05"/><circle cx="268.9" cy="472.9" r="2.05"/><circle cx="245.2" cy="465.9" r="2.05"/><circle cx="257.6" cy="467.2" r="2.05"/><circle cx="266.2" cy="469.5" r="2.05"/><circle cx="268.9" cy="472.0" r="2.05"/><circle cx="269.3" cy="468.8" r="2.05"/><circle cx="260.8" cy="471.6" r="2.05"/><circle cx="255.0" cy="472.2" r="2.05"/><circle cx="286.7" cy="465.2" r="2.05"/><circle cx="259.3" cy="470.6" r="2.05"/><circle cx="282.5" cy="472.8" r="2.05"/><circle cx="291.6" cy="471.2" r="2.05"/><circle cx="260.1" cy="470.9" r="2.05"/><circle cx="281.9" cy="466.3" r="2.05"/><circle cx="251.8" cy="527.1" r="2.05"/><circle cx="276.2" cy="492.2" r="2.05"/><circle cx="257.0" cy="492.2" r="2.05"/><circle cx="249.9" cy="488.8" r="2.05"/><circle cx="252.8" cy="484.0" r="2.05"/><circle cx="244.7" cy="480.9" r="2.05"/><circle cx="272.5" cy="479.0" r="2.05"/><circle cx="322.7" cy="469.3" r="2.05"/><circle cx="347.4" cy="440.9" r="2.05"/><circle cx="331.1" cy="445.9" r="2.05"/><circle cx="332.2" cy="426.0" r="2.05"/><circle cx="329.8" cy="428.8" r="2.05"/><circle cx="322.2" cy="427.3" r="2.05"/><circle cx="345.3" cy="404.4" r="2.05"/><circle cx="356.9" cy="404.4" r="2.05"/><circle cx="357.6" cy="402.8" r="2.05"/><circle cx="377.9" cy="396.0" r="2.05"/><circle cx="381.3" cy="394.4" r="2.05"/><circle cx="377.9" cy="389.4" r="2.05"/><circle cx="366.6" cy="389.4" r="2.05"/><circle cx="395.0" cy="381.3" r="2.05"/><circle cx="410.2" cy="382.9" r="2.05"/><circle cx="388.4" cy="379.5" r="2.05"/><circle cx="379.2" cy="376.3" r="2.05"/><circle cx="368.7" cy="382.9" r="2.05"/><circle cx="364.7" cy="384.4" r="2.05"/><circle cx="451.0" cy="369.4" r="2.05"/><circle cx="417.1" cy="374.2" r="2.05"/><circle cx="433.0" cy="376.4" r="2.05"/><circle cx="403.5" cy="369.2" r="2.05"/><circle cx="399.6" cy="371.4" r="2.05"/><circle cx="392.5" cy="372.5" r="2.05"/></g><path d="M241.7 369.1 L241.7 298.0 L246.3 297.8 L250.3 296.8 L260.2 295.3 L269.5 294.3 L290.0 294.3 L308.7 295.3 L324.9 295.4 L335.6 297.3 L342.7 299.3 L350.4 300.0 L357.7 301.0 L364.8 302.2 L371.5 304.4 L379.4 306.6 L386.6 308.0 L393.8 309.4 L399.8 313.9 L403.3 318.6 L405.0 321.2 L406.2 324.1 L407.3 328.4 L406.7 330.6 L405.5 333.4 L401.9 339.3 L399.2 346.5 L395.1 352.9 L389.0 358.0 L380.9 362.1 L375.7 369.1Z" fill="#CD534C" stroke="#CD534C" stroke-width="2.5" stroke-linejoin="round"/><g fill="#CD534C" stroke="#CD534C"><g class="n"><circle cx="393.6" cy="310.7" r="2.05"/><circle cx="326.4" cy="298.5" r="2.05"/><circle cx="365.3" cy="304.2" r="2.05"/><circle cx="371.1" cy="301.4" r="2.05"/><circle cx="262.0" cy="297.2" r="2.05"/><circle cx="386.6" cy="308.5" r="2.05"/><circle cx="308.1" cy="296.3" r="2.05"/><circle cx="295.9" cy="296.5" r="2.05"/><circle cx="376.7" cy="306.6" r="2.05"/><circle cx="257.5" cy="296.5" r="2.05"/><circle cx="264.3" cy="297.1" r="2.05"/><circle cx="378.4" cy="309.4" r="2.05"/><circle cx="276.3" cy="297.3" r="2.05"/><circle cx="262.8" cy="296.9" r="2.05"/><circle cx="285.1" cy="294.6" r="2.05"/><circle cx="381.1" cy="308.5" r="2.05"/><circle cx="269.3" cy="296.9" r="2.05"/><circle cx="352.0" cy="302.4" r="2.05"/><circle cx="247.5" cy="299.5" r="2.05"/><circle cx="295.0" cy="298.0" r="2.05"/><circle cx="293.2" cy="297.2" r="2.05"/><circle cx="330.8" cy="297.1" r="2.05"/><circle cx="277.5" cy="298.0" r="2.05"/><circle cx="254.1" cy="298.6" r="2.05"/><circle cx="304.0" cy="295.0" r="2.05"/><circle cx="259.0" cy="296.8" r="2.05"/><circle cx="288.8" cy="296.7" r="2.05"/><circle cx="249.9" cy="300.0" r="2.05"/><circle cx="275.4" cy="295.7" r="2.05"/><circle cx="366.7" cy="302.1" r="2.05"/><circle cx="384.6" cy="308.2" r="2.05"/><circle cx="352.1" cy="302.4" r="2.05"/><circle cx="357.0" cy="301.1" r="2.05"/><circle cx="243.5" cy="299.8" r="2.05"/><circle cx="396.6" cy="312.4" r="2.05"/><circle cx="350.0" cy="298.9" r="2.05"/><circle cx="341.4" cy="299.8" r="2.05"/><circle cx="344.1" cy="301.2" r="2.05"/><circle cx="254.1" cy="297.9" r="2.05"/><circle cx="299.9" cy="299.6" r="2.05"/><circle cx="364.3" cy="303.4" r="2.05"/><circle cx="299.9" cy="295.0" r="2.05"/><circle cx="345.0" cy="299.9" r="2.05"/><circle cx="300.0" cy="295.4" r="2.05"/><circle cx="395.8" cy="312.4" r="2.05"/><circle cx="361.8" cy="302.2" r="2.05"/><circle cx="329.9" cy="296.5" r="2.05"/><circle cx="273.9" cy="294.9" r="2.05"/><circle cx="391.5" cy="309.1" r="2.05"/><circle cx="260.8" cy="297.8" r="2.05"/><circle cx="378.9" cy="308.2" r="2.05"/><circle cx="326.5" cy="296.6" r="2.05"/><circle cx="268.9" cy="296.4" r="2.05"/><circle cx="378.3" cy="306.7" r="2.05"/><circle cx="378.4" cy="308.6" r="2.05"/><circle cx="291.9" cy="295.8" r="2.05"/><circle cx="254.8" cy="298.9" r="2.05"/><circle cx="260.1" cy="296.8" r="2.05"/><circle cx="319.4" cy="298.1" r="2.05"/><circle cx="299.0" cy="295.7" r="2.05"/><circle cx="254.2" cy="298.4" r="2.05"/><circle cx="358.8" cy="303.2" r="2.05"/><circle cx="361.6" cy="298.5" r="2.05"/><circle cx="383.4" cy="309.7" r="2.05"/><circle cx="330.8" cy="298.5" r="2.05"/><circle cx="269.3" cy="290.9" r="2.05"/><circle cx="350.2" cy="300.9" r="2.05"/><circle cx="383.3" cy="310.3" r="2.05"/><circle cx="339.0" cy="301.1" r="2.05"/><circle cx="316.8" cy="298.4" r="2.05"/><circle cx="379.1" cy="308.6" r="2.05"/><circle cx="302.6" cy="296.7" r="2.05"/><circle cx="374.9" cy="307.5" r="2.05"/><circle cx="299.6" cy="294.8" r="2.05"/><circle cx="333.3" cy="298.7" r="2.05"/><circle cx="287.2" cy="292.3" r="2.05"/><circle cx="386.0" cy="310.1" r="2.05"/><circle cx="243.9" cy="300.2" r="2.05"/><circle cx="253.0" cy="297.2" r="2.05"/><circle cx="349.5" cy="302.2" r="2.05"/><circle cx="243.3" cy="298.9" r="2.05"/><circle cx="252.8" cy="298.8" r="2.05"/><circle cx="373.6" cy="305.1" r="2.05"/><circle cx="265.1" cy="298.8" r="2.05"/><circle cx="335.3" cy="297.5" r="2.05"/><circle cx="368.4" cy="303.0" r="2.05"/><circle cx="344.3" cy="300.2" r="2.05"/><circle cx="259.4" cy="297.4" r="2.05"/><circle cx="335.0" cy="299.1" r="2.05"/><circle cx="317.4" cy="297.6" r="2.05"/><circle cx="251.6" cy="293.4" r="2.05"/><circle cx="258.0" cy="298.9" r="2.05"/><circle cx="337.0" cy="299.6" r="2.05"/><circle cx="310.5" cy="296.0" r="2.05"/><circle cx="377.9" cy="308.4" r="2.05"/><circle cx="313.3" cy="295.8" r="2.05"/><circle cx="335.9" cy="299.1" r="2.05"/><circle cx="346.1" cy="300.8" r="2.05"/><circle cx="254.1" cy="298.9" r="2.05"/><circle cx="315.5" cy="296.2" r="2.05"/><circle cx="297.9" cy="296.4" r="2.05"/><circle cx="359.5" cy="302.9" r="2.05"/><circle cx="268.7" cy="296.1" r="2.05"/><circle cx="250.2" cy="297.7" r="2.05"/><circle cx="372.5" cy="304.9" r="2.05"/><circle cx="274.0" cy="297.2" r="2.05"/><circle cx="338.0" cy="300.7" r="2.05"/><circle cx="290.3" cy="295.7" r="2.05"/><circle cx="259.1" cy="298.5" r="2.05"/><circle cx="358.6" cy="301.5" r="2.05"/><circle cx="330.0" cy="297.7" r="2.05"/><circle cx="384.1" cy="309.4" r="2.05"/><circle cx="365.4" cy="304.6" r="2.05"/><circle cx="346.6" cy="300.0" r="2.05"/><circle cx="381.6" cy="309.6" r="2.05"/><circle cx="323.6" cy="297.2" r="2.05"/><circle cx="308.9" cy="296.2" r="2.05"/><circle cx="268.6" cy="294.9" r="2.05"/><circle cx="310.4" cy="296.4" r="2.05"/><circle cx="390.1" cy="310.1" r="2.05"/><circle cx="342.7" cy="301.2" r="2.05"/><circle cx="362.4" cy="305.0" r="2.05"/><circle cx="384.1" cy="304.8" r="2.05"/><circle cx="294.6" cy="296.2" r="2.05"/><circle cx="352.2" cy="301.2" r="2.05"/><circle cx="370.4" cy="303.5" r="2.05"/><circle cx="269.2" cy="294.8" r="2.05"/><circle cx="242.9" cy="300.4" r="2.05"/><circle cx="329.9" cy="298.2" r="2.05"/><circle cx="326.9" cy="296.9" r="2.05"/><circle cx="365.0" cy="299.1" r="2.05"/><circle cx="257.7" cy="298.3" r="2.05"/><circle cx="399.3" cy="312.3" r="2.05"/><circle cx="347.1" cy="302.0" r="2.05"/><circle cx="269.7" cy="289.3" r="2.05"/><circle cx="296.4" cy="294.5" r="2.05"/><circle cx="324.6" cy="297.7" r="2.05"/><circle cx="347.3" cy="301.0" r="2.05"/><circle cx="289.2" cy="296.6" r="2.05"/><circle cx="277.4" cy="295.2" r="2.05"/><circle cx="398.1" cy="313.0" r="2.05"/><circle cx="325.1" cy="296.1" r="2.05"/><circle cx="293.7" cy="296.9" r="2.05"/><circle cx="317.5" cy="297.6" r="2.05"/><circle cx="244.7" cy="299.2" r="2.05"/><circle cx="309.6" cy="298.7" r="2.05"/><circle cx="298.4" cy="295.1" r="2.05"/><circle cx="357.7" cy="302.4" r="2.05"/><circle cx="313.2" cy="296.5" r="2.05"/><circle cx="303.7" cy="297.4" r="2.05"/><circle cx="343.6" cy="300.5" r="2.05"/><circle cx="369.5" cy="302.3" r="2.05"/><circle cx="357.0" cy="304.7" r="2.05"/><circle cx="335.6" cy="296.3" r="2.05"/><circle cx="296.0" cy="296.7" r="2.05"/><circle cx="362.5" cy="301.8" r="2.05"/><circle cx="309.3" cy="297.3" r="2.05"/><circle cx="380.2" cy="308.8" r="2.05"/><circle cx="393.4" cy="307.8" r="2.05"/><circle cx="326.6" cy="298.0" r="2.05"/><circle cx="259.5" cy="297.6" r="2.05"/><circle cx="330.9" cy="298.4" r="2.05"/><circle cx="390.1" cy="310.1" r="2.05"/><circle cx="387.3" cy="307.7" r="2.05"/><circle cx="254.9" cy="298.2" r="2.05"/><circle cx="276.8" cy="297.2" r="2.05"/><circle cx="318.4" cy="297.3" r="2.05"/><circle cx="338.2" cy="298.2" r="2.05"/><circle cx="259.4" cy="296.8" r="2.05"/><circle cx="284.3" cy="295.5" r="2.05"/><circle cx="383.6" cy="309.7" r="2.05"/><circle cx="243.7" cy="299.9" r="2.05"/><circle cx="296.0" cy="296.1" r="2.05"/><circle cx="266.9" cy="295.9" r="2.05"/><circle cx="395.3" cy="312.8" r="2.05"/><circle cx="304.4" cy="296.8" r="2.05"/><circle cx="313.5" cy="296.7" r="2.05"/><circle cx="379.9" cy="308.5" r="2.05"/><circle cx="309.2" cy="290.5" r="2.05"/><circle cx="245.9" cy="296.8" r="2.05"/><circle cx="355.3" cy="301.7" r="2.05"/><circle cx="359.8" cy="300.7" r="2.05"/><circle cx="386.6" cy="307.9" r="2.05"/><circle cx="365.1" cy="304.8" r="2.05"/><circle cx="338.0" cy="297.5" r="2.05"/><circle cx="390.1" cy="310.2" r="2.05"/><circle cx="391.8" cy="308.6" r="2.05"/><circle cx="268.7" cy="296.8" r="2.05"/><circle cx="294.8" cy="295.6" r="2.05"/><circle cx="305.8" cy="297.0" r="2.05"/><circle cx="254.6" cy="297.3" r="2.05"/><circle cx="391.9" cy="310.9" r="2.05"/><circle cx="331.3" cy="297.4" r="2.05"/><circle cx="335.9" cy="300.2" r="2.05"/><circle cx="378.2" cy="309.7" r="2.05"/><circle cx="292.0" cy="294.3" r="2.05"/><circle cx="349.9" cy="301.9" r="2.05"/><circle cx="321.6" cy="297.7" r="2.05"/><circle cx="357.0" cy="301.2" r="2.05"/><circle cx="261.3" cy="295.8" r="2.05"/><circle cx="341.0" cy="300.6" r="2.05"/><circle cx="318.5" cy="297.1" r="2.05"/><circle cx="284.8" cy="296.1" r="2.05"/><circle cx="389.1" cy="308.6" r="2.05"/><circle cx="247.3" cy="298.6" r="2.05"/><circle cx="281.8" cy="294.0" r="2.05"/><circle cx="338.0" cy="298.8" r="2.05"/><circle cx="310.8" cy="297.7" r="2.05"/><circle cx="299.6" cy="296.9" r="2.05"/><circle cx="327.3" cy="297.2" r="2.05"/><circle cx="381.8" cy="306.7" r="2.05"/><circle cx="274.9" cy="296.0" r="2.05"/><circle cx="256.9" cy="299.5" r="2.05"/><circle cx="322.3" cy="294.9" r="2.05"/><circle cx="282.3" cy="295.0" r="2.05"/><circle cx="250.5" cy="297.9" r="2.05"/><circle cx="341.7" cy="302.0" r="2.05"/><circle cx="332.3" cy="299.6" r="2.05"/><circle cx="277.6" cy="297.1" r="2.05"/><circle cx="325.7" cy="293.9" r="2.05"/><circle cx="306.4" cy="297.7" r="2.05"/><circle cx="265.6" cy="294.3" r="2.05"/><circle cx="332.5" cy="299.2" r="2.05"/><circle cx="266.3" cy="296.7" r="2.05"/><circle cx="278.7" cy="293.0" r="2.05"/><circle cx="246.8" cy="299.9" r="2.05"/><circle cx="358.8" cy="303.6" r="2.05"/><circle cx="365.9" cy="303.7" r="2.05"/><circle cx="323.1" cy="296.8" r="2.05"/><circle cx="391.6" cy="310.0" r="2.05"/><circle cx="280.0" cy="296.6" r="2.05"/><circle cx="339.3" cy="298.3" r="2.05"/><circle cx="293.3" cy="296.5" r="2.05"/><circle cx="266.2" cy="296.4" r="2.05"/><circle cx="367.7" cy="303.9" r="2.05"/><circle cx="361.1" cy="304.3" r="2.05"/><circle cx="261.1" cy="298.3" r="2.05"/><circle cx="398.3" cy="311.9" r="2.05"/><circle cx="275.3" cy="295.6" r="2.05"/><circle cx="292.9" cy="296.2" r="2.05"/><circle cx="361.0" cy="303.7" r="2.05"/><circle cx="360.5" cy="303.0" r="2.05"/><circle cx="376.3" cy="308.8" r="2.05"/><circle cx="285.1" cy="296.9" r="2.05"/><circle cx="397.3" cy="309.2" r="2.05"/><circle cx="370.1" cy="301.0" r="2.05"/><circle cx="258.2" cy="296.1" r="2.05"/><circle cx="243.4" cy="300.6" r="2.05"/><circle cx="303.1" cy="296.1" r="2.05"/><circle cx="364.1" cy="304.4" r="2.05"/><circle cx="364.5" cy="304.4" r="2.05"/><circle cx="294.7" cy="296.1" r="2.05"/><circle cx="400.2" cy="314.3" r="2.05"/><circle cx="302.8" cy="293.5" r="2.05"/><circle cx="275.1" cy="297.7" r="2.05"/><circle cx="300.8" cy="295.2" r="2.05"/><circle cx="396.0" cy="311.3" r="2.05"/><circle cx="366.5" cy="303.1" r="2.05"/><circle cx="283.8" cy="296.3" r="2.05"/><circle cx="290.5" cy="296.2" r="2.05"/><circle cx="282.5" cy="294.6" r="2.05"/><circle cx="363.4" cy="304.7" r="2.05"/><circle cx="345.7" cy="301.2" r="2.05"/><circle cx="273.7" cy="296.6" r="2.05"/><circle cx="386.8" cy="309.7" r="2.05"/><circle cx="262.4" cy="295.7" r="2.05"/><circle cx="305.2" cy="296.7" r="2.05"/><circle cx="294.4" cy="295.3" r="2.05"/><circle cx="253.7" cy="298.8" r="2.05"/><circle cx="346.3" cy="301.2" r="2.05"/><circle cx="337.2" cy="298.5" r="2.05"/><circle cx="278.4" cy="295.8" r="2.05"/><circle cx="325.2" cy="297.3" r="2.05"/><circle cx="357.2" cy="301.7" r="2.05"/><circle cx="338.4" cy="299.2" r="2.05"/><circle cx="371.0" cy="306.9" r="2.05"/><circle cx="262.8" cy="296.6" r="2.05"/><circle cx="242.1" cy="300.8" r="2.05"/><circle cx="311.1" cy="298.3" r="2.05"/><circle cx="274.7" cy="296.9" r="2.05"/><circle cx="386.0" cy="309.1" r="2.05"/><circle cx="395.9" cy="314.4" r="2.05"/><circle cx="332.9" cy="298.0" r="2.05"/><circle cx="315.4" cy="298.7" r="2.05"/><circle cx="352.4" cy="302.3" r="2.05"/><circle cx="358.4" cy="301.9" r="2.05"/><circle cx="366.8" cy="304.6" r="2.05"/><circle cx="286.2" cy="296.4" r="2.05"/><circle cx="383.3" cy="309.0" r="2.05"/><circle cx="325.6" cy="295.4" r="2.05"/><circle cx="343.1" cy="300.6" r="2.05"/><circle cx="338.1" cy="298.5" r="2.05"/><circle cx="276.0" cy="293.9" r="2.05"/><circle cx="282.1" cy="297.0" r="2.05"/><circle cx="245.8" cy="298.8" r="2.05"/><circle cx="281.6" cy="296.9" r="2.05"/><circle cx="374.5" cy="307.0" r="2.05"/><circle cx="380.1" cy="307.7" r="2.05"/><circle cx="394.0" cy="310.2" r="2.05"/><circle cx="385.9" cy="309.1" r="2.05"/><circle cx="337.5" cy="299.7" r="2.05"/><circle cx="265.2" cy="295.9" r="2.05"/><circle cx="292.2" cy="295.1" r="2.05"/><circle cx="359.3" cy="303.8" r="2.05"/><circle cx="349.4" cy="301.6" r="2.05"/><circle cx="266.2" cy="296.3" r="2.05"/><circle cx="248.6" cy="298.1" r="2.05"/><circle cx="251.7" cy="298.4" r="2.05"/><circle cx="330.7" cy="297.1" r="2.05"/><circle cx="377.2" cy="306.0" r="2.05"/><circle cx="284.0" cy="296.7" r="2.05"/><circle cx="362.4" cy="304.7" r="2.05"/><circle cx="265.1" cy="296.1" r="2.05"/><circle cx="254.1" cy="298.8" r="2.05"/><circle cx="260.7" cy="294.6" r="2.05"/><circle cx="354.2" cy="301.8" r="2.05"/><circle cx="389.6" cy="311.2" r="2.05"/><circle cx="382.0" cy="306.9" r="2.05"/><circle cx="389.4" cy="310.7" r="2.05"/><circle cx="361.2" cy="299.2" r="2.05"/><circle cx="383.3" cy="306.0" r="2.05"/><circle cx="244.2" cy="301.2" r="2.05"/><circle cx="356.3" cy="302.1" r="2.05"/><circle cx="298.8" cy="295.7" r="2.05"/><circle cx="280.9" cy="294.2" r="2.05"/><circle cx="299.6" cy="298.0" r="2.05"/><circle cx="374.8" cy="306.5" r="2.05"/><circle cx="360.0" cy="302.4" r="2.05"/><circle cx="350.8" cy="300.6" r="2.05"/><circle cx="310.3" cy="295.2" r="2.05"/><circle cx="315.8" cy="295.2" r="2.05"/><circle cx="343.1" cy="301.2" r="2.05"/><circle cx="315.6" cy="297.9" r="2.05"/><circle cx="275.0" cy="296.8" r="2.05"/><circle cx="287.9" cy="296.3" r="2.05"/><circle cx="385.4" cy="309.4" r="2.05"/><circle cx="244.1" cy="300.5" r="2.05"/><circle cx="371.4" cy="307.2" r="2.05"/><circle cx="343.9" cy="300.7" r="2.05"/><circle cx="349.1" cy="301.9" r="2.05"/><circle cx="397.3" cy="310.6" r="2.05"/><circle cx="278.3" cy="297.0" r="2.05"/><circle cx="264.8" cy="296.2" r="2.05"/><circle cx="251.4" cy="299.5" r="2.05"/><circle cx="255.2" cy="298.2" r="2.05"/><circle cx="371.0" cy="306.7" r="2.05"/><circle cx="280.5" cy="294.8" r="2.05"/><circle cx="317.7" cy="295.0" r="2.05"/><circle cx="340.8" cy="299.6" r="2.05"/><circle cx="243.7" cy="298.8" r="2.05"/><circle cx="325.0" cy="297.6" r="2.05"/><circle cx="344.8" cy="302.1" r="2.05"/><circle cx="316.8" cy="297.1" r="2.05"/><circle cx="332.2" cy="297.8" r="2.05"/><circle cx="380.6" cy="304.9" r="2.05"/><circle cx="283.5" cy="296.2" r="2.05"/><circle cx="244.4" cy="301.1" r="2.05"/><circle cx="303.6" cy="296.7" r="2.05"/><circle cx="242.1" cy="299.8" r="2.05"/><circle cx="269.4" cy="296.9" r="2.05"/><circle cx="359.6" cy="301.3" r="2.05"/><circle cx="335.0" cy="295.5" r="2.05"/><circle cx="244.0" cy="299.8" r="2.05"/><circle cx="375.5" cy="307.9" r="2.05"/><circle cx="391.1" cy="310.5" r="2.05"/><circle cx="284.3" cy="296.5" r="2.05"/><circle cx="285.8" cy="296.6" r="2.05"/><circle cx="350.5" cy="302.7" r="2.05"/><circle cx="243.9" cy="299.4" r="2.05"/><circle cx="337.4" cy="299.5" r="2.05"/><circle cx="334.2" cy="299.8" r="2.05"/><circle cx="276.9" cy="294.7" r="2.05"/><circle cx="310.6" cy="296.9" r="2.05"/><circle cx="299.7" cy="295.9" r="2.05"/><circle cx="293.6" cy="295.9" r="2.05"/><circle cx="366.1" cy="302.0" r="2.05"/><circle cx="254.3" cy="298.2" r="2.05"/><circle cx="352.4" cy="301.1" r="2.05"/><circle cx="365.5" cy="298.9" r="2.05"/><circle cx="374.3" cy="306.7" r="2.05"/><circle cx="281.5" cy="296.4" r="2.05"/><circle cx="376.2" cy="307.0" r="2.05"/><circle cx="280.3" cy="296.2" r="2.05"/><circle cx="243.2" cy="294.5" r="2.05"/><circle cx="264.4" cy="296.0" r="2.05"/><circle cx="375.6" cy="305.3" r="2.05"/><circle cx="366.0" cy="305.3" r="2.05"/><circle cx="394.9" cy="310.7" r="2.05"/><circle cx="250.0" cy="298.4" r="2.05"/><circle cx="258.6" cy="298.5" r="2.05"/><circle cx="317.0" cy="297.2" r="2.05"/><circle cx="394.7" cy="310.9" r="2.05"/><circle cx="257.9" cy="297.4" r="2.05"/><circle cx="389.5" cy="311.3" r="2.05"/><circle cx="376.3" cy="307.1" r="2.05"/><circle cx="382.4" cy="307.8" r="2.05"/><circle cx="294.5" cy="296.3" r="2.05"/><circle cx="371.1" cy="303.1" r="2.05"/><circle cx="383.1" cy="309.7" r="2.05"/><circle cx="264.8" cy="296.9" r="2.05"/><circle cx="277.8" cy="296.7" r="2.05"/><circle cx="242.5" cy="299.5" r="2.05"/><circle cx="391.1" cy="310.6" r="2.05"/><circle cx="370.9" cy="305.6" r="2.05"/><circle cx="260.0" cy="298.6" r="2.05"/><circle cx="251.3" cy="295.3" r="2.05"/><circle cx="273.5" cy="291.2" r="2.05"/><circle cx="377.1" cy="300.7" r="2.05"/><circle cx="349.7" cy="300.6" r="2.05"/><circle cx="280.5" cy="297.5" r="2.05"/><circle cx="400.1" cy="313.5" r="2.05"/><circle cx="337.7" cy="298.3" r="2.05"/><circle cx="270.6" cy="296.8" r="2.05"/><circle cx="344.1" cy="303.4" r="2.05"/><circle cx="280.1" cy="296.8" r="2.05"/><circle cx="288.5" cy="296.7" r="2.05"/><circle cx="292.1" cy="296.8" r="2.05"/><circle cx="387.6" cy="309.0" r="2.05"/><circle cx="310.8" cy="297.2" r="2.05"/><circle cx="341.9" cy="299.7" r="2.05"/><circle cx="344.0" cy="297.1" r="2.05"/><circle cx="318.3" cy="296.4" r="2.05"/><circle cx="364.9" cy="302.9" r="2.05"/><circle cx="392.9" cy="300.5" r="2.05"/><circle cx="366.1" cy="305.1" r="2.05"/><circle cx="279.4" cy="298.1" r="2.05"/><circle cx="292.7" cy="296.2" r="2.05"/><circle cx="363.8" cy="303.5" r="2.05"/><circle cx="400.3" cy="313.7" r="2.05"/><circle cx="282.2" cy="296.9" r="2.05"/><circle cx="356.6" cy="299.6" r="2.05"/><circle cx="379.7" cy="309.2" r="2.05"/><circle cx="265.9" cy="296.5" r="2.05"/><circle cx="370.2" cy="304.8" r="2.05"/><circle cx="294.9" cy="295.2" r="2.05"/><circle cx="312.8" cy="298.5" r="2.05"/><circle cx="300.1" cy="295.4" r="2.05"/><circle cx="333.1" cy="296.8" r="2.05"/><circle cx="375.4" cy="307.6" r="2.05"/><circle cx="345.0" cy="302.2" r="2.05"/><circle cx="259.9" cy="295.9" r="2.05"/><circle cx="349.6" cy="301.2" r="2.05"/><circle cx="385.5" cy="311.1" r="2.05"/><circle cx="267.9" cy="295.9" r="2.05"/><circle cx="374.6" cy="305.7" r="2.05"/><circle cx="283.2" cy="294.7" r="2.05"/><circle cx="342.1" cy="300.5" r="2.05"/><circle cx="307.6" cy="298.1" r="2.05"/><circle cx="375.3" cy="305.0" r="2.05"/><circle cx="344.8" cy="301.4" r="2.05"/><circle cx="380.0" cy="308.0" r="2.05"/><circle cx="277.4" cy="294.1" r="2.05"/><circle cx="293.1" cy="296.6" r="2.05"/><circle cx="301.7" cy="294.6" r="2.05"/><circle cx="352.1" cy="299.6" r="2.05"/><circle cx="266.1" cy="296.7" r="2.05"/><circle cx="299.5" cy="294.8" r="2.05"/><circle cx="283.6" cy="296.5" r="2.05"/><circle cx="288.5" cy="296.2" r="2.05"/><circle cx="330.3" cy="296.6" r="2.05"/><circle cx="381.0" cy="359.4" r="2.05"/><circle cx="401.2" cy="343.1" r="2.05"/><circle cx="382.1" cy="360.9" r="2.05"/><circle cx="405.4" cy="333.1" r="2.05"/><circle cx="391.6" cy="355.5" r="2.05"/><circle cx="404.5" cy="333.4" r="2.05"/><circle cx="401.4" cy="319.7" r="2.05"/><circle cx="403.8" cy="321.6" r="2.05"/><circle cx="399.8" cy="316.0" r="2.05"/><circle cx="401.6" cy="341.3" r="2.05"/><circle cx="389.6" cy="355.3" r="2.05"/><circle cx="394.8" cy="349.9" r="2.05"/><circle cx="405.2" cy="330.4" r="2.05"/><circle cx="400.9" cy="344.2" r="2.05"/><circle cx="400.5" cy="340.7" r="2.05"/><circle cx="386.3" cy="358.2" r="2.05"/><circle cx="387.5" cy="356.4" r="2.05"/><circle cx="408.5" cy="327.5" r="2.05"/><circle cx="403.7" cy="337.6" r="2.05"/><circle cx="382.8" cy="360.0" r="2.05"/><circle cx="381.6" cy="360.4" r="2.05"/><circle cx="382.8" cy="358.1" r="2.05"/><circle cx="380.3" cy="360.4" r="2.05"/><circle cx="391.1" cy="359.5" r="2.05"/><circle cx="402.1" cy="335.5" r="2.05"/><circle cx="400.5" cy="340.6" r="2.05"/><circle cx="389.3" cy="355.8" r="2.05"/><circle cx="403.5" cy="319.7" r="2.05"/><circle cx="382.5" cy="358.8" r="2.05"/><circle cx="403.2" cy="338.9" r="2.05"/><circle cx="406.8" cy="327.8" r="2.05"/><circle cx="397.9" cy="353.9" r="2.05"/><circle cx="391.0" cy="358.2" r="2.05"/><circle cx="413.3" cy="331.2" r="2.05"/><circle cx="400.7" cy="317.4" r="2.05"/><circle cx="381.8" cy="360.0" r="2.05"/><circle cx="399.9" cy="340.1" r="2.05"/><circle cx="401.2" cy="343.5" r="2.05"/><circle cx="400.4" cy="314.7" r="2.05"/><circle cx="407.0" cy="332.9" r="2.05"/><circle cx="409.7" cy="328.2" r="2.05"/><circle cx="405.7" cy="314.1" r="2.05"/><circle cx="398.1" cy="348.1" r="2.05"/><circle cx="379.7" cy="362.6" r="2.05"/><circle cx="406.0" cy="318.1" r="2.05"/><circle cx="390.9" cy="356.9" r="2.05"/><circle cx="404.6" cy="328.3" r="2.05"/><circle cx="393.9" cy="351.1" r="2.05"/><circle cx="377.3" cy="365.2" r="2.05"/><circle cx="399.0" cy="316.3" r="2.05"/><circle cx="402.6" cy="320.2" r="2.05"/><circle cx="399.4" cy="342.0" r="2.05"/><circle cx="390.4" cy="357.7" r="2.05"/><circle cx="407.5" cy="331.1" r="2.05"/><circle cx="399.2" cy="316.3" r="2.05"/><circle cx="376.9" cy="364.3" r="2.05"/><circle cx="376.4" cy="366.1" r="2.05"/><circle cx="388.5" cy="355.5" r="2.05"/><circle cx="401.2" cy="335.4" r="2.05"/><circle cx="408.5" cy="329.2" r="2.05"/><circle cx="401.4" cy="319.7" r="2.05"/><circle cx="405.9" cy="328.4" r="2.05"/><circle cx="400.0" cy="340.7" r="2.05"/><circle cx="413.2" cy="326.3" r="2.05"/><circle cx="385.7" cy="358.5" r="2.05"/><circle cx="397.5" cy="362.9" r="2.05"/><circle cx="410.7" cy="327.9" r="2.05"/><circle cx="404.1" cy="317.5" r="2.05"/><circle cx="402.5" cy="333.8" r="2.05"/><circle cx="399.3" cy="350.0" r="2.05"/><circle cx="385.4" cy="357.3" r="2.05"/><circle cx="408.6" cy="324.5" r="2.05"/><circle cx="405.5" cy="327.3" r="2.05"/><circle cx="399.3" cy="350.2" r="2.05"/><circle cx="387.5" cy="355.5" r="2.05"/><circle cx="396.7" cy="345.8" r="2.05"/><circle cx="398.2" cy="346.0" r="2.05"/><circle cx="398.5" cy="317.7" r="2.05"/><circle cx="392.5" cy="354.0" r="2.05"/><circle cx="407.1" cy="327.9" r="2.05"/><circle cx="401.2" cy="337.0" r="2.05"/><circle cx="410.3" cy="331.0" r="2.05"/><circle cx="389.9" cy="361.8" r="2.05"/><circle cx="389.8" cy="357.6" r="2.05"/><circle cx="408.3" cy="318.3" r="2.05"/><circle cx="377.0" cy="359.6" r="2.05"/><circle cx="405.4" cy="325.1" r="2.05"/><circle cx="386.8" cy="357.9" r="2.05"/><circle cx="401.5" cy="338.0" r="2.05"/><circle cx="407.4" cy="325.9" r="2.05"/><circle cx="402.4" cy="336.3" r="2.05"/><circle cx="400.3" cy="338.4" r="2.05"/><circle cx="402.6" cy="351.9" r="2.05"/><circle cx="394.3" cy="349.2" r="2.05"/><circle cx="400.7" cy="355.4" r="2.05"/><circle cx="386.8" cy="357.6" r="2.05"/><circle cx="384.2" cy="363.4" r="2.05"/><circle cx="399.8" cy="318.9" r="2.05"/><circle cx="381.8" cy="363.0" r="2.05"/><circle cx="391.9" cy="357.6" r="2.05"/><circle cx="402.8" cy="340.0" r="2.05"/><circle cx="390.5" cy="354.3" r="2.05"/><circle cx="409.1" cy="330.1" r="2.05"/><circle cx="389.8" cy="365.6" r="2.05"/><circle cx="389.0" cy="358.7" r="2.05"/><circle cx="404.5" cy="318.5" r="2.05"/><circle cx="399.2" cy="351.6" r="2.05"/><circle cx="403.8" cy="331.4" r="2.05"/><circle cx="377.2" cy="361.4" r="2.05"/><circle cx="398.0" cy="349.6" r="2.05"/><circle cx="403.1" cy="318.9" r="2.05"/><circle cx="410.5" cy="341.7" r="2.05"/><circle cx="377.8" cy="364.2" r="2.05"/><circle cx="382.4" cy="363.4" r="2.05"/><circle cx="378.4" cy="362.5" r="2.05"/><circle cx="402.8" cy="338.9" r="2.05"/><circle cx="404.9" cy="330.0" r="2.05"/><circle cx="396.7" cy="344.3" r="2.05"/><circle cx="398.3" cy="316.4" r="2.05"/><circle cx="379.9" cy="361.4" r="2.05"/><circle cx="399.6" cy="338.8" r="2.05"/><circle cx="388.5" cy="356.5" r="2.05"/><circle cx="398.8" cy="353.0" r="2.05"/><circle cx="387.0" cy="358.1" r="2.05"/><circle cx="387.5" cy="359.0" r="2.05"/><circle cx="390.0" cy="353.5" r="2.05"/><circle cx="406.5" cy="325.8" r="2.05"/><circle cx="394.6" cy="349.3" r="2.05"/><circle cx="407.2" cy="333.9" r="2.05"/><circle cx="404.3" cy="326.2" r="2.05"/><circle cx="384.4" cy="358.3" r="2.05"/><circle cx="391.2" cy="353.1" r="2.05"/><circle cx="379.0" cy="363.1" r="2.05"/><circle cx="404.2" cy="334.5" r="2.05"/><circle cx="374.8" cy="363.6" r="2.05"/><circle cx="405.7" cy="344.5" r="2.05"/><circle cx="400.8" cy="338.0" r="2.05"/><circle cx="378.8" cy="366.3" r="2.05"/><circle cx="407.4" cy="327.8" r="2.05"/><circle cx="402.5" cy="322.6" r="2.05"/><circle cx="380.2" cy="358.0" r="2.05"/><circle cx="407.1" cy="328.0" r="2.05"/><circle cx="399.0" cy="339.4" r="2.05"/><circle cx="407.0" cy="322.2" r="2.05"/><circle cx="399.3" cy="343.1" r="2.05"/><circle cx="406.1" cy="324.5" r="2.05"/><circle cx="397.9" cy="343.2" r="2.05"/><circle cx="403.2" cy="320.3" r="2.05"/><circle cx="377.6" cy="360.9" r="2.05"/><circle cx="386.2" cy="360.4" r="2.05"/><circle cx="401.1" cy="318.0" r="2.05"/><circle cx="404.5" cy="324.0" r="2.05"/><circle cx="397.0" cy="346.4" r="2.05"/><circle cx="408.5" cy="321.8" r="2.05"/><circle cx="403.1" cy="346.1" r="2.05"/><circle cx="379.8" cy="360.4" r="2.05"/><circle cx="404.2" cy="319.5" r="2.05"/><circle cx="406.9" cy="326.2" r="2.05"/><circle cx="401.6" cy="338.2" r="2.05"/><circle cx="405.1" cy="341.6" r="2.05"/><circle cx="403.2" cy="339.3" r="2.05"/><circle cx="403.1" cy="334.8" r="2.05"/><circle cx="402.3" cy="321.7" r="2.05"/><circle cx="399.1" cy="345.0" r="2.05"/><circle cx="404.9" cy="333.0" r="2.05"/><circle cx="393.9" cy="353.8" r="2.05"/><circle cx="398.4" cy="316.6" r="2.05"/><circle cx="393.1" cy="350.2" r="2.05"/><circle cx="396.5" cy="346.3" r="2.05"/><circle cx="406.7" cy="325.3" r="2.05"/><circle cx="405.7" cy="323.3" r="2.05"/><circle cx="388.6" cy="359.9" r="2.05"/><circle cx="403.0" cy="334.4" r="2.05"/><circle cx="401.6" cy="321.1" r="2.05"/><circle cx="395.2" cy="348.3" r="2.05"/><circle cx="392.3" cy="357.8" r="2.05"/><circle cx="398.4" cy="348.6" r="2.05"/><circle cx="405.9" cy="324.9" r="2.05"/><circle cx="401.1" cy="317.7" r="2.05"/><circle cx="406.3" cy="337.2" r="2.05"/><circle cx="394.8" cy="350.6" r="2.05"/><circle cx="380.9" cy="364.0" r="2.05"/><circle cx="402.9" cy="342.7" r="2.05"/><circle cx="385.6" cy="361.2" r="2.05"/><circle cx="399.6" cy="317.8" r="2.05"/><circle cx="411.2" cy="316.3" r="2.05"/><circle cx="397.5" cy="344.3" r="2.05"/><circle cx="388.6" cy="360.5" r="2.05"/><circle cx="392.0" cy="355.1" r="2.05"/><circle cx="402.3" cy="313.3" r="2.05"/><circle cx="410.0" cy="329.2" r="2.05"/><circle cx="400.4" cy="314.7" r="2.05"/><circle cx="396.6" cy="349.9" r="2.05"/><circle cx="406.4" cy="322.5" r="2.05"/><circle cx="395.6" cy="351.5" r="2.05"/><circle cx="398.7" cy="344.1" r="2.05"/><circle cx="396.2" cy="352.3" r="2.05"/><circle cx="398.7" cy="315.1" r="2.05"/><circle cx="379.9" cy="362.8" r="2.05"/><circle cx="402.5" cy="324.0" r="2.05"/><circle cx="376.6" cy="361.8" r="2.05"/><circle cx="405.3" cy="334.0" r="2.05"/><circle cx="378.7" cy="362.9" r="2.05"/><circle cx="379.2" cy="362.0" r="2.05"/><circle cx="404.0" cy="325.1" r="2.05"/><circle cx="397.7" cy="345.1" r="2.05"/><circle cx="405.8" cy="328.3" r="2.05"/><circle cx="391.5" cy="353.8" r="2.05"/><circle cx="380.0" cy="362.9" r="2.05"/><circle cx="399.3" cy="342.9" r="2.05"/><circle cx="378.8" cy="362.2" r="2.05"/><circle cx="379.1" cy="364.1" r="2.05"/><circle cx="389.5" cy="355.3" r="2.05"/><circle cx="379.7" cy="362.3" r="2.05"/><circle cx="382.5" cy="360.2" r="2.05"/><circle cx="399.8" cy="344.5" r="2.05"/><circle cx="383.0" cy="361.2" r="2.05"/><circle cx="399.9" cy="341.7" r="2.05"/><circle cx="400.4" cy="348.7" r="2.05"/><circle cx="410.8" cy="323.5" r="2.05"/><circle cx="404.1" cy="331.3" r="2.05"/><circle cx="379.7" cy="361.9" r="2.05"/><circle cx="387.7" cy="356.7" r="2.05"/><circle cx="401.8" cy="319.9" r="2.05"/><circle cx="387.2" cy="364.9" r="2.05"/><circle cx="395.0" cy="351.7" r="2.05"/><circle cx="392.5" cy="354.3" r="2.05"/><circle cx="402.5" cy="334.0" r="2.05"/><circle cx="404.0" cy="330.6" r="2.05"/><circle cx="398.1" cy="348.9" r="2.05"/><circle cx="387.7" cy="360.2" r="2.05"/><circle cx="397.1" cy="347.8" r="2.05"/><circle cx="406.5" cy="323.8" r="2.05"/><circle cx="380.2" cy="362.7" r="2.05"/><circle cx="391.0" cy="363.8" r="2.05"/><circle cx="404.8" cy="333.0" r="2.05"/><circle cx="398.0" cy="351.1" r="2.05"/><circle cx="400.3" cy="342.4" r="2.05"/><circle cx="405.8" cy="332.1" r="2.05"/><circle cx="408.4" cy="332.6" r="2.05"/><circle cx="385.7" cy="357.0" r="2.05"/><circle cx="402.6" cy="337.9" r="2.05"/><circle cx="394.4" cy="359.4" r="2.05"/><circle cx="407.5" cy="359.3" r="2.05"/><circle cx="382.6" cy="359.2" r="2.05"/><circle cx="377.9" cy="363.2" r="2.05"/><circle cx="385.0" cy="363.8" r="2.05"/><circle cx="404.6" cy="323.8" r="2.05"/><circle cx="405.5" cy="332.5" r="2.05"/><circle cx="403.8" cy="340.4" r="2.05"/><circle cx="390.6" cy="352.9" r="2.05"/><circle cx="405.6" cy="330.2" r="2.05"/><circle cx="396.8" cy="315.9" r="2.05"/><circle cx="405.9" cy="321.9" r="2.05"/><circle cx="402.0" cy="316.4" r="2.05"/><circle cx="378.4" cy="361.6" r="2.05"/><circle cx="395.8" cy="349.4" r="2.05"/><circle cx="394.5" cy="350.1" r="2.05"/><circle cx="397.1" cy="349.9" r="2.05"/><circle cx="387.4" cy="357.0" r="2.05"/><circle cx="397.2" cy="346.1" r="2.05"/><circle cx="391.6" cy="356.0" r="2.05"/><circle cx="405.3" cy="331.6" r="2.05"/><circle cx="403.7" cy="323.4" r="2.05"/><circle cx="377.8" cy="362.2" r="2.05"/><circle cx="401.0" cy="340.5" r="2.05"/><circle cx="393.9" cy="353.6" r="2.05"/><circle cx="399.6" cy="341.2" r="2.05"/><circle cx="378.2" cy="365.6" r="2.05"/><circle cx="383.9" cy="358.0" r="2.05"/><circle cx="402.5" cy="334.8" r="2.05"/><circle cx="400.8" cy="345.2" r="2.05"/><circle cx="400.7" cy="318.6" r="2.05"/><circle cx="405.7" cy="334.2" r="2.05"/><circle cx="389.0" cy="353.6" r="2.05"/><circle cx="394.9" cy="348.5" r="2.05"/><circle cx="406.1" cy="334.1" r="2.05"/><circle cx="401.7" cy="320.1" r="2.05"/><circle cx="401.6" cy="334.8" r="2.05"/><circle cx="407.0" cy="329.9" r="2.05"/><circle cx="404.3" cy="324.3" r="2.05"/><circle cx="376.3" cy="363.7" r="2.05"/><circle cx="381.0" cy="362.3" r="2.05"/><circle cx="406.9" cy="338.5" r="2.05"/><circle cx="401.1" cy="319.8" r="2.05"/><circle cx="381.6" cy="359.5" r="2.05"/><circle cx="408.4" cy="330.8" r="2.05"/><circle cx="381.4" cy="358.9" r="2.05"/><circle cx="393.4" cy="356.3" r="2.05"/><circle cx="394.3" cy="355.5" r="2.05"/><circle cx="392.9" cy="351.7" r="2.05"/><circle cx="409.4" cy="336.6" r="2.05"/><circle cx="398.7" cy="317.1" r="2.05"/><circle cx="385.9" cy="358.2" r="2.05"/><circle cx="378.4" cy="363.3" r="2.05"/><circle cx="379.0" cy="362.4" r="2.05"/><circle cx="405.0" cy="333.7" r="2.05"/><circle cx="401.9" cy="310.9" r="2.05"/><circle cx="407.0" cy="311.3" r="2.05"/><circle cx="399.1" cy="341.0" r="2.05"/><circle cx="400.6" cy="339.9" r="2.05"/><circle cx="396.5" cy="315.8" r="2.05"/><circle cx="380.3" cy="360.5" r="2.05"/><circle cx="398.7" cy="345.3" r="2.05"/><circle cx="389.4" cy="357.3" r="2.05"/><circle cx="396.8" cy="344.0" r="2.05"/><circle cx="395.1" cy="351.4" r="2.05"/><circle cx="401.2" cy="318.2" r="2.05"/><circle cx="398.3" cy="340.1" r="2.05"/><circle cx="404.8" cy="328.9" r="2.05"/><circle cx="386.9" cy="364.7" r="2.05"/><circle cx="386.2" cy="360.4" r="2.05"/><circle cx="399.6" cy="340.0" r="2.05"/><circle cx="399.3" cy="340.9" r="2.05"/><circle cx="385.0" cy="359.1" r="2.05"/><circle cx="398.6" cy="348.5" r="2.05"/><circle cx="398.6" cy="341.1" r="2.05"/><circle cx="399.2" cy="349.6" r="2.05"/><circle cx="412.5" cy="323.2" r="2.05"/><circle cx="399.0" cy="344.7" r="2.05"/><circle cx="407.3" cy="334.1" r="2.05"/><circle cx="399.0" cy="341.8" r="2.05"/><circle cx="403.8" cy="320.8" r="2.05"/><circle cx="402.9" cy="321.0" r="2.05"/><circle cx="405.1" cy="337.4" r="2.05"/><circle cx="404.9" cy="322.3" r="2.05"/><circle cx="386.5" cy="358.3" r="2.05"/><circle cx="400.8" cy="318.5" r="2.05"/><circle cx="404.1" cy="334.5" r="2.05"/><circle cx="398.2" cy="342.3" r="2.05"/><circle cx="404.1" cy="318.8" r="2.05"/><circle cx="376.3" cy="363.4" r="2.05"/><circle cx="377.5" cy="363.5" r="2.05"/><circle cx="400.2" cy="348.7" r="2.05"/><circle cx="378.7" cy="360.7" r="2.05"/><circle cx="390.5" cy="355.3" r="2.05"/><circle cx="402.3" cy="333.6" r="2.05"/><circle cx="397.3" cy="346.0" r="2.05"/><circle cx="401.2" cy="345.6" r="2.05"/><circle cx="395.6" cy="348.6" r="2.05"/><circle cx="383.7" cy="358.3" r="2.05"/><circle cx="405.5" cy="330.0" r="2.05"/><circle cx="405.0" cy="318.2" r="2.05"/><circle cx="403.2" cy="333.8" r="2.05"/><circle cx="392.6" cy="350.1" r="2.05"/><circle cx="405.3" cy="323.4" r="2.05"/><circle cx="400.8" cy="337.4" r="2.05"/><circle cx="404.9" cy="322.0" r="2.05"/><circle cx="398.7" cy="319.2" r="2.05"/><circle cx="404.2" cy="331.1" r="2.05"/><circle cx="376.6" cy="364.1" r="2.05"/><circle cx="395.0" cy="349.6" r="2.05"/><circle cx="401.7" cy="341.4" r="2.05"/><circle cx="394.3" cy="353.6" r="2.05"/><circle cx="398.8" cy="315.4" r="2.05"/><circle cx="404.9" cy="347.9" r="2.05"/><circle cx="376.6" cy="363.5" r="2.05"/><circle cx="402.9" cy="322.3" r="2.05"/><circle cx="400.9" cy="319.6" r="2.05"/><circle cx="402.0" cy="320.8" r="2.05"/><circle cx="378.6" cy="362.7" r="2.05"/><circle cx="388.4" cy="355.9" r="2.05"/><circle cx="405.7" cy="327.5" r="2.05"/><circle cx="403.7" cy="324.1" r="2.05"/><circle cx="397.9" cy="353.1" r="2.05"/><circle cx="380.2" cy="365.0" r="2.05"/><circle cx="403.6" cy="324.5" r="2.05"/><circle cx="375.7" cy="363.3" r="2.05"/><circle cx="381.8" cy="360.7" r="2.05"/><circle cx="406.0" cy="326.8" r="2.05"/><circle cx="403.4" cy="321.2" r="2.05"/><circle cx="402.1" cy="317.9" r="2.05"/><circle cx="399.9" cy="315.1" r="2.05"/><circle cx="390.8" cy="353.2" r="2.05"/><circle cx="396.0" cy="349.1" r="2.05"/><circle cx="403.1" cy="322.2" r="2.05"/><circle cx="377.7" cy="362.0" r="2.05"/><circle cx="376.1" cy="362.9" r="2.05"/><circle cx="401.4" cy="318.0" r="2.05"/><circle cx="386.5" cy="358.1" r="2.05"/><circle cx="377.4" cy="367.5" r="2.05"/><circle cx="409.6" cy="326.0" r="2.05"/><circle cx="399.6" cy="340.5" r="2.05"/><circle cx="381.2" cy="362.8" r="2.05"/><circle cx="400.5" cy="346.4" r="2.05"/><circle cx="405.5" cy="330.0" r="2.05"/><circle cx="403.2" cy="318.1" r="2.05"/><circle cx="404.0" cy="327.2" r="2.05"/><circle cx="408.3" cy="327.9" r="2.05"/><circle cx="408.0" cy="327.3" r="2.05"/><circle cx="399.4" cy="343.0" r="2.05"/><circle cx="401.5" cy="336.2" r="2.05"/><circle cx="406.4" cy="323.8" r="2.05"/><circle cx="397.9" cy="351.7" r="2.05"/><circle cx="383.7" cy="362.7" r="2.05"/><circle cx="399.5" cy="319.5" r="2.05"/><circle cx="393.6" cy="352.3" r="2.05"/><circle cx="399.8" cy="351.3" r="2.05"/><circle cx="402.9" cy="338.4" r="2.05"/><circle cx="404.4" cy="333.3" r="2.05"/><circle cx="410.7" cy="321.8" r="2.05"/><circle cx="403.3" cy="330.2" r="2.05"/><circle cx="384.0" cy="359.3" r="2.05"/><circle cx="376.2" cy="364.1" r="2.05"/><circle cx="401.3" cy="348.3" r="2.05"/><circle cx="406.1" cy="332.9" r="2.05"/><circle cx="400.0" cy="316.5" r="2.05"/><circle cx="392.8" cy="352.1" r="2.05"/><circle cx="385.5" cy="363.3" r="2.05"/><circle cx="404.5" cy="339.0" r="2.05"/><circle cx="387.9" cy="357.6" r="2.05"/><circle cx="378.0" cy="365.4" r="2.05"/><circle cx="404.8" cy="332.8" r="2.05"/><circle cx="402.7" cy="334.5" r="2.05"/><circle cx="406.9" cy="332.0" r="2.05"/><circle cx="394.6" cy="347.9" r="2.05"/><circle cx="382.8" cy="358.0" r="2.05"/><circle cx="399.0" cy="352.8" r="2.05"/><circle cx="401.5" cy="349.7" r="2.05"/><circle cx="404.6" cy="327.1" r="2.05"/><circle cx="402.5" cy="312.5" r="2.05"/><circle cx="392.9" cy="353.0" r="2.05"/><circle cx="386.5" cy="361.5" r="2.05"/><circle cx="395.2" cy="349.1" r="2.05"/><circle cx="381.9" cy="358.2" r="2.05"/><circle cx="403.1" cy="322.0" r="2.05"/><circle cx="402.8" cy="342.4" r="2.05"/><circle cx="395.0" cy="350.0" r="2.05"/><circle cx="412.7" cy="330.7" r="2.05"/><circle cx="387.6" cy="357.1" r="2.05"/><circle cx="404.4" cy="338.5" r="2.05"/><circle cx="405.5" cy="332.5" r="2.05"/><circle cx="392.2" cy="357.8" r="2.05"/><circle cx="398.1" cy="315.3" r="2.05"/><circle cx="412.9" cy="324.5" r="2.05"/><circle cx="402.5" cy="335.2" r="2.05"/><circle cx="406.9" cy="328.6" r="2.05"/><circle cx="394.4" cy="360.8" r="2.05"/><circle cx="400.2" cy="315.4" r="2.05"/><circle cx="377.7" cy="364.8" r="2.05"/><circle cx="397.7" cy="317.0" r="2.05"/><circle cx="384.6" cy="357.4" r="2.05"/><circle cx="409.5" cy="334.4" r="2.05"/><circle cx="383.8" cy="361.0" r="2.05"/><circle cx="407.9" cy="338.4" r="2.05"/><circle cx="382.0" cy="361.3" r="2.05"/><circle cx="386.4" cy="357.9" r="2.05"/><circle cx="404.6" cy="318.8" r="2.05"/><circle cx="404.2" cy="320.7" r="2.05"/><circle cx="387.4" cy="357.4" r="2.05"/><circle cx="379.4" cy="367.5" r="2.05"/><circle cx="411.6" cy="312.7" r="2.05"/><circle cx="386.4" cy="358.0" r="2.05"/><circle cx="403.4" cy="322.6" r="2.05"/><circle cx="401.1" cy="318.8" r="2.05"/><circle cx="401.3" cy="334.8" r="2.05"/><circle cx="390.1" cy="364.6" r="2.05"/><circle cx="394.4" cy="355.1" r="2.05"/><circle cx="400.9" cy="318.6" r="2.05"/></g><circle cx="252.0" cy="289.4" r="2.05"/><circle cx="284.6" cy="286.8" r="2.05"/><circle cx="355.0" cy="293.4" r="2.05"/><circle cx="259.2" cy="288.1" r="2.05"/><circle cx="288.0" cy="287.3" r="2.05"/><circle cx="369.4" cy="298.5" r="2.05"/><circle cx="299.2" cy="288.1" r="2.05"/><circle cx="290.4" cy="291.8" r="2.05"/><circle cx="397.7" cy="301.2" r="2.05"/><circle cx="382.5" cy="293.5" r="2.05"/><circle cx="379.8" cy="302.0" r="2.05"/><circle cx="341.4" cy="292.3" r="2.05"/><circle cx="320.8" cy="291.1" r="2.05"/><circle cx="271.2" cy="286.8" r="2.05"/><circle cx="400.7" cy="306.6" r="2.05"/><circle cx="405.8" cy="302.3" r="2.05"/><circle cx="372.4" cy="289.2" r="2.05"/><circle cx="286.5" cy="290.5" r="2.05"/><circle cx="318.9" cy="291.9" r="2.05"/><circle cx="280.5" cy="284.9" r="2.05"/><circle cx="342.2" cy="292.5" r="2.05"/><circle cx="339.6" cy="292.8" r="2.05"/><circle cx="305.8" cy="291.3" r="2.05"/><circle cx="282.2" cy="288.1" r="2.05"/><circle cx="398.7" cy="304.9" r="2.05"/><circle cx="370.4" cy="292.8" r="2.05"/><circle cx="246.1" cy="294.8" r="2.05"/><circle cx="280.1" cy="288.5" r="2.05"/><circle cx="244.7" cy="293.6" r="2.05"/><circle cx="368.5" cy="296.1" r="2.05"/><circle cx="384.9" cy="299.0" r="2.05"/><circle cx="325.4" cy="292.3" r="2.05"/><circle cx="347.2" cy="294.3" r="2.05"/><circle cx="295.7" cy="287.3" r="2.05"/><circle cx="376.7" cy="296.1" r="2.05"/><circle cx="393.2" cy="304.7" r="2.05"/><circle cx="336.5" cy="288.8" r="2.05"/><circle cx="377.9" cy="298.0" r="2.05"/><circle cx="244.9" cy="292.6" r="2.05"/><circle cx="406.4" cy="295.6" r="2.05"/><circle cx="347.9" cy="294.8" r="2.05"/><circle cx="261.7" cy="283.2" r="2.05"/><circle cx="314.0" cy="288.9" r="2.05"/><circle cx="256.5" cy="291.3" r="2.05"/><circle cx="321.4" cy="289.7" r="2.05"/><circle cx="287.7" cy="289.0" r="2.05"/><circle cx="343.7" cy="295.9" r="2.05"/><circle cx="339.9" cy="293.8" r="2.05"/><circle cx="364.4" cy="291.8" r="2.05"/><circle cx="313.2" cy="286.5" r="2.05"/><circle cx="413.4" cy="322.5" r="2.05"/><circle cx="423.2" cy="349.6" r="2.05"/><circle cx="406.3" cy="352.1" r="2.05"/><circle cx="405.0" cy="358.5" r="2.05"/><circle cx="410.1" cy="304.0" r="2.05"/><circle cx="395.3" cy="361.3" r="2.05"/><circle cx="401.9" cy="365.9" r="2.05"/><circle cx="418.5" cy="351.9" r="2.05"/><circle cx="406.0" cy="350.8" r="2.05"/><circle cx="412.1" cy="356.9" r="2.05"/><circle cx="407.1" cy="354.4" r="2.05"/><circle cx="416.5" cy="311.4" r="2.05"/><circle cx="393.5" cy="367.2" r="2.05"/><circle cx="408.4" cy="358.3" r="2.05"/><circle cx="437.3" cy="352.7" r="2.05"/><circle cx="416.0" cy="342.7" r="2.05"/><circle cx="406.8" cy="344.8" r="2.05"/><circle cx="402.0" cy="356.3" r="2.05"/><circle cx="406.3" cy="307.3" r="2.05"/><circle cx="408.5" cy="347.6" r="2.05"/><circle cx="422.3" cy="331.4" r="2.05"/><circle cx="402.6" cy="354.3" r="2.05"/><circle cx="393.9" cy="364.6" r="2.05"/><circle cx="413.0" cy="344.5" r="2.05"/><circle cx="409.4" cy="340.3" r="2.05"/><circle cx="422.1" cy="326.6" r="2.05"/><circle cx="412.5" cy="352.9" r="2.05"/><circle cx="413.1" cy="326.8" r="2.05"/><circle cx="411.2" cy="338.3" r="2.05"/><circle cx="414.8" cy="316.6" r="2.05"/><circle cx="416.7" cy="312.1" r="2.05"/><circle cx="411.2" cy="309.0" r="2.05"/><circle cx="409.7" cy="340.6" r="2.05"/><circle cx="415.4" cy="326.0" r="2.05"/><circle cx="415.8" cy="360.5" r="2.05"/><circle cx="407.5" cy="343.9" r="2.05"/><circle cx="412.2" cy="347.5" r="2.05"/><circle cx="412.1" cy="336.5" r="2.05"/><circle cx="409.3" cy="360.4" r="2.05"/><circle cx="400.8" cy="359.5" r="2.05"/><circle cx="409.6" cy="344.3" r="2.05"/><circle cx="404.8" cy="366.4" r="2.05"/><circle cx="410.1" cy="316.4" r="2.05"/><circle cx="425.0" cy="322.8" r="2.05"/><circle cx="406.3" cy="353.5" r="2.05"/><circle cx="394.3" cy="362.8" r="2.05"/><circle cx="413.5" cy="353.9" r="2.05"/><circle cx="419.8" cy="321.3" r="2.05"/><circle cx="432.1" cy="318.5" r="2.05"/><circle cx="426.6" cy="319.5" r="2.05"/><circle cx="412.6" cy="323.8" r="2.05"/><circle cx="415.0" cy="346.2" r="2.05"/><circle cx="422.1" cy="321.9" r="2.05"/><circle cx="420.4" cy="316.8" r="2.05"/><circle cx="411.1" cy="313.9" r="2.05"/><circle cx="415.9" cy="346.4" r="2.05"/><circle cx="415.1" cy="324.6" r="2.05"/><circle cx="383.4" cy="366.0" r="2.05"/><circle cx="397.8" cy="359.6" r="2.05"/><circle cx="428.6" cy="323.7" r="2.05"/><circle cx="402.7" cy="353.5" r="2.05"/><circle cx="409.6" cy="310.9" r="2.05"/><circle cx="418.1" cy="365.9" r="2.05"/><circle cx="413.6" cy="323.2" r="2.05"/><circle cx="408.8" cy="319.3" r="2.05"/><circle cx="415.7" cy="349.0" r="2.05"/><circle cx="417.1" cy="340.0" r="2.05"/><circle cx="400.3" cy="352.6" r="2.05"/><circle cx="429.9" cy="332.7" r="2.05"/><circle cx="417.5" cy="352.1" r="2.05"/><circle cx="412.8" cy="317.5" r="2.05"/><circle cx="407.2" cy="348.8" r="2.05"/><circle cx="281.7" cy="208.5" r="2.05"/><circle cx="275.1" cy="226.7" r="2.05"/><circle cx="248.9" cy="253.3" r="2.05"/><circle cx="266.2" cy="251.5" r="2.05"/><circle cx="283.8" cy="250.0" r="2.05"/><circle cx="283.4" cy="253.4" r="2.05"/><circle cx="280.2" cy="256.7" r="2.05"/><circle cx="294.3" cy="250.0" r="2.05"/><circle cx="269.2" cy="266.5" r="2.05"/><circle cx="269.8" cy="278.1" r="2.05"/><circle cx="282.7" cy="279.8" r="2.05"/><circle cx="305.3" cy="274.9" r="2.05"/><circle cx="251.6" cy="283.0" r="2.05"/><circle cx="251.2" cy="284.9" r="2.05"/><circle cx="308.7" cy="283.0" r="2.05"/><circle cx="326.3" cy="283.0" r="2.05"/><circle cx="340.4" cy="276.6" r="2.05"/><circle cx="346.2" cy="284.8" r="2.05"/><circle cx="338.5" cy="286.7" r="2.05"/><circle cx="334.7" cy="288.2" r="2.05"/><circle cx="321.2" cy="288.0" r="2.05"/><circle cx="313.0" cy="288.0" r="2.05"/><circle cx="307.0" cy="288.0" r="2.05"/><circle cx="275.8" cy="286.7" r="2.05"/><circle cx="448.8" cy="301.3" r="2.05"/><circle cx="418.2" cy="304.4" r="2.05"/><circle cx="431.3" cy="313.1" r="2.05"/><circle cx="446.9" cy="314.7" r="2.05"/><circle cx="426.7" cy="316.2" r="2.05"/><circle cx="428.9" cy="321.2" r="2.05"/><circle cx="442.0" cy="321.2" r="2.05"/><circle cx="452.3" cy="322.8" r="2.05"/><circle cx="448.8" cy="324.3" r="2.05"/><circle cx="435.5" cy="324.3" r="2.05"/><circle cx="473.6" cy="328.0" r="2.05"/><circle cx="466.6" cy="331.3" r="2.05"/><circle cx="454.3" cy="331.1" r="2.05"/><circle cx="434.2" cy="334.6" r="2.05"/><circle cx="442.5" cy="336.1" r="2.05"/><circle cx="451.0" cy="334.6" r="2.05"/><circle cx="447.9" cy="338.1" r="2.05"/><circle cx="465.7" cy="338.1" r="2.05"/><circle cx="432.6" cy="339.8" r="2.05"/><circle cx="439.8" cy="344.4" r="2.05"/><circle cx="453.2" cy="346.2" r="2.05"/><circle cx="462.6" cy="346.2" r="2.05"/><circle cx="465.5" cy="347.7" r="2.05"/><circle cx="435.5" cy="348.2" r="2.05"/><circle cx="433.5" cy="351.2" r="2.05"/><circle cx="426.5" cy="352.8" r="2.05"/><circle cx="437.9" cy="354.3" r="2.05"/><circle cx="444.0" cy="354.3" r="2.05"/><circle cx="464.4" cy="354.3" r="2.05"/><circle cx="429.3" cy="362.8" r="2.05"/><circle cx="417.1" cy="365.9" r="2.05"/><circle cx="420.6" cy="359.3" r="2.05"/><circle cx="368.0" cy="284.9" r="2.05"/><circle cx="346.1" cy="284.9" r="2.05"/><circle cx="341.1" cy="276.6" r="2.05"/><circle cx="357.0" cy="294.5" r="2.05"/><circle cx="361.9" cy="296.3" r="2.05"/><circle cx="368.0" cy="296.5" r="2.05"/><circle cx="385.3" cy="299.6" r="2.05"/><circle cx="387.5" cy="299.6" r="2.05"/><circle cx="396.3" cy="304.6" r="2.05"/><circle cx="410.5" cy="310.0" r="2.05"/></g></g><g stroke="#000" fill="none"><line x1="241.7" y1="189.85" x2="241.7" y2="617.3" stroke-width="1.1"/><line x1="67.6" y1="369.1" x2="492.55" y2="369.1" stroke-width="1.1"/><rect x="67.6" y="189.85" width="425.0" height="427.4" stroke-width="1.15"/><line x1="75.5" y1="617.3" x2="75.5" y2="622.6" stroke-width="1.25"/><line x1="208.3" y1="617.3" x2="208.3" y2="622.6" stroke-width="1.25"/><line x1="341.0" y1="617.3" x2="341.0" y2="622.6" stroke-width="1.25"/><line x1="473.8" y1="617.3" x2="473.8" y2="622.6" stroke-width="1.25"/><line x1="62.3" y1="565.6" x2="67.6" y2="565.6" stroke-width="1.25"/><line x1="62.3" y1="449.3" x2="67.6" y2="449.3" stroke-width="1.25"/><line x1="62.3" y1="333.0" x2="67.6" y2="333.0" stroke-width="1.25"/><line x1="62.3" y1="216.7" x2="67.6" y2="216.7" stroke-width="1.25"/></g><g class="t" font-size="14.6"><text x="72.9" y="643.4">0</text><text x="195.6" y="643.4">2000</text><text x="327.5" y="643.4">4000</text><text x="459.0" y="643.4">6000</text><text x="48.4" y="570.4" text-anchor="end">20</text><text x="48.4" y="454.1" text-anchor="end">30</text><text x="48.4" y="337.8" text-anchor="end">40</text><text x="48.4" y="221.5" text-anchor="end">50</text><text x="73.7" y="366.2" font-size="14.75">37 weeks</text><text x="251.8" y="608.8" font-size="14.95">2500g</text><text x="212.6" y="670" font-size="20.2">Birthweight <tspan font-size="15.7">(gram)</tspan></text><text transform="translate(16.7 480.6) rotate(-90) scale(1.0125 1)" font-size="20.2">Gestational age <tspan font-size="15.7">(weeks)</tspan></text></g><path d="M86.0 167.9 L120.0 167.4 L150.0 166.8 L180.0 166.0 L205.0 164.8 L225.0 163.3 L238.0 162.3 L241.5 162.2 L241.5 168.2 L86.0 168.2Z" fill="#0073C2" fill-opacity=".45" stroke="#0073C2" stroke-width="1"/><path d="M241.5 168.2 L241.5 161.6 L250.0 161.6 L262.0 162.6 L275.0 164.0 L290.0 165.6 L310.0 166.9 L335.0 167.6 L360.0 168.2Z" fill="#868686" fill-opacity=".5" stroke="#868686" stroke-width=".6" stroke-opacity=".6"/><g fill="#EFC000" fill-opacity="0.5" stroke="#EFC000" stroke-width="1.3"><rect x="194.05" y="167.4" width="3.90" height="0.8"/><rect x="197.95" y="167.0" width="3.90" height="1.2"/><rect x="201.85" y="166.5" width="3.90" height="1.7"/><rect x="205.75" y="165.8" width="3.90" height="2.4"/><rect x="209.65" y="164.8" width="3.90" height="3.4"/><rect x="213.55" y="163.4" width="3.90" height="4.8"/><rect x="217.45" y="161.2" width="3.90" height="7.0"/><rect x="221.35" y="158.0" width="3.90" height="10.2"/><rect x="225.25" y="152.6" width="3.90" height="15.6"/><rect x="229.15" y="145.5" width="3.90" height="22.7"/><rect x="233.05" y="136.0" width="3.90" height="32.2"/><rect x="236.95" y="131.5" width="3.90" height="36.7"/></g><g fill="#CD534C" fill-opacity="0.35" stroke="#CD534C" stroke-width="1.1"><rect x="236.84" y="161.8" width="3.96" height="6.4"/></g><g fill="#CD534C" fill-opacity="0.5" stroke="#CD534C" stroke-width="1.3"><rect x="240.80" y="110.4" width="3.96" height="57.8"/><rect x="244.76" y="94.6" width="3.96" height="73.6"/><rect x="248.71" y="74.5" width="3.96" height="93.7"/><rect x="252.67" y="58.7" width="3.96" height="109.5"/><rect x="256.62" y="36.8" width="3.96" height="131.4"/><rect x="260.57" y="28.6" width="3.96" height="139.6"/><rect x="264.53" y="9.1" width="3.96" height="159.1"/><rect x="268.49" y="6.1" width="3.96" height="162.1"/><rect x="272.44" y="1.6" width="3.96" height="166.6"/><rect x="276.39" y="1.9" width="3.96" height="166.3"/><rect x="280.35" y="8.4" width="3.96" height="159.8"/><rect x="284.31" y="14.4" width="3.96" height="153.8"/><rect x="288.26" y="30.7" width="3.96" height="137.5"/><rect x="292.22" y="42.4" width="3.96" height="125.8"/><rect x="296.17" y="63.1" width="3.96" height="105.1"/><rect x="300.12" y="73.2" width="3.96" height="95.0"/><rect x="304.08" y="90.7" width="3.96" height="77.5"/><rect x="308.04" y="103.0" width="3.96" height="65.2"/><rect x="311.99" y="116.9" width="3.96" height="51.3"/><rect x="315.94" y="126.7" width="3.96" height="41.5"/><rect x="319.90" y="136.7" width="3.96" height="31.5"/><rect x="323.86" y="142.8" width="3.96" height="25.4"/><rect x="327.81" y="149.5" width="3.96" height="18.7"/><rect x="331.76" y="154.2" width="3.96" height="14.0"/><rect x="335.72" y="158.2" width="3.96" height="10.0"/><rect x="339.68" y="160.7" width="3.96" height="7.5"/><rect x="343.63" y="163.0" width="3.96" height="5.2"/><rect x="347.59" y="164.7" width="3.96" height="3.5"/><rect x="351.54" y="165.6" width="3.96" height="2.6"/><rect x="355.50" y="166.3" width="3.96" height="1.9"/><rect x="359.45" y="166.8" width="3.96" height="1.4"/><rect x="363.41" y="167.2" width="3.96" height="1.0"/><rect x="367.36" y="167.5" width="3.96" height="0.7"/><rect x="371.32" y="167.7" width="3.96" height="0.5"/></g><line x1="85.7" y1="168.2" x2="474.3" y2="168.2" stroke="#CD534C" stroke-width="1.5"/><rect x="88.5" y="170.5" width="152.8" height="6.300000000000011" fill="#0073C2"/><rect x="241.3" y="170.5" width="171.7" height="6.300000000000011" fill="#CD534C"/><rect x="85.8" y="170.5" width="1" height="6.300000000000011" fill="#0073C2" opacity="0.45"/><rect x="86.9" y="170.5" width="1" height="6.300000000000011" fill="#0073C2" opacity="0.45"/><rect x="224.3" y="170.5" width="0.8" height="6.300000000000011" fill="#EFC000" opacity="0.8"/><rect x="213.3" y="170.5" width="0.8" height="6.300000000000011" fill="#EFC000" opacity="0.8"/><rect x="237.1" y="170.5" width="0.8" height="6.300000000000011" fill="#EFC000" opacity="0.8"/><rect x="225.2" y="170.5" width="1.0" height="6.300000000000011" fill="#EFC000" opacity="0.8"/><rect x="239.4" y="170.5" width="1.3" height="6.300000000000011" fill="#EFC000" opacity="0.8"/><rect x="176.6" y="170.5" width="0.8" height="6.300000000000011" fill="#EFC000" opacity="0.5"/><rect x="236.7" y="170.5" width="0.8" height="6.300000000000011" fill="#EFC000" opacity="0.8"/><rect x="238.0" y="170.5" width="1.0" height="6.300000000000011" fill="#EFC000" opacity="0.8"/><rect x="237.3" y="170.5" width="0.8" height="6.300000000000011" fill="#EFC000" opacity="0.8"/><rect x="232.9" y="170.5" width="1.0" height="6.300000000000011" fill="#EFC000" opacity="0.8"/><rect x="231.3" y="170.5" width="1.0" height="6.300000000000011" fill="#EFC000" opacity="0.8"/><rect x="217.9" y="170.5" width="0.8" height="6.300000000000011" fill="#EFC000" opacity="0.8"/><rect x="199.6" y="170.5" width="0.8" height="6.300000000000011" fill="#EFC000" opacity="0.8"/><rect x="221.9" y="170.5" width="1.3" height="6.300000000000011" fill="#EFC000" opacity="0.8"/><rect x="232.8" y="170.5" width="0.8" height="6.300000000000011" fill="#EFC000" opacity="0.8"/><rect x="228.4" y="170.5" width="0.8" height="6.300000000000011" fill="#EFC000" opacity="0.8"/><rect x="232.1" y="170.5" width="1.3" height="6.300000000000011" fill="#EFC000" opacity="0.8"/><rect x="238.1" y="170.5" width="1.3" height="6.300000000000011" fill="#EFC000" opacity="0.8"/><rect x="203.6" y="170.5" width="0.8" height="6.300000000000011" fill="#EFC000" opacity="0.8"/><rect x="224.7" y="170.5" width="0.8" height="6.300000000000011" fill="#EFC000" opacity="0.8"/><rect x="206.7" y="170.5" width="0.8" height="6.300000000000011" fill="#EFC000" opacity="0.8"/><rect x="232.0" y="170.5" width="1.3" height="6.300000000000011" fill="#EFC000" opacity="0.8"/><rect x="233.7" y="170.5" width="1.3" height="6.300000000000011" fill="#EFC000" opacity="0.8"/><rect x="193.0" y="170.5" width="0.8" height="6.300000000000011" fill="#EFC000" opacity="0.8"/><rect x="221.5" y="170.5" width="0.8" height="6.300000000000011" fill="#EFC000" opacity="0.8"/><rect x="204.0" y="170.5" width="0.8" height="6.300000000000011" fill="#EFC000" opacity="0.8"/><rect x="216.1" y="170.5" width="0.8" height="6.300000000000011" fill="#EFC000" opacity="0.8"/><rect x="233.8" y="170.5" width="1.3" height="6.300000000000011" fill="#EFC000" opacity="0.8"/><rect x="239.5" y="170.5" width="1.0" height="6.300000000000011" fill="#EFC000" opacity="0.8"/><rect x="212.5" y="170.5" width="0.8" height="6.300000000000011" fill="#EFC000" opacity="0.8"/><rect x="222.9" y="170.5" width="1.0" height="6.300000000000011" fill="#EFC000" opacity="0.8"/><rect x="223.8" y="170.5" width="1.3" height="6.300000000000011" fill="#EFC000" opacity="0.8"/><rect x="229.2" y="170.5" width="1.0" height="6.300000000000011" fill="#EFC000" opacity="0.8"/><rect x="225.5" y="170.5" width="0.8" height="6.300000000000011" fill="#EFC000" opacity="0.8"/><rect x="178.3" y="170.5" width="0.8" height="6.300000000000011" fill="#EFC000" opacity="0.5"/><rect x="182.4" y="170.5" width="0.8" height="6.300000000000011" fill="#EFC000" opacity="0.5"/><rect x="229.5" y="170.5" width="1.0" height="6.300000000000011" fill="#EFC000" opacity="0.8"/><rect x="194.7" y="170.5" width="0.8" height="6.300000000000011" fill="#EFC000" opacity="0.8"/><rect x="211.2" y="170.5" width="0.8" height="6.300000000000011" fill="#EFC000" opacity="0.8"/><rect x="166.9" y="170.5" width="0.8" height="6.300000000000011" fill="#EFC000" opacity="0.5"/><rect x="216.4" y="170.5" width="0.8" height="6.300000000000011" fill="#EFC000" opacity="0.8"/><rect x="223.3" y="170.5" width="1.3" height="6.300000000000011" fill="#EFC000" opacity="0.8"/><rect x="168.9" y="170.5" width="0.8" height="6.300000000000011" fill="#EFC000" opacity="0.5"/><rect x="235.6" y="170.5" width="1.3" height="6.300000000000011" fill="#EFC000" opacity="0.8"/><rect x="239.3" y="170.5" width="1.3" height="6.300000000000011" fill="#EFC000" opacity="0.8"/><rect x="204.3" y="170.5" width="0.8" height="6.300000000000011" fill="#EFC000" opacity="0.8"/><rect x="114.8" y="170.5" width="0.8" height="6.300000000000011" fill="#EFC000" opacity="0.5"/><rect x="161.4" y="170.5" width="0.8" height="6.300000000000011" fill="#EFC000" opacity="0.5"/><rect x="164.3" y="170.5" width="0.8" height="6.300000000000011" fill="#EFC000" opacity="0.5"/><rect x="176.6" y="170.5" width="0.8" height="6.300000000000011" fill="#EFC000" opacity="0.5"/><rect x="251.6" y="170.5" width=".8" height="6.300000000000011" fill="#868686" opacity=".5"/><rect x="262.1" y="170.5" width=".8" height="6.300000000000011" fill="#868686" opacity=".5"/><rect x="275.8" y="170.5" width=".8" height="6.300000000000011" fill="#868686" opacity=".5"/><rect x="300.6" y="170.5" width=".8" height="6.300000000000011" fill="#868686" opacity=".5"/><rect x="322.3" y="170.5" width=".8" height="6.300000000000011" fill="#868686" opacity=".5"/><rect x="330.6" y="170.5" width=".8" height="6.300000000000011" fill="#868686" opacity=".5"/><rect x="347.0" y="170.5" width=".8" height="6.300000000000011" fill="#868686" opacity=".5"/><rect x="356.6" y="170.5" width=".8" height="6.300000000000011" fill="#868686" opacity=".5"/><rect x="445.6" y="170.5" width="1.1" height="6.300000000000011" fill="#CD534C" opacity=".6"/><rect x="415.0" y="170.5" width="1.1" height="6.300000000000011" fill="#CD534C" opacity=".6"/><rect x="428.1" y="170.5" width="1.1" height="6.300000000000011" fill="#CD534C" opacity=".6"/><rect x="443.7" y="170.5" width="1.1" height="6.300000000000011" fill="#CD534C" opacity=".6"/><rect x="423.5" y="170.5" width="1.1" height="6.300000000000011" fill="#CD534C" opacity=".6"/><rect x="425.7" y="170.5" width="1.1" height="6.300000000000011" fill="#CD534C" opacity=".6"/><rect x="438.8" y="170.5" width="1.1" height="6.300000000000011" fill="#CD534C" opacity=".6"/><rect x="449.1" y="170.5" width="1.1" height="6.300000000000011" fill="#CD534C" opacity=".6"/><rect x="445.6" y="170.5" width="1.1" height="6.300000000000011" fill="#CD534C" opacity=".6"/><rect x="432.3" y="170.5" width="1.1" height="6.300000000000011" fill="#CD534C" opacity=".6"/><rect x="470.4" y="170.5" width="1.1" height="6.300000000000011" fill="#CD534C" opacity=".6"/><rect x="463.4" y="170.5" width="1.1" height="6.300000000000011" fill="#CD534C" opacity=".6"/><rect x="451.1" y="170.5" width="1.1" height="6.300000000000011" fill="#CD534C" opacity=".6"/><rect x="431.0" y="170.5" width="1.1" height="6.300000000000011" fill="#CD534C" opacity=".6"/><rect x="439.3" y="170.5" width="1.1" height="6.300000000000011" fill="#CD534C" opacity=".6"/><rect x="447.8" y="170.5" width="1.1" height="6.300000000000011" fill="#CD534C" opacity=".6"/><rect x="444.7" y="170.5" width="1.1" height="6.300000000000011" fill="#CD534C" opacity=".6"/><rect x="462.5" y="170.5" width="1.1" height="6.300000000000011" fill="#CD534C" opacity=".6"/><rect x="429.4" y="170.5" width="1.1" height="6.300000000000011" fill="#CD534C" opacity=".6"/><rect x="436.6" y="170.5" width="1.1" height="6.300000000000011" fill="#CD534C" opacity=".6"/><rect x="450.0" y="170.5" width="1.1" height="6.300000000000011" fill="#CD534C" opacity=".6"/><rect x="459.4" y="170.5" width="1.1" height="6.300000000000011" fill="#CD534C" opacity=".6"/><rect x="462.3" y="170.5" width="1.1" height="6.300000000000011" fill="#CD534C" opacity=".6"/><rect x="432.3" y="170.5" width="1.1" height="6.300000000000011" fill="#CD534C" opacity=".6"/><rect x="430.3" y="170.5" width="1.1" height="6.300000000000011" fill="#CD534C" opacity=".6"/><rect x="423.3" y="170.5" width="1.1" height="6.300000000000011" fill="#CD534C" opacity=".6"/><rect x="434.7" y="170.5" width="1.1" height="6.300000000000011" fill="#CD534C" opacity=".6"/><rect x="440.8" y="170.5" width="1.1" height="6.300000000000011" fill="#CD534C" opacity=".6"/><rect x="461.2" y="170.5" width="1.1" height="6.300000000000011" fill="#CD534C" opacity=".6"/><rect x="426.1" y="170.5" width="1.1" height="6.300000000000011" fill="#CD534C" opacity=".6"/><rect x="413.9" y="170.5" width="1.1" height="6.300000000000011" fill="#CD534C" opacity=".6"/><rect x="417.4" y="170.5" width="1.1" height="6.300000000000011" fill="#CD534C" opacity=".6"/><rect x="420.0" y="170.5" width="1.1" height="6.300000000000011" fill="#CD534C" opacity=".6"/><rect x="415.4" y="170.5" width="1.1" height="6.300000000000011" fill="#CD534C" opacity=".6"/><rect x="413.3" y="170.5" width="1.1" height="6.300000000000011" fill="#CD534C" opacity=".6"/><rect x="434.1" y="170.5" width="1.1" height="6.300000000000011" fill="#CD534C" opacity=".6"/><rect x="412.8" y="170.5" width="1.1" height="6.300000000000011" fill="#CD534C" opacity=".6"/><rect x="419.1" y="170.5" width="1.1" height="6.300000000000011" fill="#CD534C" opacity=".6"/><rect x="419.0" y="170.5" width="1.1" height="6.300000000000011" fill="#CD534C" opacity=".6"/><rect x="411.7" y="170.5" width="1.1" height="6.300000000000011" fill="#CD534C" opacity=".6"/><rect x="413.5" y="170.5" width="1.1" height="6.300000000000011" fill="#CD534C" opacity=".6"/><rect x="412.3" y="170.5" width="1.1" height="6.300000000000011" fill="#CD534C" opacity=".6"/><rect x="412.7" y="170.5" width="1.1" height="6.300000000000011" fill="#CD534C" opacity=".6"/><rect x="421.9" y="170.5" width="1.1" height="6.300000000000011" fill="#CD534C" opacity=".6"/><rect x="416.7" y="170.5" width="1.1" height="6.300000000000011" fill="#CD534C" opacity=".6"/><rect x="428.9" y="170.5" width="1.1" height="6.300000000000011" fill="#CD534C" opacity=".6"/><rect x="423.4" y="170.5" width="1.1" height="6.300000000000011" fill="#CD534C" opacity=".6"/><rect x="411.9" y="170.5" width="1.1" height="6.300000000000011" fill="#CD534C" opacity=".6"/><rect x="419.0" y="170.5" width="1.1" height="6.300000000000011" fill="#CD534C" opacity=".6"/><rect x="417.3" y="170.5" width="1.1" height="6.300000000000011" fill="#CD534C" opacity=".6"/><rect x="412.7" y="170.5" width="1.1" height="6.300000000000011" fill="#CD534C" opacity=".6"/><rect x="412.0" y="170.5" width="1.1" height="6.300000000000011" fill="#CD534C" opacity=".6"/><rect x="425.4" y="170.5" width="1.1" height="6.300000000000011" fill="#CD534C" opacity=".6"/><rect x="414.9" y="170.5" width="1.1" height="6.300000000000011" fill="#CD534C" opacity=".6"/><rect x="412.5" y="170.5" width="1.1" height="6.300000000000011" fill="#CD534C" opacity=".6"/><rect x="413.9" y="170.5" width="1.1" height="6.300000000000011" fill="#CD534C" opacity=".6"/><rect x="426.7" y="170.5" width="1.1" height="6.300000000000011" fill="#CD534C" opacity=".6"/><rect x="414.3" y="170.5" width="1.1" height="6.300000000000011" fill="#CD534C" opacity=".6"/><rect x="430.4" y="170.5" width=".9" height="6.300000000000011" fill="#868686" opacity=".6"/><rect x="511.2" y="286" width="5.9" height="83.1" fill="#CD534C"/><rect x="511.2" y="369.1" width="5.9" height="175.9" fill="#0073C2"/><rect x="511.2" y="370.6" width="5.9" height=".9" fill="#868686" opacity=".55"/><rect x="511.2" y="372.3" width="5.9" height=".9" fill="#868686" opacity=".55"/><rect x="511.2" y="374.0" width="5.9" height=".9" fill="#868686" opacity=".55"/><rect x="511.2" y="375.7" width="5.9" height=".9" fill="#868686" opacity=".55"/><rect x="511.2" y="377.4" width="5.9" height=".9" fill="#868686" opacity=".55"/><rect x="511.2" y="379.1" width="5.9" height=".9" fill="#868686" opacity=".55"/><rect x="511.2" y="380.8" width="5.9" height=".9" fill="#868686" opacity=".55"/><rect x="511.2" y="382.5" width="5.9" height=".9" fill="#868686" opacity=".55"/><rect x="511.2" y="384.2" width="5.9" height=".9" fill="#868686" opacity=".55"/><rect x="511.2" y="385.9" width="5.9" height=".9" fill="#868686" opacity=".55"/><rect x="511.2" y="387.6" width="5.9" height=".9" fill="#868686" opacity=".55"/><rect x="511.2" y="389.3" width="5.9" height=".9" fill="#868686" opacity=".55"/><rect x="511.2" y="391.0" width="5.9" height=".9" fill="#868686" opacity=".55"/><rect x="511.2" y="392.7" width="5.9" height=".9" fill="#868686" opacity=".55"/><rect x="511.2" y="396.0" width="5.9" height=".8" fill="#868686" opacity=".35"/><rect x="511.2" y="404.5" width="5.9" height=".8" fill="#868686" opacity=".35"/><rect x="511.2" y="428.0" width="5.9" height=".8" fill="#868686" opacity=".35"/><rect x="511.2" y="441.0" width="5.9" height=".8" fill="#868686" opacity=".35"/><rect x="511.2" y="465.0" width="5.9" height=".8" fill="#868686" opacity=".35"/><rect x="511.2" y="356.8" width="5.9" height=".9" fill="#EFC000" opacity=".45"/><rect x="511.2" y="368.3" width="5.9" height=".9" fill="#EFC000" opacity=".45"/><rect x="511.2" y="211.6" width="5.9" height="1" fill="#CD534C" opacity="0.6"/><rect x="511.2" y="229.6" width="5.9" height="1" fill="#CD534C" opacity="0.6"/><rect x="511.2" y="252.8" width="5.9" height="1" fill="#CD534C" opacity="0.75"/><rect x="511.2" y="254.1" width="5.9" height="1" fill="#CD534C" opacity="0.75"/><rect x="511.2" y="255.9" width="5.9" height="1" fill="#CD534C" opacity="0.75"/><rect x="511.2" y="250.1" width="5.9" height="1" fill="#CD534C" opacity="0.6"/><rect x="511.2" y="259.9" width="5.9" height="1" fill="#CD534C" opacity="0.5"/><rect x="511.2" y="262.6" width="5.9" height="1" fill="#EFC000" opacity="0.7"/><rect x="511.2" y="269.5" width="5.9" height="1" fill="#CD534C" opacity="0.55"/><rect x="511.2" y="266.0" width="5.9" height="1" fill="#CD534C" opacity="0.4"/><rect x="511.2" y="277.1" width="5.9" height="1" fill="#E08A4A" opacity="0.75"/><rect x="511.2" y="278.3" width="5.9" height="1" fill="#CD534C" opacity="0.7"/><rect x="511.2" y="279.7" width="5.9" height="1" fill="#E08A4A" opacity="0.75"/><rect x="511.2" y="281.0" width="5.9" height="1" fill="#CD534C" opacity="0.75"/><rect x="511.2" y="282.3" width="5.9" height="1" fill="#CD534C" opacity="0.8"/><rect x="511.2" y="283.7" width="5.9" height="1" fill="#CD534C" opacity="0.85"/><rect x="511.2" y="284.8" width="5.9" height="1" fill="#CD534C" opacity="0.9"/><rect x="511.2" y="274.5" width="5.9" height="1" fill="#CD534C" opacity="0.5"/><rect x="511.2" y="546.3" width="5.9" height="1" fill="#0073C2" opacity=".55"/><rect x="511.2" y="549.9" width="5.9" height="1" fill="#0073C2" opacity=".55"/><rect x="511.2" y="552.7" width="5.9" height="1" fill="#0073C2" opacity=".55"/><rect x="511.2" y="555.9" width="5.9" height="1" fill="#0073C2" opacity=".55"/><rect x="511.2" y="558.1" width="5.9" height="1" fill="#0073C2" opacity=".55"/><rect x="511.2" y="559.5" width="5.9" height="1" fill="#0073C2" opacity=".55"/><rect x="511.2" y="560.9" width="5.9" height="1" fill="#0073C2" opacity=".55"/><rect x="511.2" y="562.3" width="5.9" height="1" fill="#0073C2" opacity=".55"/><rect x="511.2" y="565.5" width="5.9" height="1" fill="#0073C2" opacity=".55"/><rect x="511.2" y="573.3" width="5.9" height="1" fill="#0073C2" opacity=".55"/><rect x="511.2" y="583.3" width="5.9" height="1" fill="#0073C2" opacity=".55"/><rect x="511.2" y="597.8" width="5.9" height="1" fill="#0073C2" opacity=".55"/><g fill="#0073C2" fill-opacity="0.5" stroke="#0073C2" stroke-width="0.9"><rect x="519.3" y="372.97" width="2.0" height="3.97"/><rect x="519.3" y="376.94" width="2.3" height="3.97"/><rect x="519.3" y="380.91" width="2.5" height="3.97"/><rect x="519.3" y="384.88" width="2.5" height="3.97"/><rect x="519.3" y="388.85" width="2.4" height="3.97"/><rect x="519.3" y="392.82" width="2.2" height="3.97"/><rect x="519.3" y="396.79" width="2.0" height="3.97"/><rect x="519.3" y="400.76" width="1.8" height="3.97"/><rect x="519.3" y="404.73" width="1.6" height="3.97"/><rect x="519.3" y="408.70" width="1.4" height="3.97"/><rect x="519.3" y="412.67" width="1.2" height="3.97"/><rect x="519.3" y="416.64" width="1.1" height="3.97"/><rect x="519.3" y="420.61" width="1.0" height="3.97"/><rect x="519.3" y="424.58" width="0.9" height="3.97"/><rect x="519.3" y="428.55" width="0.8" height="3.97"/><rect x="519.3" y="432.52" width="0.7" height="3.97"/><rect x="519.3" y="436.49" width="0.6" height="3.97"/><rect x="519.3" y="440.46" width="0.6" height="3.97"/></g><g fill="#868686" fill-opacity="0.55" stroke="#868686" stroke-width="1.0"><rect x="519.3" y="369.00" width="9.8" height="3.97"/><rect x="519.3" y="372.97" width="6.1" height="3.97"/><rect x="519.3" y="376.94" width="6.9" height="3.97"/><rect x="519.3" y="380.91" width="3.2" height="3.97"/><rect x="519.3" y="384.88" width="1.9" height="3.97"/></g><g fill="#E8A020" fill-opacity="0.75" stroke="#E8A020" stroke-width="0"><rect x="519.3" y="365.03" width="10.5" height="3.97"/><rect x="519.3" y="361.06" width="7.3" height="3.97"/><rect x="519.3" y="357.09" width="11.7" height="3.97"/><rect x="519.3" y="353.12" width="7.3" height="3.97"/><rect x="519.3" y="349.15" width="6.4" height="3.97"/><rect x="519.3" y="345.18" width="7.6" height="3.97"/><rect x="519.3" y="341.21" width="4.4" height="3.97"/><rect x="519.3" y="337.24" width="4.1" height="3.97"/><rect x="519.3" y="333.27" width="4.4" height="3.97"/><rect x="519.3" y="329.30" width="2.2" height="3.97"/><rect x="519.3" y="325.33" width="2.2" height="3.97"/></g><g fill="#CD534C" fill-opacity="0.5" stroke="#CD534C" stroke-width="1.3"><rect x="519.3" y="365.03" width="37.8" height="3.97"/><rect x="519.3" y="361.06" width="36.1" height="3.97"/><rect x="519.3" y="357.09" width="88.2" height="3.97"/><rect x="519.3" y="353.12" width="72.6" height="3.97"/><rect x="519.3" y="349.15" width="78.0" height="3.97"/><rect x="519.3" y="345.18" width="130.2" height="3.97"/><rect x="519.3" y="341.21" width="100.0" height="3.97"/><rect x="519.3" y="337.24" width="107.1" height="3.97"/><rect x="519.3" y="333.27" width="163.9" height="3.97"/><rect x="519.3" y="329.30" width="98.2" height="3.97"/><rect x="519.3" y="325.33" width="115.2" height="3.97"/><rect x="519.3" y="321.36" width="56.5" height="3.97"/><rect x="519.3" y="317.39" width="34.2" height="3.97"/><rect x="519.3" y="313.42" width="20.4" height="3.97"/><rect x="519.3" y="309.45" width="3.2" height="3.97"/><rect x="519.3" y="305.48" width="1.5" height="3.97"/></g><g fill="#CD534C" fill-opacity="0.25" stroke="#CD534C" stroke-width="1.1"><rect x="519.3" y="369.00" width="9.8" height="3.97"/></g><line x1="519.3" y1="207.7" x2="519.3" y2="599" stroke="#CD534C" stroke-width="1.5"/></svg>
</body>
</html>
